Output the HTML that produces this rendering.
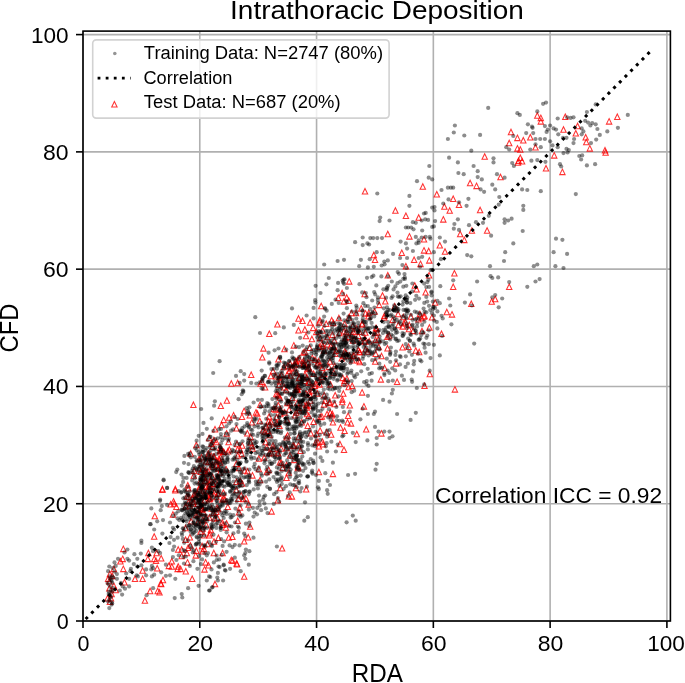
<!DOCTYPE html>
<html><head><meta charset="utf-8"><style>
html,body{margin:0;padding:0;background:#fff;}
body{width:685px;height:683px;overflow:hidden;}
svg{display:block;will-change:transform;}
</style></head><body>
<svg width="685" height="683" viewBox="0 0 685 683">
<rect width="685" height="683" fill="#fff"/>
<g stroke="#b0b0b0" stroke-width="1.6"><line x1="83.00" y1="31.10" x2="83.00" y2="621.00"/><line x1="83.00" y1="621.00" x2="670.40" y2="621.00"/><line x1="199.78" y1="31.10" x2="199.78" y2="621.00"/><line x1="83.00" y1="503.72" x2="670.40" y2="503.72"/><line x1="316.56" y1="31.10" x2="316.56" y2="621.00"/><line x1="83.00" y1="386.44" x2="670.40" y2="386.44"/><line x1="433.34" y1="31.10" x2="433.34" y2="621.00"/><line x1="83.00" y1="269.16" x2="670.40" y2="269.16"/><line x1="550.12" y1="31.10" x2="550.12" y2="621.00"/><line x1="83.00" y1="151.88" x2="670.40" y2="151.88"/><line x1="666.90" y1="31.10" x2="666.90" y2="621.00"/><line x1="83.00" y1="34.60" x2="670.40" y2="34.60"/></g><g fill="none" stroke="#ff0000" stroke-width="1.05" stroke-opacity="0.8" stroke-linejoin="miter"><path d="M220.1 444.9L222.8 450.4L217.4 450.4Z"/><path d="M210.1 530.5L212.8 536.0L207.4 536.0Z"/><path d="M260.1 401.9L262.8 407.4L257.4 407.4Z"/><path d="M176.4 503.9L179.1 509.4L173.7 509.4Z"/><path d="M298.5 315.7L301.2 321.2L295.8 321.2Z"/><path d="M289.5 367.7L292.2 373.2L286.8 373.2Z"/><path d="M172.9 511.8L175.6 517.3L170.2 517.3Z"/><path d="M212.3 461.7L215.0 467.2L209.6 467.2Z"/><path d="M303.5 358.1L306.2 363.6L300.8 363.6Z"/><path d="M142.6 576.0L145.3 581.5L139.9 581.5Z"/><path d="M319.7 381.6L322.4 387.1L317.0 387.1Z"/><path d="M361.2 305.6L363.9 311.1L358.5 311.1Z"/><path d="M109.3 585.4L112.0 590.9L106.6 590.9Z"/><path d="M562.4 169.1L565.1 174.6L559.7 174.6Z"/><path d="M220.8 403.0L223.5 408.5L218.1 408.5Z"/><path d="M287.1 417.2L289.8 422.7L284.4 422.7Z"/><path d="M453.2 284.0L455.9 289.5L450.5 289.5Z"/><path d="M218.2 490.7L220.9 496.2L215.5 496.2Z"/><path d="M218.4 465.3L221.1 470.8L215.7 470.8Z"/><path d="M232.4 534.0L235.1 539.5L229.7 539.5Z"/><path d="M314.9 383.0L317.6 388.5L312.2 388.5Z"/><path d="M223.0 522.0L225.7 527.5L220.3 527.5Z"/><path d="M273.0 442.7L275.7 448.2L270.3 448.2Z"/><path d="M193.4 401.9L196.1 407.4L190.7 407.4Z"/><path d="M223.8 449.2L226.5 454.7L221.1 454.7Z"/><path d="M523.3 137.4L526.0 142.9L520.6 142.9Z"/><path d="M247.3 430.4L250.0 435.9L244.6 435.9Z"/><path d="M211.5 505.8L214.2 511.3L208.8 511.3Z"/><path d="M331.7 317.5L334.4 323.0L329.0 323.0Z"/><path d="M223.5 448.9L226.2 454.4L220.8 454.4Z"/><path d="M312.3 355.1L315.0 360.6L309.6 360.6Z"/><path d="M237.6 446.7L240.3 452.2L234.9 452.2Z"/><path d="M214.7 515.6L217.4 521.1L212.0 521.1Z"/><path d="M286.5 475.0L289.2 480.5L283.8 480.5Z"/><path d="M518.6 157.9L521.3 163.4L515.9 163.4Z"/><path d="M387.5 345.5L390.2 351.0L384.8 351.0Z"/><path d="M332.9 419.5L335.6 425.0L330.2 425.0Z"/><path d="M345.4 335.2L348.1 340.7L342.7 340.7Z"/><path d="M298.5 327.4L301.2 332.9L295.8 332.9Z"/><path d="M424.5 383.0L427.2 388.5L421.8 388.5Z"/><path d="M120.4 558.4L123.1 563.9L117.7 563.9Z"/><path d="M213.3 481.1L216.0 486.6L210.6 486.6Z"/><path d="M290.0 452.8L292.7 458.3L287.3 458.3Z"/><path d="M279.9 378.5L282.6 384.0L277.2 384.0Z"/><path d="M424.0 247.6L426.7 253.1L421.3 253.1Z"/><path d="M231.3 380.8L234.0 386.3L228.6 386.3Z"/><path d="M470.1 180.2L472.8 185.7L467.4 185.7Z"/><path d="M280.3 485.3L283.0 490.8L277.6 490.8Z"/><path d="M296.7 361.2L299.4 366.7L294.0 366.7Z"/><path d="M324.3 371.1L327.0 376.6L321.6 376.6Z"/><path d="M228.6 439.2L231.3 444.7L225.9 444.7Z"/><path d="M113.9 583.1L116.6 588.6L111.2 588.6Z"/><path d="M204.5 497.8L207.2 503.3L201.8 503.3Z"/><path d="M331.2 431.8L333.9 437.3L328.5 437.3Z"/><path d="M308.0 359.5L310.7 365.0L305.3 365.0Z"/><path d="M156.0 557.9L158.7 563.4L153.3 563.4Z"/><path d="M368.7 310.2L371.4 315.7L366.0 315.7Z"/><path d="M432.0 314.4L434.7 319.9L429.3 319.9Z"/><path d="M414.8 282.7L417.5 288.2L412.1 288.2Z"/><path d="M219.3 457.4L222.0 462.9L216.6 462.9Z"/><path d="M154.2 556.1L156.9 561.6L151.5 561.6Z"/><path d="M309.2 379.2L311.9 384.7L306.5 384.7Z"/><path d="M208.5 562.5L211.2 568.0L205.8 568.0Z"/><path d="M364.6 291.3L367.3 296.8L361.9 296.8Z"/><path d="M298.6 434.2L301.3 439.7L295.9 439.7Z"/><path d="M402.7 323.6L405.4 329.1L400.0 329.1Z"/><path d="M487.1 227.7L489.8 233.2L484.4 233.2Z"/><path d="M429.1 272.4L431.8 277.9L426.4 277.9Z"/><path d="M376.0 325.3L378.7 330.8L373.3 330.8Z"/><path d="M500.5 174.3L503.2 179.8L497.8 179.8Z"/><path d="M359.5 349.2L362.2 354.7L356.8 354.7Z"/><path d="M424.0 236.5L426.7 242.0L421.3 242.0Z"/><path d="M290.5 372.8L293.2 378.3L287.8 378.3Z"/><path d="M563.5 126.8L566.2 132.3L560.8 132.3Z"/><path d="M509.2 140.3L511.9 145.8L506.5 145.8Z"/><path d="M241.1 492.5L243.8 498.0L238.4 498.0Z"/><path d="M268.6 418.4L271.3 423.9L265.9 423.9Z"/><path d="M589.8 145.6L592.5 151.1L587.1 151.1Z"/><path d="M365.5 346.4L368.2 351.9L362.8 351.9Z"/><path d="M266.7 469.2L269.4 474.7L264.0 474.7Z"/><path d="M202.8 517.1L205.5 522.6L200.1 522.6Z"/><path d="M338.9 315.3L341.6 320.8L336.2 320.8Z"/><path d="M605.6 149.7L608.3 155.2L602.9 155.2Z"/><path d="M429.3 257.6L432.0 263.1L426.6 263.1Z"/><path d="M302.5 318.0L305.2 323.5L299.8 323.5Z"/><path d="M295.8 358.7L298.5 364.2L293.1 364.2Z"/><path d="M454.4 270.5L457.1 276.0L451.7 276.0Z"/><path d="M375.7 351.0L378.4 356.5L373.0 356.5Z"/><path d="M585.7 134.5L588.4 140.0L583.0 140.0Z"/><path d="M111.6 591.3L114.3 596.8L108.9 596.8Z"/><path d="M203.3 509.3L206.0 514.8L200.6 514.8Z"/><path d="M279.5 423.0L282.2 428.5L276.8 428.5Z"/><path d="M323.0 441.5L325.7 447.0L320.3 447.0Z"/><path d="M222.3 519.8L225.0 525.3L219.6 525.3Z"/><path d="M586.3 139.2L589.0 144.7L583.6 144.7Z"/><path d="M287.0 372.3L289.7 377.8L284.3 377.8Z"/><path d="M394.7 303.4L397.4 308.9L392.0 308.9Z"/><path d="M223.4 489.7L226.1 495.2L220.7 495.2Z"/><path d="M185.8 568.4L188.5 573.9L183.1 573.9Z"/><path d="M220.3 459.8L223.0 465.3L217.6 465.3Z"/><path d="M271.0 419.2L273.7 424.7L268.3 424.7Z"/><path d="M298.8 404.9L301.5 410.4L296.1 410.4Z"/><path d="M316.7 431.3L319.4 436.8L314.0 436.8Z"/><path d="M219.8 469.8L222.5 475.3L217.1 475.3Z"/><path d="M206.0 458.4L208.7 463.9L203.3 463.9Z"/><path d="M269.7 432.2L272.4 437.7L267.0 437.7Z"/><path d="M443.3 216.6L446.0 222.1L440.6 222.1Z"/><path d="M334.6 401.2L337.3 406.7L331.9 406.7Z"/><path d="M211.1 452.9L213.8 458.4L208.4 458.4Z"/><path d="M208.1 483.9L210.8 489.4L205.4 489.4Z"/><path d="M144.9 597.7L147.6 603.2L142.2 603.2Z"/><path d="M292.4 364.4L295.1 369.9L289.7 369.9Z"/><path d="M187.5 559.6L190.2 565.1L184.8 565.1Z"/><path d="M316.2 329.1L318.9 334.6L313.5 334.6Z"/><path d="M204.0 474.3L206.7 479.8L201.3 479.8Z"/><path d="M333.6 344.1L336.3 349.6L330.9 349.6Z"/><path d="M377.1 329.6L379.8 335.1L374.4 335.1Z"/><path d="M342.7 375.1L345.4 380.6L340.0 380.6Z"/><path d="M392.6 317.1L395.3 322.6L389.9 322.6Z"/><path d="M196.3 547.9L199.0 553.4L193.6 553.4Z"/><path d="M384.3 313.1L387.0 318.6L381.6 318.6Z"/><path d="M201.5 454.5L204.2 460.0L198.8 460.0Z"/><path d="M511.0 129.2L513.7 134.7L508.3 134.7Z"/><path d="M195.7 552.6L198.4 558.1L193.0 558.1Z"/><path d="M360.5 338.1L363.2 343.6L357.8 343.6Z"/><path d="M342.3 399.3L345.0 404.8L339.6 404.8Z"/><path d="M286.6 462.3L289.3 467.8L283.9 467.8Z"/><path d="M240.3 447.1L243.0 452.6L237.6 452.6Z"/><path d="M373.8 252.3L376.5 257.8L371.1 257.8Z"/><path d="M248.2 534.4L250.9 539.9L245.5 539.9Z"/><path d="M328.9 364.1L331.6 369.6L326.2 369.6Z"/><path d="M208.1 468.5L210.8 474.0L205.4 474.0Z"/><path d="M205.6 559.6L208.3 565.1L202.9 565.1Z"/><path d="M418.5 316.4L421.2 321.9L415.8 321.9Z"/><path d="M319.7 362.5L322.4 368.0L317.0 368.0Z"/><path d="M265.1 384.4L267.8 389.9L262.4 389.9Z"/><path d="M297.3 386.4L300.0 391.9L294.6 391.9Z"/><path d="M575.8 130.4L578.5 135.9L573.1 135.9Z"/><path d="M359.8 349.2L362.5 354.7L357.1 354.7Z"/><path d="M346.7 294.7L349.4 300.2L344.0 300.2Z"/><path d="M429.8 371.3L432.5 376.8L427.1 376.8Z"/><path d="M194.1 468.0L196.8 473.5L191.4 473.5Z"/><path d="M213.8 550.2L216.5 555.7L211.1 555.7Z"/><path d="M214.6 489.3L217.3 494.8L211.9 494.8Z"/><path d="M491.7 298.7L494.4 304.2L489.0 304.2Z"/><path d="M312.7 387.8L315.4 393.3L310.0 393.3Z"/><path d="M334.7 363.3L337.4 368.8L332.0 368.8Z"/><path d="M384.1 314.7L386.8 320.2L381.4 320.2Z"/><path d="M220.0 448.2L222.7 453.7L217.3 453.7Z"/><path d="M185.6 536.9L188.3 542.4L182.9 542.4Z"/><path d="M365.5 310.6L368.2 316.1L362.8 316.1Z"/><path d="M284.4 346.2L287.1 351.7L281.7 351.7Z"/><path d="M156.6 550.2L159.3 555.7L153.9 555.7Z"/><path d="M214.1 453.6L216.8 459.1L211.4 459.1Z"/><path d="M382.5 292.8L385.2 298.3L379.8 298.3Z"/><path d="M326.2 320.9L328.9 326.4L323.5 326.4Z"/><path d="M206.3 483.5L209.0 489.0L203.6 489.0Z"/><path d="M222.6 550.2L225.3 555.7L219.9 555.7Z"/><path d="M286.7 445.3L289.4 450.8L284.0 450.8Z"/><path d="M250.2 523.8L252.9 529.3L247.5 529.3Z"/><path d="M311.9 336.2L314.6 341.7L309.2 341.7Z"/><path d="M225.9 524.8L228.6 530.3L223.2 530.3Z"/><path d="M236.6 560.8L239.3 566.3L233.9 566.3Z"/><path d="M303.4 360.3L306.1 365.8L300.7 365.8Z"/><path d="M224.9 496.4L227.6 501.9L222.2 501.9Z"/><path d="M324.0 401.6L326.7 407.1L321.3 407.1Z"/><path d="M229.1 414.8L231.8 420.3L226.4 420.3Z"/><path d="M291.1 365.6L293.8 371.1L288.4 371.1Z"/><path d="M237.7 518.0L240.4 523.5L235.0 523.5Z"/><path d="M275.6 406.7L278.3 412.2L272.9 412.2Z"/><path d="M425.6 289.4L428.3 294.9L422.9 294.9Z"/><path d="M181.7 546.7L184.4 552.2L179.0 552.2Z"/><path d="M315.1 356.9L317.8 362.4L312.4 362.4Z"/><path d="M236.4 461.0L239.1 466.5L233.7 466.5Z"/><path d="M293.8 342.6L296.5 348.1L291.1 348.1Z"/><path d="M326.7 429.5L329.4 435.0L324.0 435.0Z"/><path d="M338.3 294.9L341.0 300.4L335.6 300.4Z"/><path d="M199.7 484.3L202.4 489.8L197.0 489.8Z"/><path d="M173.5 498.6L176.2 504.1L170.8 504.1Z"/><path d="M287.4 400.3L290.1 405.8L284.7 405.8Z"/><path d="M258.8 466.3L261.5 471.8L256.1 471.8Z"/><path d="M193.3 500.7L196.0 506.2L190.6 506.2Z"/><path d="M278.4 356.5L281.1 362.0L275.7 362.0Z"/><path d="M222.3 496.7L225.0 502.2L219.6 502.2Z"/><path d="M346.3 329.2L349.0 334.7L343.6 334.7Z"/><path d="M237.7 380.2L240.4 385.7L235.0 385.7Z"/><path d="M204.5 566.6L207.2 572.1L201.8 572.1Z"/><path d="M308.4 379.9L311.1 385.4L305.7 385.4Z"/><path d="M546.0 165.5L548.7 171.0L543.3 171.0Z"/><path d="M252.0 443.1L254.7 448.6L249.3 448.6Z"/><path d="M313.1 325.1L315.8 330.6L310.4 330.6Z"/><path d="M185.6 525.3L188.3 530.8L182.9 530.8Z"/><path d="M384.6 365.2L387.3 370.7L381.9 370.7Z"/><path d="M174.1 500.7L176.8 506.2L171.4 506.2Z"/><path d="M113.9 566.1L116.6 571.6L111.2 571.6Z"/><path d="M288.8 469.8L291.5 475.3L286.1 475.3Z"/><path d="M197.7 501.0L200.4 506.5L195.0 506.5Z"/><path d="M190.7 450.7L193.4 456.2L188.0 456.2Z"/><path d="M269.4 421.7L272.1 427.2L266.7 427.2Z"/><path d="M161.2 555.5L163.9 561.0L158.5 561.0Z"/><path d="M278.2 450.6L280.9 456.1L275.5 456.1Z"/><path d="M216.6 462.4L219.3 467.9L213.9 467.9Z"/><path d="M297.9 465.2L300.6 470.7L295.2 470.7Z"/><path d="M362.1 321.6L364.8 327.1L359.4 327.1Z"/><path d="M344.0 447.0L346.7 452.5L341.3 452.5Z"/><path d="M269.4 450.2L272.1 455.7L266.7 455.7Z"/><path d="M398.4 322.3L401.1 327.8L395.7 327.8Z"/><path d="M203.9 546.1L206.6 551.6L201.2 551.6Z"/><path d="M423.8 313.8L426.5 319.3L421.1 319.3Z"/><path d="M309.3 365.7L312.0 371.2L306.6 371.2Z"/><path d="M322.3 365.0L325.0 370.5L319.6 370.5Z"/><path d="M309.6 345.0L312.3 350.5L306.9 350.5Z"/><path d="M273.1 445.9L275.8 451.4L270.4 451.4Z"/><path d="M207.4 541.3L210.1 546.8L204.7 546.8Z"/><path d="M188.6 499.7L191.3 505.2L185.9 505.2Z"/><path d="M187.8 482.4L190.5 487.9L185.1 487.9Z"/><path d="M452.0 311.6L454.7 317.1L449.3 317.1Z"/><path d="M278.7 392.6L281.4 398.1L276.0 398.1Z"/><path d="M352.8 323.1L355.5 328.6L350.1 328.6Z"/><path d="M321.2 303.2L323.9 308.7L318.5 308.7Z"/><path d="M330.3 409.9L333.0 415.4L327.6 415.4Z"/><path d="M212.7 443.9L215.4 449.4L210.0 449.4Z"/><path d="M313.5 418.9L316.2 424.4L310.8 424.4Z"/><path d="M221.6 422.3L224.3 427.8L218.9 427.8Z"/><path d="M188.3 485.4L191.0 490.9L185.6 490.9Z"/><path d="M204.9 478.2L207.6 483.7L202.2 483.7Z"/><path d="M349.2 278.6L351.9 284.1L346.5 284.1Z"/><path d="M327.4 334.3L330.1 339.8L324.7 339.8Z"/><path d="M260.1 477.2L262.8 482.7L257.4 482.7Z"/><path d="M374.6 308.7L377.3 314.2L371.9 314.2Z"/><path d="M354.0 352.5L356.7 358.0L351.3 358.0Z"/><path d="M228.8 534.7L231.5 540.2L226.1 540.2Z"/><path d="M202.6 525.7L205.3 531.2L199.9 531.2Z"/><path d="M200.5 528.8L203.2 534.3L197.8 534.3Z"/><path d="M330.6 343.5L333.3 349.0L327.9 349.0Z"/><path d="M318.9 469.3L321.6 474.8L316.2 474.8Z"/><path d="M193.5 498.9L196.2 504.4L190.8 504.4Z"/><path d="M419.2 349.2L421.9 354.7L416.5 354.7Z"/><path d="M203.8 491.7L206.5 497.2L201.1 497.2Z"/><path d="M436.8 191.4L439.5 196.9L434.1 196.9Z"/><path d="M540.8 118.6L543.5 124.1L538.1 124.1Z"/><path d="M206.3 522.2L209.0 527.7L203.6 527.7Z"/><path d="M279.8 459.5L282.5 465.0L277.1 465.0Z"/><path d="M189.9 534.5L192.6 540.0L187.2 540.0Z"/><path d="M171.8 558.4L174.5 563.9L169.1 563.9Z"/><path d="M577.6 123.3L580.3 128.8L574.9 128.8Z"/><path d="M219.0 455.6L221.7 461.1L216.3 461.1Z"/><path d="M287.6 432.6L290.3 438.1L284.9 438.1Z"/><path d="M178.2 563.7L180.9 569.2L175.5 569.2Z"/><path d="M335.2 351.0L337.9 356.5L332.5 356.5Z"/><path d="M416.6 286.5L419.3 292.0L413.9 292.0Z"/><path d="M198.3 510.8L201.0 516.3L195.6 516.3Z"/><path d="M159.5 589.5L162.2 595.0L156.8 595.0Z"/><path d="M297.5 384.3L300.2 389.8L294.8 389.8Z"/><path d="M484.7 153.8L487.4 159.3L482.0 159.3Z"/><path d="M347.5 419.5L350.2 425.0L344.8 425.0Z"/><path d="M216.5 494.2L219.2 499.7L213.8 499.7Z"/><path d="M530.3 134.5L533.0 140.0L527.6 140.0Z"/><path d="M204.7 469.4L207.4 474.9L202.0 474.9Z"/><path d="M343.3 390.8L346.0 396.3L340.6 396.3Z"/><path d="M271.4 450.5L274.1 456.0L268.7 456.0Z"/><path d="M209.3 514.8L212.0 520.3L206.6 520.3Z"/><path d="M271.6 508.6L274.3 514.1L268.9 514.1Z"/><path d="M197.9 519.4L200.6 524.9L195.2 524.9Z"/><path d="M186.9 550.2L189.6 555.7L184.2 555.7Z"/><path d="M320.3 414.1L323.0 419.6L317.6 419.6Z"/><path d="M112.2 573.1L114.9 578.6L109.5 578.6Z"/><path d="M276.3 391.2L279.0 396.7L273.6 396.7Z"/><path d="M273.0 368.2L275.7 373.7L270.3 373.7Z"/><path d="M403.9 320.5L406.6 326.0L401.2 326.0Z"/><path d="M308.5 364.7L311.2 370.2L305.8 370.2Z"/><path d="M216.4 439.3L219.1 444.8L213.7 444.8Z"/><path d="M210.3 477.5L213.0 483.0L207.6 483.0Z"/><path d="M279.7 374.4L282.4 379.9L277.0 379.9Z"/><path d="M242.2 480.7L244.9 486.2L239.5 486.2Z"/><path d="M251.2 372.0L253.9 377.5L248.5 377.5Z"/><path d="M352.3 357.4L355.0 362.9L349.6 362.9Z"/><path d="M213.3 481.0L216.0 486.5L210.6 486.5Z"/><path d="M294.1 443.2L296.8 448.7L291.4 448.7Z"/><path d="M520.3 146.8L523.0 152.3L517.6 152.3Z"/><path d="M396.1 360.6L398.8 366.1L393.4 366.1Z"/><path d="M351.5 310.3L354.2 315.8L348.8 315.8Z"/><path d="M329.4 400.1L332.1 405.6L326.7 405.6Z"/><path d="M296.8 386.3L299.5 391.8L294.1 391.8Z"/><path d="M339.5 330.1L342.2 335.6L336.8 335.6Z"/><path d="M279.2 382.1L281.9 387.6L276.5 387.6Z"/><path d="M209.2 496.5L211.9 502.0L206.5 502.0Z"/><path d="M202.1 543.2L204.8 548.7L199.4 548.7Z"/><path d="M237.8 452.8L240.5 458.3L235.1 458.3Z"/><path d="M214.0 538.8L216.7 544.3L211.3 544.3Z"/><path d="M202.8 466.3L205.5 471.8L200.1 471.8Z"/><path d="M194.1 491.8L196.8 497.3L191.4 497.3Z"/><path d="M226.6 430.6L229.3 436.1L223.9 436.1Z"/><path d="M422.0 328.2L424.7 333.7L419.3 333.7Z"/><path d="M226.9 397.8L229.6 403.3L224.2 403.3Z"/><path d="M540.8 115.1L543.5 120.6L538.1 120.6Z"/><path d="M439.8 242.4L442.5 247.9L437.1 247.9Z"/><path d="M188.4 493.9L191.1 499.4L185.7 499.4Z"/><path d="M320.1 427.7L322.8 433.2L317.4 433.2Z"/><path d="M268.3 428.1L271.0 433.6L265.6 433.6Z"/><path d="M318.7 358.5L321.4 364.0L316.0 364.0Z"/><path d="M348.0 334.1L350.7 339.6L345.3 339.6Z"/><path d="M221.6 447.3L224.3 452.8L218.9 452.8Z"/><path d="M160.7 580.7L163.4 586.2L158.0 586.2Z"/><path d="M148.4 550.2L151.1 555.7L145.7 555.7Z"/><path d="M248.6 501.6L251.3 507.1L245.9 507.1Z"/><path d="M444.4 203.7L447.1 209.2L441.7 209.2Z"/><path d="M387.8 231.2L390.5 236.7L385.1 236.7Z"/><path d="M310.8 430.5L313.5 436.0L308.1 436.0Z"/><path d="M109.9 571.3L112.6 576.8L107.2 576.8Z"/><path d="M298.5 383.9L301.2 389.4L295.8 389.4Z"/><path d="M154.2 533.8L156.9 539.3L151.5 539.3Z"/><path d="M321.8 413.6L324.5 419.1L319.1 419.1Z"/><path d="M202.7 548.5L205.4 554.0L200.0 554.0Z"/><path d="M218.2 506.2L220.9 511.7L215.5 511.7Z"/><path d="M226.5 520.6L229.2 526.1L223.8 526.1Z"/><path d="M123.3 566.1L126.0 571.6L120.6 571.6Z"/><path d="M239.0 465.3L241.7 470.8L236.3 470.8Z"/><path d="M277.7 391.6L280.4 397.1L275.0 397.1Z"/><path d="M344.6 321.1L347.3 326.6L341.9 326.6Z"/><path d="M199.1 486.4L201.8 491.9L196.4 491.9Z"/><path d="M358.7 357.7L361.4 363.2L356.0 363.2Z"/><path d="M322.6 327.8L325.3 333.3L319.9 333.3Z"/><path d="M181.7 553.2L184.4 558.7L179.0 558.7Z"/><path d="M303.7 361.9L306.4 367.4L301.0 367.4Z"/><path d="M259.8 418.2L262.5 423.7L257.1 423.7Z"/><path d="M287.8 362.7L290.5 368.2L285.1 368.2Z"/><path d="M244.2 538.5L246.9 544.0L241.5 544.0Z"/><path d="M453.2 196.0L455.9 201.5L450.5 201.5Z"/><path d="M364.8 338.6L367.5 344.1L362.1 344.1Z"/><path d="M395.4 207.8L398.1 213.3L392.7 213.3Z"/><path d="M554.2 152.6L556.9 158.1L551.5 158.1Z"/><path d="M301.8 419.5L304.5 425.0L299.1 425.0Z"/><path d="M191.1 518.4L193.8 523.9L188.4 523.9Z"/><path d="M284.6 409.6L287.3 415.1L281.9 415.1Z"/><path d="M239.9 504.7L242.6 510.2L237.2 510.2Z"/><path d="M268.7 467.1L271.4 472.6L266.0 472.6Z"/><path d="M375.0 330.2L377.7 335.7L372.3 335.7Z"/><path d="M306.8 402.3L309.5 407.8L304.1 407.8Z"/><path d="M157.7 588.3L160.4 593.8L155.0 593.8Z"/><path d="M124.5 579.5L127.2 585.0L121.8 585.0Z"/><path d="M108.1 576.0L110.8 581.5L105.4 581.5Z"/><path d="M175.3 486.3L178.0 491.8L172.6 491.8Z"/><path d="M288.8 493.5L291.5 499.0L286.1 499.0Z"/><path d="M192.2 576.0L194.9 581.5L189.5 581.5Z"/><path d="M294.2 457.1L296.9 462.6L291.5 462.6Z"/><path d="M198.0 506.8L200.7 512.3L195.3 512.3Z"/><path d="M292.3 394.9L295.0 400.4L289.6 400.4Z"/><path d="M403.3 314.3L406.0 319.8L400.6 319.8Z"/><path d="M263.4 345.6L266.1 351.1L260.7 351.1Z"/><path d="M206.1 478.1L208.8 483.6L203.4 483.6Z"/><path d="M518.0 159.7L520.7 165.2L515.3 165.2Z"/><path d="M277.9 497.4L280.6 502.9L275.2 502.9Z"/><path d="M201.1 498.3L203.8 503.8L198.4 503.8Z"/><path d="M281.4 460.0L284.1 465.5L278.7 465.5Z"/><path d="M336.1 347.9L338.8 353.4L333.4 353.4Z"/><path d="M522.1 158.5L524.8 164.0L519.4 164.0Z"/><path d="M280.4 411.2L283.1 416.7L277.7 416.7Z"/><path d="M332.9 471.1L335.6 476.6L330.2 476.6Z"/><path d="M330.5 381.6L333.2 387.1L327.8 387.1Z"/><path d="M297.1 400.1L299.8 405.6L294.4 405.6Z"/><path d="M266.8 444.4L269.5 449.9L264.1 449.9Z"/><path d="M369.2 338.4L371.9 343.9L366.5 343.9Z"/><path d="M376.6 325.8L379.3 331.3L373.9 331.3Z"/><path d="M413.2 328.1L415.9 333.6L410.5 333.6Z"/><path d="M298.5 442.4L301.2 447.9L295.8 447.9Z"/><path d="M449.7 207.8L452.4 213.3L447.0 213.3Z"/><path d="M216.7 458.4L219.4 463.9L214.0 463.9Z"/><path d="M324.2 392.5L326.9 398.0L321.5 398.0Z"/><path d="M340.5 424.7L343.2 430.2L337.8 430.2Z"/><path d="M299.0 375.1L301.7 380.6L296.3 380.6Z"/><path d="M282.6 465.1L285.3 470.6L279.9 470.6Z"/><path d="M344.6 427.9L347.3 433.4L341.9 433.4Z"/><path d="M387.4 334.0L390.1 339.5L384.7 339.5Z"/><path d="M306.9 374.4L309.6 379.9L304.2 379.9Z"/><path d="M349.8 402.5L352.5 408.0L347.1 408.0Z"/><path d="M303.4 349.8L306.1 355.3L300.7 355.3Z"/><path d="M226.2 466.6L228.9 472.1L223.5 472.1Z"/><path d="M322.8 343.3L325.5 348.8L320.1 348.8Z"/><path d="M236.4 425.4L239.1 430.9L233.7 430.9Z"/><path d="M356.1 310.2L358.8 315.7L353.4 315.7Z"/><path d="M293.1 442.6L295.8 448.1L290.4 448.1Z"/><path d="M332.5 331.9L335.2 337.4L329.8 337.4Z"/><path d="M201.3 505.0L204.0 510.5L198.6 510.5Z"/><path d="M263.0 427.4L265.7 432.9L260.3 432.9Z"/><path d="M189.7 502.8L192.4 508.3L187.0 508.3Z"/><path d="M250.6 439.6L253.3 445.1L247.9 445.1Z"/><path d="M318.9 443.5L321.6 449.0L316.2 449.0Z"/><path d="M240.2 478.1L242.9 483.6L237.5 483.6Z"/><path d="M307.3 366.3L310.0 371.8L304.6 371.8Z"/><path d="M175.3 487.5L178.0 493.0L172.6 493.0Z"/><path d="M446.8 309.2L449.5 314.7L444.1 314.7Z"/><path d="M305.0 371.9L307.7 377.4L302.3 377.4Z"/><path d="M273.8 406.3L276.5 411.8L271.1 411.8Z"/><path d="M333.3 320.1L336.0 325.6L330.6 325.6Z"/><path d="M296.2 409.8L298.9 415.3L293.5 415.3Z"/><path d="M207.5 488.0L210.2 493.5L204.8 493.5Z"/><path d="M277.7 449.7L280.4 455.2L275.0 455.2Z"/><path d="M617.3 113.9L620.0 119.4L614.6 119.4Z"/><path d="M297.7 357.5L300.4 363.0L295.0 363.0Z"/><path d="M329.9 358.7L332.6 364.2L327.2 364.2Z"/><path d="M299.4 374.8L302.1 380.3L296.7 380.3Z"/><path d="M213.9 437.2L216.6 442.7L211.2 442.7Z"/><path d="M366.2 426.5L368.9 432.0L363.5 432.0Z"/><path d="M435.1 299.8L437.8 305.3L432.4 305.3Z"/><path d="M171.8 563.7L174.5 569.2L169.1 569.2Z"/><path d="M244.1 408.3L246.8 413.8L241.4 413.8Z"/><path d="M218.4 535.0L221.1 540.5L215.7 540.5Z"/><path d="M205.5 467.8L208.2 473.3L202.8 473.3Z"/><path d="M289.9 400.3L292.6 405.8L287.2 405.8Z"/><path d="M319.8 317.4L322.5 322.9L317.1 322.9Z"/><path d="M201.6 506.8L204.3 512.3L198.9 512.3Z"/><path d="M317.8 439.2L320.5 444.7L315.1 444.7Z"/><path d="M358.3 333.0L361.0 338.5L355.6 338.5Z"/><path d="M414.1 257.0L416.8 262.5L411.4 262.5Z"/><path d="M343.5 353.2L346.2 358.7L340.8 358.7Z"/><path d="M290.2 360.8L292.9 366.3L287.5 366.3Z"/><path d="M313.6 371.0L316.3 376.5L310.9 376.5Z"/><path d="M375.2 358.8L377.9 364.3L372.5 364.3Z"/><path d="M379.2 302.1L381.9 307.6L376.5 307.6Z"/><path d="M509.2 284.0L511.9 289.5L506.5 289.5Z"/><path d="M353.1 328.9L355.8 334.4L350.4 334.4Z"/><path d="M210.8 527.3L213.5 532.8L208.1 532.8Z"/><path d="M389.1 332.7L391.8 338.2L386.4 338.2Z"/><path d="M310.3 397.8L313.0 403.3L307.6 403.3Z"/><path d="M429.4 324.8L432.1 330.3L426.7 330.3Z"/><path d="M319.2 319.6L321.9 325.1L316.5 325.1Z"/><path d="M385.3 298.5L388.0 304.0L382.6 304.0Z"/><path d="M217.8 490.7L220.5 496.2L215.1 496.2Z"/><path d="M243.5 496.2L246.2 501.7L240.8 501.7Z"/><path d="M415.8 347.8L418.5 353.3L413.1 353.3Z"/><path d="M209.8 495.8L212.5 501.3L207.1 501.3Z"/><path d="M244.6 467.7L247.3 473.2L241.9 473.2Z"/><path d="M147.8 556.1L150.5 561.6L145.1 561.6Z"/><path d="M276.4 420.1L279.1 425.6L273.7 425.6Z"/><path d="M344.5 378.0L347.2 383.5L341.8 383.5Z"/><path d="M209.5 482.7L212.2 488.2L206.8 488.2Z"/><path d="M244.2 573.7L246.9 579.2L241.5 579.2Z"/><path d="M363.9 403.6L366.6 409.1L361.2 409.1Z"/><path d="M250.6 434.1L253.3 439.6L247.9 439.6Z"/><path d="M208.4 452.7L211.1 458.2L205.7 458.2Z"/><path d="M300.4 447.9L303.1 453.4L297.7 453.4Z"/><path d="M409.4 233.6L412.1 239.1L406.7 239.1Z"/><path d="M186.9 493.8L189.6 499.3L184.2 499.3Z"/><path d="M381.4 430.6L384.1 436.1L378.7 436.1Z"/><path d="M200.4 478.4L203.1 483.9L197.7 483.9Z"/><path d="M264.2 454.8L266.9 460.3L261.5 460.3Z"/><path d="M441.5 330.9L444.2 336.4L438.8 336.4Z"/><path d="M232.5 557.9L235.2 563.4L229.8 563.4Z"/><path d="M275.9 373.4L278.6 378.9L273.2 378.9Z"/><path d="M330.0 399.2L332.7 404.7L327.3 404.7Z"/><path d="M304.9 349.1L307.6 354.6L302.2 354.6Z"/><path d="M211.5 440.9L214.2 446.4L208.8 446.4Z"/><path d="M233.6 412.4L236.3 417.9L230.9 417.9Z"/><path d="M195.6 491.8L198.3 497.3L192.9 497.3Z"/><path d="M408.6 344.0L411.3 349.5L405.9 349.5Z"/><path d="M345.9 350.1L348.6 355.6L343.2 355.6Z"/><path d="M212.5 463.8L215.2 469.3L209.8 469.3Z"/><path d="M421.5 315.2L424.2 320.7L418.8 320.7Z"/><path d="M352.3 331.8L355.0 337.3L349.6 337.3Z"/><path d="M333.8 370.0L336.5 375.5L331.1 375.5Z"/><path d="M203.6 474.7L206.3 480.2L200.9 480.2Z"/><path d="M196.3 442.3L199.0 447.8L193.6 447.8Z"/><path d="M210.5 490.7L213.2 496.2L207.8 496.2Z"/><path d="M306.8 404.8L309.5 410.3L304.1 410.3Z"/><path d="M351.0 420.6L353.7 426.1L348.3 426.1Z"/><path d="M418.7 214.8L421.4 220.3L416.0 220.3Z"/><path d="M419.9 311.2L422.6 316.7L417.2 316.7Z"/><path d="M342.1 290.3L344.8 295.8L339.4 295.8Z"/><path d="M517.4 145.6L520.1 151.1L514.7 151.1Z"/><path d="M252.6 445.7L255.3 451.2L249.9 451.2Z"/><path d="M163.0 577.2L165.7 582.7L160.3 582.7Z"/><path d="M304.7 378.0L307.4 383.5L302.0 383.5Z"/><path d="M349.5 352.8L352.2 358.3L346.8 358.3Z"/><path d="M378.8 344.3L381.5 349.8L376.1 349.8Z"/><path d="M278.3 402.4L281.0 407.9L275.6 407.9Z"/><path d="M309.3 389.1L312.0 394.6L306.6 394.6Z"/><path d="M517.4 135.1L520.1 140.6L514.7 140.6Z"/><path d="M346.9 375.8L349.6 381.3L344.2 381.3Z"/><path d="M201.4 503.2L204.1 508.7L198.7 508.7Z"/><path d="M193.8 472.7L196.5 478.2L191.1 478.2Z"/><path d="M605.0 147.4L607.7 152.9L602.3 152.9Z"/><path d="M334.4 337.7L337.1 343.2L331.7 343.2Z"/><path d="M348.6 384.2L351.3 389.7L345.9 389.7Z"/><path d="M405.4 319.4L408.1 324.9L402.7 324.9Z"/><path d="M177.6 566.1L180.3 571.6L174.9 571.6Z"/><path d="M356.8 431.2L359.5 436.7L354.1 436.7Z"/><path d="M464.3 237.1L467.0 242.6L461.6 242.6Z"/><path d="M356.7 325.7L359.4 331.2L354.0 331.2Z"/><path d="M260.5 380.8L263.2 386.3L257.8 386.3Z"/><path d="M309.8 391.7L312.5 397.2L307.1 397.2Z"/><path d="M322.0 374.1L324.7 379.6L319.3 379.6Z"/><path d="M231.3 557.3L234.0 562.8L228.6 562.8Z"/><path d="M364.9 335.3L367.6 340.8L362.2 340.8Z"/><path d="M217.1 505.0L219.8 510.5L214.4 510.5Z"/><path d="M237.1 561.4L239.8 566.9L234.4 566.9Z"/><path d="M280.4 406.4L283.1 411.9L277.7 411.9Z"/><path d="M387.8 272.4L390.5 277.9L385.1 277.9Z"/><path d="M286.2 387.3L288.9 392.8L283.5 392.8Z"/><path d="M218.4 465.8L221.1 471.3L215.7 471.3Z"/><path d="M220.7 454.5L223.4 460.0L218.0 460.0Z"/><path d="M401.8 250.0L404.5 255.5L399.1 255.5Z"/><path d="M459.0 201.9L461.7 207.4L456.3 207.4Z"/><path d="M202.6 506.1L205.3 511.6L199.9 511.6Z"/><path d="M251.9 419.5L254.6 425.0L249.2 425.0Z"/><path d="M161.2 581.3L163.9 586.8L158.5 586.8Z"/><path d="M327.5 341.4L330.2 346.9L324.8 346.9Z"/><path d="M565.3 113.9L568.0 119.4L562.6 119.4Z"/><path d="M212.5 473.9L215.2 479.4L209.8 479.4Z"/><path d="M246.0 495.7L248.7 501.2L243.3 501.2Z"/><path d="M115.7 587.2L118.4 592.7L113.0 592.7Z"/><path d="M122.7 556.1L125.4 561.6L120.0 561.6Z"/><path d="M107.5 595.4L110.2 600.9L104.8 600.9Z"/><path d="M242.0 413.9L244.7 419.4L239.3 419.4Z"/><path d="M299.2 407.8L301.9 413.3L296.5 413.3Z"/><path d="M309.4 403.3L312.1 408.8L306.7 408.8Z"/><path d="M378.3 336.7L381.0 342.2L375.6 342.2Z"/><path d="M203.6 487.8L206.3 493.3L200.9 493.3Z"/><path d="M284.0 364.2L286.7 369.7L281.3 369.7Z"/><path d="M217.1 481.4L219.8 486.9L214.4 486.9Z"/><path d="M289.1 406.7L291.8 412.2L286.4 412.2Z"/><path d="M168.8 563.1L171.5 568.6L166.1 568.6Z"/><path d="M217.4 514.9L220.1 520.4L214.7 520.4Z"/><path d="M269.1 413.8L271.8 419.3L266.4 419.3Z"/><path d="M109.3 578.4L112.0 583.9L106.6 583.9Z"/><path d="M142.6 567.8L145.3 573.3L139.9 573.3Z"/><path d="M375.5 337.1L378.2 342.6L372.8 342.6Z"/><path d="M111.0 595.4L113.7 600.9L108.3 600.9Z"/><path d="M238.4 496.0L241.1 501.5L235.7 501.5Z"/><path d="M200.6 468.9L203.3 474.4L197.9 474.4Z"/><path d="M405.9 263.5L408.6 269.0L403.2 269.0Z"/><path d="M410.9 313.7L413.6 319.2L408.2 319.2Z"/><path d="M213.6 509.9L216.3 515.4L210.9 515.4Z"/><path d="M218.0 474.5L220.7 480.0L215.3 480.0Z"/><path d="M322.4 438.8L325.1 444.3L319.7 444.3Z"/><path d="M380.8 376.6L383.5 382.1L378.1 382.1Z"/><path d="M242.2 442.7L244.9 448.2L239.5 448.2Z"/><path d="M265.7 439.3L268.4 444.8L263.0 444.8Z"/><path d="M609.1 118.6L611.8 124.1L606.4 124.1Z"/><path d="M306.3 402.3L309.0 407.8L303.6 407.8Z"/><path d="M205.0 493.0L207.7 498.5L202.3 498.5Z"/><path d="M303.1 400.4L305.8 405.9L300.4 405.9Z"/><path d="M304.9 326.8L307.6 332.3L302.2 332.3Z"/><path d="M197.3 490.5L200.0 496.0L194.6 496.0Z"/><path d="M454.9 386.6L457.6 392.1L452.2 392.1Z"/><path d="M241.6 451.1L244.3 456.6L238.9 456.6Z"/><path d="M359.4 329.0L362.1 334.5L356.7 334.5Z"/><path d="M239.0 509.5L241.7 515.0L236.3 515.0Z"/><path d="M341.7 355.5L344.4 361.0L339.0 361.0Z"/><path d="M344.1 328.5L346.8 334.0L341.4 334.0Z"/><path d="M298.2 463.6L300.9 469.1L295.5 469.1Z"/><path d="M295.7 387.1L298.4 392.6L293.0 392.6Z"/><path d="M339.9 441.2L342.6 446.7L337.2 446.7Z"/><path d="M422.8 183.7L425.5 189.2L420.1 189.2Z"/><path d="M286.5 434.5L289.2 440.0L283.8 440.0Z"/><path d="M381.5 353.2L384.2 358.7L378.8 358.7Z"/><path d="M178.2 546.7L180.9 552.2L175.5 552.2Z"/><path d="M297.6 386.7L300.3 392.2L294.9 392.2Z"/><path d="M319.4 344.0L322.1 349.5L316.7 349.5Z"/><path d="M365.0 188.4L367.7 193.9L362.3 193.9Z"/><path d="M281.5 372.1L284.2 377.6L278.8 377.6Z"/><path d="M535.5 144.4L538.2 149.9L532.8 149.9Z"/><path d="M408.9 326.2L411.6 331.7L406.2 331.7Z"/><path d="M352.9 337.6L355.6 343.1L350.2 343.1Z"/><path d="M397.1 378.9L399.8 384.4L394.4 384.4Z"/><path d="M204.0 532.5L206.7 538.0L201.3 538.0Z"/><path d="M317.3 390.6L320.0 396.1L314.6 396.1Z"/><path d="M342.3 396.6L345.0 402.1L339.6 402.1Z"/><path d="M192.5 495.5L195.2 501.0L189.8 501.0Z"/><path d="M269.3 330.9L272.0 336.4L266.6 336.4Z"/><path d="M215.0 426.5L217.7 432.0L212.3 432.0Z"/><path d="M306.0 333.3L308.7 338.8L303.3 338.8Z"/><path d="M264.9 428.9L267.6 434.4L262.2 434.4Z"/><path d="M208.1 493.5L210.8 499.0L205.4 499.0Z"/><path d="M236.5 478.9L239.2 484.4L233.8 484.4Z"/><path d="M199.4 465.8L202.1 471.3L196.7 471.3Z"/><path d="M495.2 296.3L497.9 301.8L492.5 301.8Z"/><path d="M307.7 423.0L310.4 428.5L305.0 428.5Z"/><path d="M157.2 565.5L159.9 571.0L154.5 571.0Z"/><path d="M315.8 439.7L318.5 445.2L313.1 445.2Z"/><path d="M306.9 411.3L309.6 416.8L304.2 416.8Z"/><path d="M362.2 320.7L364.9 326.2L359.5 326.2Z"/><path d="M277.5 420.9L280.2 426.4L274.8 426.4Z"/><path d="M270.8 373.2L273.5 378.7L268.1 378.7Z"/><path d="M424.6 313.2L427.3 318.7L421.9 318.7Z"/><path d="M362.1 389.6L364.8 395.1L359.4 395.1Z"/><path d="M420.5 261.1L423.2 266.6L417.8 266.6Z"/><path d="M256.0 409.6L258.7 415.1L253.3 415.1Z"/><path d="M471.9 227.7L474.6 233.2L469.2 233.2Z"/><path d="M537.3 112.8L540.0 118.3L534.6 118.3Z"/><path d="M180.5 566.1L183.2 571.6L177.8 571.6Z"/><path d="M249.8 412.5L252.5 418.0L247.1 418.0Z"/><path d="M229.3 446.8L232.0 452.3L226.6 452.3Z"/><path d="M252.4 472.6L255.1 478.1L249.7 478.1Z"/><path d="M312.4 384.4L315.1 389.9L309.7 389.9Z"/><path d="M348.1 413.0L350.8 418.5L345.4 418.5Z"/><path d="M409.3 322.3L412.0 327.8L406.6 327.8Z"/><path d="M305.9 390.4L308.6 395.9L303.2 395.9Z"/><path d="M365.3 329.8L368.0 335.3L362.6 335.3Z"/><path d="M209.8 480.7L212.5 486.2L207.1 486.2Z"/><path d="M359.7 359.3L362.4 364.8L357.0 364.8Z"/><path d="M343.9 380.5L346.6 386.0L341.2 386.0Z"/><path d="M188.1 545.0L190.8 550.5L185.4 550.5Z"/><path d="M402.5 344.5L405.2 350.0L399.8 350.0Z"/><path d="M208.5 459.1L211.2 464.6L205.8 464.6Z"/><path d="M295.9 485.3L298.6 490.8L293.2 490.8Z"/><path d="M208.3 450.8L211.0 456.3L205.6 456.3Z"/><path d="M323.9 347.6L326.6 353.1L321.2 353.1Z"/><path d="M216.4 509.0L219.1 514.5L213.7 514.5Z"/><path d="M319.2 377.2L321.9 382.7L316.5 382.7Z"/><path d="M405.9 213.0L408.6 218.5L403.2 218.5Z"/><path d="M325.0 398.0L327.7 403.5L322.3 403.5Z"/><path d="M317.6 360.5L320.3 366.0L314.9 366.0Z"/><path d="M209.4 532.5L212.1 538.0L206.7 538.0Z"/><path d="M294.9 362.3L297.6 367.8L292.2 367.8Z"/><path d="M237.0 441.3L239.7 446.8L234.3 446.8Z"/><path d="M215.0 581.3L217.7 586.8L212.3 586.8Z"/><path d="M348.8 298.0L351.5 303.5L346.1 303.5Z"/><path d="M213.9 454.0L216.6 459.5L211.2 459.5Z"/><path d="M266.3 423.4L269.0 428.9L263.6 428.9Z"/><path d="M212.0 488.0L214.7 493.5L209.3 493.5Z"/><path d="M303.7 361.1L306.4 366.6L301.0 366.6Z"/><path d="M223.6 496.0L226.3 501.5L220.9 501.5Z"/><path d="M227.8 504.0L230.5 509.5L225.1 509.5Z"/><path d="M520.3 155.0L523.0 160.5L517.6 160.5Z"/><path d="M190.4 542.6L193.1 548.1L187.7 548.1Z"/><path d="M315.6 380.8L318.3 386.3L312.9 386.3Z"/><path d="M279.8 394.8L282.5 400.3L277.1 400.3Z"/><path d="M320.0 335.1L322.7 340.6L317.3 340.6Z"/><path d="M282.1 545.5L284.8 551.0L279.4 551.0Z"/><path d="M445.0 248.8L447.7 254.3L442.3 254.3Z"/><path d="M206.0 514.8L208.7 520.3L203.3 520.3Z"/><path d="M227.9 448.4L230.6 453.9L225.2 453.9Z"/><path d="M296.4 369.7L299.1 375.2L293.7 375.2Z"/><path d="M348.9 314.8L351.6 320.3L346.2 320.3Z"/><path d="M247.5 468.4L250.2 473.9L244.8 473.9Z"/><path d="M332.3 411.1L335.0 416.6L329.6 416.6Z"/><path d="M299.3 355.7L302.0 361.2L296.6 361.2Z"/><path d="M162.4 486.3L165.1 491.8L159.7 491.8Z"/><path d="M210.0 495.2L212.7 500.7L207.3 500.7Z"/><path d="M331.9 412.5L334.6 418.0L329.2 418.0Z"/><path d="M257.3 410.8L260.0 416.3L254.6 416.3Z"/><path d="M199.1 456.2L201.8 461.7L196.4 461.7Z"/><path d="M162.4 486.9L165.1 492.4L159.7 492.4Z"/><path d="M335.2 392.5L337.9 398.0L332.5 398.0Z"/><path d="M170.7 501.4L173.4 506.9L168.0 506.9Z"/><path d="M321.9 341.1L324.6 346.6L319.2 346.6Z"/><path d="M150.1 588.3L152.8 593.8L147.4 593.8Z"/><path d="M296.0 358.3L298.7 363.8L293.3 363.8Z"/><path d="M428.7 248.2L431.4 253.7L426.0 253.7Z"/><path d="M206.7 470.8L209.4 476.3L204.0 476.3Z"/><path d="M308.7 413.0L311.4 418.5L306.0 418.5Z"/><path d="M476.5 183.1L479.2 188.6L473.8 188.6Z"/><path d="M123.3 546.1L126.0 551.6L120.6 551.6Z"/><path d="M358.3 347.2L361.0 352.7L355.6 352.7Z"/><path d="M223.7 417.1L226.4 422.6L221.0 422.6Z"/><path d="M258.8 455.8L261.5 461.3L256.1 461.3Z"/><path d="M398.1 311.3L400.8 316.8L395.4 316.8Z"/><path d="M284.3 384.4L287.0 389.9L281.6 389.9Z"/><path d="M291.9 493.6L294.6 499.1L289.2 499.1Z"/><path d="M471.3 301.0L474.0 306.5L468.6 306.5Z"/><path d="M185.6 503.8L188.3 509.3L182.9 509.3Z"/><path d="M209.1 435.3L211.8 440.8L206.4 440.8Z"/><path d="M261.9 379.0L264.6 384.5L259.2 384.5Z"/><path d="M310.1 319.8L312.8 325.3L307.4 325.3Z"/><path d="M368.3 313.5L371.0 319.0L365.6 319.0Z"/><path d="M352.2 383.0L354.9 388.5L349.5 388.5Z"/><path d="M276.7 414.3L279.4 419.8L274.0 419.8Z"/><path d="M344.8 348.7L347.5 354.2L342.1 354.2Z"/><path d="M262.3 354.4L265.0 359.9L259.6 359.9Z"/><path d="M343.8 298.6L346.5 304.1L341.1 304.1Z"/><path d="M236.4 487.3L239.1 492.8L233.7 492.8Z"/><path d="M109.9 598.9L112.6 604.4L107.2 604.4Z"/><path d="M154.8 513.3L157.5 518.8L152.1 518.8Z"/><path d="M281.1 445.8L283.8 451.3L278.4 451.3Z"/><path d="M327.1 411.3L329.8 416.8L324.4 416.8Z"/><path d="M277.4 321.5L280.1 327.0L274.7 327.0Z"/><path d="M460.2 231.2L462.9 236.7L457.5 236.7Z"/><path d="M367.7 348.8L370.4 354.3L365.0 354.3Z"/><path d="M196.2 512.1L198.9 517.6L193.5 517.6Z"/><path d="M480.1 207.2L482.8 212.7L477.4 212.7Z"/><path d="M295.0 412.4L297.7 417.9L292.3 417.9Z"/><path d="M135.0 576.0L137.7 581.5L132.3 581.5Z"/><path d="M375.0 257.0L377.7 262.5L372.3 262.5Z"/><path d="M353.0 352.9L355.7 358.4L350.3 358.4Z"/><path d="M306.2 486.4L308.9 491.9L303.5 491.9Z"/><path d="M220.6 448.5L223.3 454.0L217.9 454.0Z"/></g><g fill="#000" fill-opacity="0.45"><circle cx="394.5" cy="318.4" r="2.1"/><circle cx="277.6" cy="430.3" r="2.1"/><circle cx="224.9" cy="511.2" r="2.1"/><circle cx="352.3" cy="341.9" r="2.1"/><circle cx="195.1" cy="498.1" r="2.1"/><circle cx="439.8" cy="237.5" r="2.1"/><circle cx="189.0" cy="525.4" r="2.1"/><circle cx="181.1" cy="517.8" r="2.1"/><circle cx="211.3" cy="509.1" r="2.1"/><circle cx="407.2" cy="328.1" r="2.1"/><circle cx="398.4" cy="309.2" r="2.1"/><circle cx="211.6" cy="526.5" r="2.1"/><circle cx="230.9" cy="421.4" r="2.1"/><circle cx="199.1" cy="469.1" r="2.1"/><circle cx="287.4" cy="392.7" r="2.1"/><circle cx="292.3" cy="426.8" r="2.1"/><circle cx="627.8" cy="114.9" r="2.1"/><circle cx="586.9" cy="165.4" r="2.1"/><circle cx="322.9" cy="360.2" r="2.1"/><circle cx="312.4" cy="382.0" r="2.1"/><circle cx="344.1" cy="283.8" r="2.1"/><circle cx="127.4" cy="558.8" r="2.1"/><circle cx="537.3" cy="111.4" r="2.1"/><circle cx="406.8" cy="302.5" r="2.1"/><circle cx="216.5" cy="500.8" r="2.1"/><circle cx="306.8" cy="393.9" r="2.1"/><circle cx="315.1" cy="300.2" r="2.1"/><circle cx="239.9" cy="471.9" r="2.1"/><circle cx="292.0" cy="352.4" r="2.1"/><circle cx="339.6" cy="329.9" r="2.1"/><circle cx="280.9" cy="387.8" r="2.1"/><circle cx="200.4" cy="494.2" r="2.1"/><circle cx="108.7" cy="594.0" r="2.1"/><circle cx="333.6" cy="363.0" r="2.1"/><circle cx="424.6" cy="347.7" r="2.1"/><circle cx="213.6" cy="481.4" r="2.1"/><circle cx="223.8" cy="494.6" r="2.1"/><circle cx="210.8" cy="459.9" r="2.1"/><circle cx="326.9" cy="351.5" r="2.1"/><circle cx="502.2" cy="298.5" r="2.1"/><circle cx="213.0" cy="510.9" r="2.1"/><circle cx="544.9" cy="126.1" r="2.1"/><circle cx="405.6" cy="366.9" r="2.1"/><circle cx="196.4" cy="503.0" r="2.1"/><circle cx="215.4" cy="517.3" r="2.1"/><circle cx="205.7" cy="496.0" r="2.1"/><circle cx="215.5" cy="470.7" r="2.1"/><circle cx="218.9" cy="491.9" r="2.1"/><circle cx="187.6" cy="495.2" r="2.1"/><circle cx="470.1" cy="294.4" r="2.1"/><circle cx="216.8" cy="497.3" r="2.1"/><circle cx="227.5" cy="459.9" r="2.1"/><circle cx="272.5" cy="448.4" r="2.1"/><circle cx="382.4" cy="367.9" r="2.1"/><circle cx="307.9" cy="443.2" r="2.1"/><circle cx="183.5" cy="528.5" r="2.1"/><circle cx="490.6" cy="276.2" r="2.1"/><circle cx="259.6" cy="501.4" r="2.1"/><circle cx="299.9" cy="413.2" r="2.1"/><circle cx="239.7" cy="382.9" r="2.1"/><circle cx="357.6" cy="345.3" r="2.1"/><circle cx="224.4" cy="486.7" r="2.1"/><circle cx="313.5" cy="401.9" r="2.1"/><circle cx="249.8" cy="475.9" r="2.1"/><circle cx="358.5" cy="359.2" r="2.1"/><circle cx="331.6" cy="358.8" r="2.1"/><circle cx="386.8" cy="358.7" r="2.1"/><circle cx="216.1" cy="516.3" r="2.1"/><circle cx="293.9" cy="449.8" r="2.1"/><circle cx="221.0" cy="470.8" r="2.1"/><circle cx="130.3" cy="571.2" r="2.1"/><circle cx="296.1" cy="454.6" r="2.1"/><circle cx="303.8" cy="391.8" r="2.1"/><circle cx="291.7" cy="393.9" r="2.1"/><circle cx="110.4" cy="587.0" r="2.1"/><circle cx="213.3" cy="526.6" r="2.1"/><circle cx="210.7" cy="450.6" r="2.1"/><circle cx="192.2" cy="470.6" r="2.1"/><circle cx="344.0" cy="259.8" r="2.1"/><circle cx="325.3" cy="352.4" r="2.1"/><circle cx="301.0" cy="384.0" r="2.1"/><circle cx="184.7" cy="508.9" r="2.1"/><circle cx="341.2" cy="374.9" r="2.1"/><circle cx="246.6" cy="454.8" r="2.1"/><circle cx="342.6" cy="343.3" r="2.1"/><circle cx="262.9" cy="388.8" r="2.1"/><circle cx="216.4" cy="527.9" r="2.1"/><circle cx="427.2" cy="301.6" r="2.1"/><circle cx="215.2" cy="510.2" r="2.1"/><circle cx="341.0" cy="368.4" r="2.1"/><circle cx="519.8" cy="114.9" r="2.1"/><circle cx="282.1" cy="413.1" r="2.1"/><circle cx="274.3" cy="461.9" r="2.1"/><circle cx="202.0" cy="487.3" r="2.1"/><circle cx="206.0" cy="515.6" r="2.1"/><circle cx="291.0" cy="376.0" r="2.1"/><circle cx="281.4" cy="422.4" r="2.1"/><circle cx="256.1" cy="484.7" r="2.1"/><circle cx="424.2" cy="384.4" r="2.1"/><circle cx="251.2" cy="382.9" r="2.1"/><circle cx="275.8" cy="407.6" r="2.1"/><circle cx="384.3" cy="431.6" r="2.1"/><circle cx="329.0" cy="409.2" r="2.1"/><circle cx="366.1" cy="321.8" r="2.1"/><circle cx="288.3" cy="401.2" r="2.1"/><circle cx="239.7" cy="485.5" r="2.1"/><circle cx="315.9" cy="350.0" r="2.1"/><circle cx="407.0" cy="302.6" r="2.1"/><circle cx="322.0" cy="361.1" r="2.1"/><circle cx="304.6" cy="385.4" r="2.1"/><circle cx="301.7" cy="413.6" r="2.1"/><circle cx="369.6" cy="351.4" r="2.1"/><circle cx="287.9" cy="496.1" r="2.1"/><circle cx="568.8" cy="150.1" r="2.1"/><circle cx="391.8" cy="281.5" r="2.1"/><circle cx="248.8" cy="509.6" r="2.1"/><circle cx="342.6" cy="280.6" r="2.1"/><circle cx="201.5" cy="506.6" r="2.1"/><circle cx="371.6" cy="322.9" r="2.1"/><circle cx="303.0" cy="395.1" r="2.1"/><circle cx="231.1" cy="430.7" r="2.1"/><circle cx="194.6" cy="483.6" r="2.1"/><circle cx="309.6" cy="379.5" r="2.1"/><circle cx="236.6" cy="477.3" r="2.1"/><circle cx="250.8" cy="429.5" r="2.1"/><circle cx="276.9" cy="467.4" r="2.1"/><circle cx="291.9" cy="418.2" r="2.1"/><circle cx="198.0" cy="503.0" r="2.1"/><circle cx="316.9" cy="379.5" r="2.1"/><circle cx="428.9" cy="330.3" r="2.1"/><circle cx="254.3" cy="443.8" r="2.1"/><circle cx="202.9" cy="463.7" r="2.1"/><circle cx="323.5" cy="365.2" r="2.1"/><circle cx="349.4" cy="347.1" r="2.1"/><circle cx="361.1" cy="330.0" r="2.1"/><circle cx="356.8" cy="340.5" r="2.1"/><circle cx="563.0" cy="137.8" r="2.1"/><circle cx="294.5" cy="430.7" r="2.1"/><circle cx="345.6" cy="337.8" r="2.1"/><circle cx="546.6" cy="131.9" r="2.1"/><circle cx="397.1" cy="414.0" r="2.1"/><circle cx="262.7" cy="435.1" r="2.1"/><circle cx="212.3" cy="442.9" r="2.1"/><circle cx="271.0" cy="415.2" r="2.1"/><circle cx="434.2" cy="320.6" r="2.1"/><circle cx="279.9" cy="389.8" r="2.1"/><circle cx="281.9" cy="471.1" r="2.1"/><circle cx="298.3" cy="460.4" r="2.1"/><circle cx="278.6" cy="382.0" r="2.1"/><circle cx="346.7" cy="341.9" r="2.1"/><circle cx="301.6" cy="488.0" r="2.1"/><circle cx="202.5" cy="446.3" r="2.1"/><circle cx="192.3" cy="514.7" r="2.1"/><circle cx="504.6" cy="222.8" r="2.1"/><circle cx="212.0" cy="546.1" r="2.1"/><circle cx="345.6" cy="353.2" r="2.1"/><circle cx="215.3" cy="447.6" r="2.1"/><circle cx="285.6" cy="419.7" r="2.1"/><circle cx="357.7" cy="330.0" r="2.1"/><circle cx="323.9" cy="360.8" r="2.1"/><circle cx="224.3" cy="480.9" r="2.1"/><circle cx="337.8" cy="375.2" r="2.1"/><circle cx="309.4" cy="357.6" r="2.1"/><circle cx="269.2" cy="362.3" r="2.1"/><circle cx="214.9" cy="401.3" r="2.1"/><circle cx="191.3" cy="513.3" r="2.1"/><circle cx="229.2" cy="501.0" r="2.1"/><circle cx="295.3" cy="369.5" r="2.1"/><circle cx="477.7" cy="177.1" r="2.1"/><circle cx="205.0" cy="527.0" r="2.1"/><circle cx="237.4" cy="459.5" r="2.1"/><circle cx="266.9" cy="474.3" r="2.1"/><circle cx="241.7" cy="431.9" r="2.1"/><circle cx="198.3" cy="517.6" r="2.1"/><circle cx="375.0" cy="327.6" r="2.1"/><circle cx="300.4" cy="400.9" r="2.1"/><circle cx="184.0" cy="563.5" r="2.1"/><circle cx="276.2" cy="458.8" r="2.1"/><circle cx="318.9" cy="480.9" r="2.1"/><circle cx="219.4" cy="507.4" r="2.1"/><circle cx="192.8" cy="552.4" r="2.1"/><circle cx="209.7" cy="473.6" r="2.1"/><circle cx="467.2" cy="255.1" r="2.1"/><circle cx="366.2" cy="328.4" r="2.1"/><circle cx="334.5" cy="374.5" r="2.1"/><circle cx="219.2" cy="559.4" r="2.1"/><circle cx="231.9" cy="500.8" r="2.1"/><circle cx="415.4" cy="319.5" r="2.1"/><circle cx="291.3" cy="457.5" r="2.1"/><circle cx="235.7" cy="494.0" r="2.1"/><circle cx="184.9" cy="491.2" r="2.1"/><circle cx="252.2" cy="430.2" r="2.1"/><circle cx="326.3" cy="366.6" r="2.1"/><circle cx="353.9" cy="338.8" r="2.1"/><circle cx="231.1" cy="473.4" r="2.1"/><circle cx="357.9" cy="342.6" r="2.1"/><circle cx="208.8" cy="452.3" r="2.1"/><circle cx="325.4" cy="309.0" r="2.1"/><circle cx="202.1" cy="487.2" r="2.1"/><circle cx="140.8" cy="553.6" r="2.1"/><circle cx="236.0" cy="375.9" r="2.1"/><circle cx="356.7" cy="307.7" r="2.1"/><circle cx="203.7" cy="456.1" r="2.1"/><circle cx="285.3" cy="444.9" r="2.1"/><circle cx="217.5" cy="523.2" r="2.1"/><circle cx="293.1" cy="358.8" r="2.1"/><circle cx="259.3" cy="447.8" r="2.1"/><circle cx="298.8" cy="366.6" r="2.1"/><circle cx="219.9" cy="470.1" r="2.1"/><circle cx="365.1" cy="354.1" r="2.1"/><circle cx="210.5" cy="465.7" r="2.1"/><circle cx="244.2" cy="555.3" r="2.1"/><circle cx="202.5" cy="433.9" r="2.1"/><circle cx="323.3" cy="352.3" r="2.1"/><circle cx="286.0" cy="378.5" r="2.1"/><circle cx="567.1" cy="253.9" r="2.1"/><circle cx="284.2" cy="455.0" r="2.1"/><circle cx="325.8" cy="397.9" r="2.1"/><circle cx="342.3" cy="420.5" r="2.1"/><circle cx="265.4" cy="454.9" r="2.1"/><circle cx="304.4" cy="464.4" r="2.1"/><circle cx="262.4" cy="450.7" r="2.1"/><circle cx="211.3" cy="524.5" r="2.1"/><circle cx="326.5" cy="361.4" r="2.1"/><circle cx="397.0" cy="308.7" r="2.1"/><circle cx="406.5" cy="323.3" r="2.1"/><circle cx="434.5" cy="207.0" r="2.1"/><circle cx="277.7" cy="378.2" r="2.1"/><circle cx="343.8" cy="365.1" r="2.1"/><circle cx="245.4" cy="491.1" r="2.1"/><circle cx="241.6" cy="498.5" r="2.1"/><circle cx="378.2" cy="331.4" r="2.1"/><circle cx="137.9" cy="576.4" r="2.1"/><circle cx="388.0" cy="276.3" r="2.1"/><circle cx="419.0" cy="298.6" r="2.1"/><circle cx="221.0" cy="437.2" r="2.1"/><circle cx="167.1" cy="504.9" r="2.1"/><circle cx="290.7" cy="453.5" r="2.1"/><circle cx="567.1" cy="117.3" r="2.1"/><circle cx="212.5" cy="466.1" r="2.1"/><circle cx="295.7" cy="371.8" r="2.1"/><circle cx="313.3" cy="409.6" r="2.1"/><circle cx="236.4" cy="488.0" r="2.1"/><circle cx="328.1" cy="398.5" r="2.1"/><circle cx="317.6" cy="333.7" r="2.1"/><circle cx="108.1" cy="601.6" r="2.1"/><circle cx="210.5" cy="489.0" r="2.1"/><circle cx="313.4" cy="462.6" r="2.1"/><circle cx="210.9" cy="459.5" r="2.1"/><circle cx="301.6" cy="383.5" r="2.1"/><circle cx="248.2" cy="452.4" r="2.1"/><circle cx="305.0" cy="376.1" r="2.1"/><circle cx="312.3" cy="445.4" r="2.1"/><circle cx="395.9" cy="338.5" r="2.1"/><circle cx="342.1" cy="340.2" r="2.1"/><circle cx="254.7" cy="463.9" r="2.1"/><circle cx="296.2" cy="428.4" r="2.1"/><circle cx="371.6" cy="354.2" r="2.1"/><circle cx="295.7" cy="472.8" r="2.1"/><circle cx="347.3" cy="354.2" r="2.1"/><circle cx="226.4" cy="514.0" r="2.1"/><circle cx="437.4" cy="328.4" r="2.1"/><circle cx="353.7" cy="330.3" r="2.1"/><circle cx="126.2" cy="573.5" r="2.1"/><circle cx="284.8" cy="437.6" r="2.1"/><circle cx="412.1" cy="381.8" r="2.1"/><circle cx="344.3" cy="320.3" r="2.1"/><circle cx="372.2" cy="360.2" r="2.1"/><circle cx="261.5" cy="450.6" r="2.1"/><circle cx="595.1" cy="164.2" r="2.1"/><circle cx="373.4" cy="344.5" r="2.1"/><circle cx="259.6" cy="382.3" r="2.1"/><circle cx="276.6" cy="365.0" r="2.1"/><circle cx="210.6" cy="484.4" r="2.1"/><circle cx="199.1" cy="519.6" r="2.1"/><circle cx="363.7" cy="353.1" r="2.1"/><circle cx="306.6" cy="315.5" r="2.1"/><circle cx="373.2" cy="238.1" r="2.1"/><circle cx="327.1" cy="430.5" r="2.1"/><circle cx="211.0" cy="467.5" r="2.1"/><circle cx="284.9" cy="466.2" r="2.1"/><circle cx="306.2" cy="361.2" r="2.1"/><circle cx="434.5" cy="210.5" r="2.1"/><circle cx="240.6" cy="462.6" r="2.1"/><circle cx="332.2" cy="373.5" r="2.1"/><circle cx="146.6" cy="595.2" r="2.1"/><circle cx="566.5" cy="137.8" r="2.1"/><circle cx="449.1" cy="298.5" r="2.1"/><circle cx="388.3" cy="333.1" r="2.1"/><circle cx="308.9" cy="360.6" r="2.1"/><circle cx="267.9" cy="457.0" r="2.1"/><circle cx="213.5" cy="534.7" r="2.1"/><circle cx="223.3" cy="451.9" r="2.1"/><circle cx="330.2" cy="385.2" r="2.1"/><circle cx="211.7" cy="495.7" r="2.1"/><circle cx="222.4" cy="515.3" r="2.1"/><circle cx="309.1" cy="357.1" r="2.1"/><circle cx="305.0" cy="411.3" r="2.1"/><circle cx="254.1" cy="457.9" r="2.1"/><circle cx="440.3" cy="286.2" r="2.1"/><circle cx="350.5" cy="326.4" r="2.1"/><circle cx="216.8" cy="478.0" r="2.1"/><circle cx="296.9" cy="455.3" r="2.1"/><circle cx="198.8" cy="500.5" r="2.1"/><circle cx="392.1" cy="325.9" r="2.1"/><circle cx="365.8" cy="324.5" r="2.1"/><circle cx="199.0" cy="494.7" r="2.1"/><circle cx="336.7" cy="329.1" r="2.1"/><circle cx="430.7" cy="270.2" r="2.1"/><circle cx="326.4" cy="284.3" r="2.1"/><circle cx="115.7" cy="565.9" r="2.1"/><circle cx="509.2" cy="149.5" r="2.1"/><circle cx="313.9" cy="365.6" r="2.1"/><circle cx="364.7" cy="321.8" r="2.1"/><circle cx="198.7" cy="435.8" r="2.1"/><circle cx="369.1" cy="244.5" r="2.1"/><circle cx="202.7" cy="469.5" r="2.1"/><circle cx="306.5" cy="378.5" r="2.1"/><circle cx="275.2" cy="333.2" r="2.1"/><circle cx="449.1" cy="157.7" r="2.1"/><circle cx="395.4" cy="286.4" r="2.1"/><circle cx="412.0" cy="325.5" r="2.1"/><circle cx="295.8" cy="391.7" r="2.1"/><circle cx="196.7" cy="497.0" r="2.1"/><circle cx="183.4" cy="550.0" r="2.1"/><circle cx="194.4" cy="494.3" r="2.1"/><circle cx="408.2" cy="227.5" r="2.1"/><circle cx="350.5" cy="331.6" r="2.1"/><circle cx="233.4" cy="515.2" r="2.1"/><circle cx="122.7" cy="586.4" r="2.1"/><circle cx="240.3" cy="481.2" r="2.1"/><circle cx="412.6" cy="319.8" r="2.1"/><circle cx="210.2" cy="478.2" r="2.1"/><circle cx="320.7" cy="425.1" r="2.1"/><circle cx="283.7" cy="488.8" r="2.1"/><circle cx="356.7" cy="338.6" r="2.1"/><circle cx="235.4" cy="456.3" r="2.1"/><circle cx="395.2" cy="370.4" r="2.1"/><circle cx="127.4" cy="549.5" r="2.1"/><circle cx="294.1" cy="395.7" r="2.1"/><circle cx="204.3" cy="506.1" r="2.1"/><circle cx="287.2" cy="382.6" r="2.1"/><circle cx="239.0" cy="493.2" r="2.1"/><circle cx="326.4" cy="374.0" r="2.1"/><circle cx="433.9" cy="344.8" r="2.1"/><circle cx="337.9" cy="379.5" r="2.1"/><circle cx="247.3" cy="425.2" r="2.1"/><circle cx="279.7" cy="415.0" r="2.1"/><circle cx="279.0" cy="458.3" r="2.1"/><circle cx="374.0" cy="333.0" r="2.1"/><circle cx="547.8" cy="129.6" r="2.1"/><circle cx="384.7" cy="344.1" r="2.1"/><circle cx="268.9" cy="431.1" r="2.1"/><circle cx="289.1" cy="464.1" r="2.1"/><circle cx="136.7" cy="575.3" r="2.1"/><circle cx="313.0" cy="426.4" r="2.1"/><circle cx="233.8" cy="451.2" r="2.1"/><circle cx="194.0" cy="518.7" r="2.1"/><circle cx="287.1" cy="400.3" r="2.1"/><circle cx="150.1" cy="524.2" r="2.1"/><circle cx="410.9" cy="335.0" r="2.1"/><circle cx="199.6" cy="527.4" r="2.1"/><circle cx="109.3" cy="599.9" r="2.1"/><circle cx="223.7" cy="517.9" r="2.1"/><circle cx="495.2" cy="295.0" r="2.1"/><circle cx="288.8" cy="368.7" r="2.1"/><circle cx="427.4" cy="282.1" r="2.1"/><circle cx="206.8" cy="471.2" r="2.1"/><circle cx="226.6" cy="551.8" r="2.1"/><circle cx="315.0" cy="453.7" r="2.1"/><circle cx="369.6" cy="343.0" r="2.1"/><circle cx="364.3" cy="364.2" r="2.1"/><circle cx="293.6" cy="373.3" r="2.1"/><circle cx="416.6" cy="318.8" r="2.1"/><circle cx="196.7" cy="450.1" r="2.1"/><circle cx="393.2" cy="324.4" r="2.1"/><circle cx="209.9" cy="436.9" r="2.1"/><circle cx="432.2" cy="207.6" r="2.1"/><circle cx="182.8" cy="528.3" r="2.1"/><circle cx="289.0" cy="386.1" r="2.1"/><circle cx="313.6" cy="307.9" r="2.1"/><circle cx="201.2" cy="409.0" r="2.1"/><circle cx="311.4" cy="373.2" r="2.1"/><circle cx="320.1" cy="374.5" r="2.1"/><circle cx="195.5" cy="524.5" r="2.1"/><circle cx="367.7" cy="368.8" r="2.1"/><circle cx="203.0" cy="481.1" r="2.1"/><circle cx="213.0" cy="512.6" r="2.1"/><circle cx="208.0" cy="474.7" r="2.1"/><circle cx="295.1" cy="387.7" r="2.1"/><circle cx="258.9" cy="467.5" r="2.1"/><circle cx="287.4" cy="383.7" r="2.1"/><circle cx="354.0" cy="341.9" r="2.1"/><circle cx="428.7" cy="177.7" r="2.1"/><circle cx="261.1" cy="510.2" r="2.1"/><circle cx="322.8" cy="353.1" r="2.1"/><circle cx="389.4" cy="327.3" r="2.1"/><circle cx="196.2" cy="525.2" r="2.1"/><circle cx="280.6" cy="411.5" r="2.1"/><circle cx="300.2" cy="337.8" r="2.1"/><circle cx="375.0" cy="411.7" r="2.1"/><circle cx="373.9" cy="334.5" r="2.1"/><circle cx="185.4" cy="513.2" r="2.1"/><circle cx="188.5" cy="514.7" r="2.1"/><circle cx="234.6" cy="468.7" r="2.1"/><circle cx="333.3" cy="353.5" r="2.1"/><circle cx="537.3" cy="160.1" r="2.1"/><circle cx="286.8" cy="381.5" r="2.1"/><circle cx="181.7" cy="492.0" r="2.1"/><circle cx="276.9" cy="447.2" r="2.1"/><circle cx="184.4" cy="455.9" r="2.1"/><circle cx="310.7" cy="345.4" r="2.1"/><circle cx="376.3" cy="285.4" r="2.1"/><circle cx="200.0" cy="461.9" r="2.1"/><circle cx="201.2" cy="497.3" r="2.1"/><circle cx="351.5" cy="360.1" r="2.1"/><circle cx="283.7" cy="385.1" r="2.1"/><circle cx="347.1" cy="368.9" r="2.1"/><circle cx="205.7" cy="519.0" r="2.1"/><circle cx="287.1" cy="460.4" r="2.1"/><circle cx="204.7" cy="455.8" r="2.1"/><circle cx="218.5" cy="486.2" r="2.1"/><circle cx="429.7" cy="370.7" r="2.1"/><circle cx="280.2" cy="421.3" r="2.1"/><circle cx="309.8" cy="430.1" r="2.1"/><circle cx="339.0" cy="334.5" r="2.1"/><circle cx="215.6" cy="510.2" r="2.1"/><circle cx="428.8" cy="344.2" r="2.1"/><circle cx="317.7" cy="410.8" r="2.1"/><circle cx="261.9" cy="399.8" r="2.1"/><circle cx="392.8" cy="380.6" r="2.1"/><circle cx="363.6" cy="346.9" r="2.1"/><circle cx="279.5" cy="458.5" r="2.1"/><circle cx="293.7" cy="385.6" r="2.1"/><circle cx="189.1" cy="510.0" r="2.1"/><circle cx="341.5" cy="353.5" r="2.1"/><circle cx="199.8" cy="479.7" r="2.1"/><circle cx="348.4" cy="316.5" r="2.1"/><circle cx="181.7" cy="594.0" r="2.1"/><circle cx="341.4" cy="364.8" r="2.1"/><circle cx="315.4" cy="302.6" r="2.1"/><circle cx="238.5" cy="511.5" r="2.1"/><circle cx="432.2" cy="179.4" r="2.1"/><circle cx="324.9" cy="308.0" r="2.1"/><circle cx="205.7" cy="462.6" r="2.1"/><circle cx="146.1" cy="575.3" r="2.1"/><circle cx="385.2" cy="330.3" r="2.1"/><circle cx="533.8" cy="266.2" r="2.1"/><circle cx="245.5" cy="491.4" r="2.1"/><circle cx="201.1" cy="527.1" r="2.1"/><circle cx="253.6" cy="402.5" r="2.1"/><circle cx="304.0" cy="421.7" r="2.1"/><circle cx="420.8" cy="314.6" r="2.1"/><circle cx="377.3" cy="238.1" r="2.1"/><circle cx="285.0" cy="423.7" r="2.1"/><circle cx="374.2" cy="292.1" r="2.1"/><circle cx="300.2" cy="402.4" r="2.1"/><circle cx="227.8" cy="503.5" r="2.1"/><circle cx="293.1" cy="398.1" r="2.1"/><circle cx="161.8" cy="506.1" r="2.1"/><circle cx="364.0" cy="338.9" r="2.1"/><circle cx="302.2" cy="376.4" r="2.1"/><circle cx="280.9" cy="478.3" r="2.1"/><circle cx="305.2" cy="379.4" r="2.1"/><circle cx="281.5" cy="393.6" r="2.1"/><circle cx="316.0" cy="405.0" r="2.1"/><circle cx="342.6" cy="328.2" r="2.1"/><circle cx="242.8" cy="390.3" r="2.1"/><circle cx="210.4" cy="444.2" r="2.1"/><circle cx="405.4" cy="298.7" r="2.1"/><circle cx="320.6" cy="457.4" r="2.1"/><circle cx="267.5" cy="513.1" r="2.1"/><circle cx="338.6" cy="323.4" r="2.1"/><circle cx="286.9" cy="377.4" r="2.1"/><circle cx="586.9" cy="112.0" r="2.1"/><circle cx="328.8" cy="401.3" r="2.1"/><circle cx="315.6" cy="285.8" r="2.1"/><circle cx="331.8" cy="351.5" r="2.1"/><circle cx="330.6" cy="340.6" r="2.1"/><circle cx="295.7" cy="426.6" r="2.1"/><circle cx="265.2" cy="495.5" r="2.1"/><circle cx="212.2" cy="515.1" r="2.1"/><circle cx="299.8" cy="366.7" r="2.1"/><circle cx="337.6" cy="290.2" r="2.1"/><circle cx="189.7" cy="491.3" r="2.1"/><circle cx="193.6" cy="522.8" r="2.1"/><circle cx="216.1" cy="541.8" r="2.1"/><circle cx="281.6" cy="480.5" r="2.1"/><circle cx="317.3" cy="337.3" r="2.1"/><circle cx="415.6" cy="330.9" r="2.1"/><circle cx="222.0" cy="501.2" r="2.1"/><circle cx="368.6" cy="355.4" r="2.1"/><circle cx="199.7" cy="483.7" r="2.1"/><circle cx="488.2" cy="107.9" r="2.1"/><circle cx="364.9" cy="344.9" r="2.1"/><circle cx="218.9" cy="477.6" r="2.1"/><circle cx="261.1" cy="473.7" r="2.1"/><circle cx="431.8" cy="313.1" r="2.1"/><circle cx="241.2" cy="475.4" r="2.1"/><circle cx="426.3" cy="312.3" r="2.1"/><circle cx="508.1" cy="220.5" r="2.1"/><circle cx="238.4" cy="486.7" r="2.1"/><circle cx="372.7" cy="312.0" r="2.1"/><circle cx="313.8" cy="415.5" r="2.1"/><circle cx="109.9" cy="578.8" r="2.1"/><circle cx="231.3" cy="500.0" r="2.1"/><circle cx="535.5" cy="144.3" r="2.1"/><circle cx="133.8" cy="564.1" r="2.1"/><circle cx="493.5" cy="162.4" r="2.1"/><circle cx="555.4" cy="266.2" r="2.1"/><circle cx="371.7" cy="277.1" r="2.1"/><circle cx="310.8" cy="398.9" r="2.1"/><circle cx="202.2" cy="514.7" r="2.1"/><circle cx="343.8" cy="352.0" r="2.1"/><circle cx="254.2" cy="421.5" r="2.1"/><circle cx="424.0" cy="213.5" r="2.1"/><circle cx="216.1" cy="524.2" r="2.1"/><circle cx="389.5" cy="220.5" r="2.1"/><circle cx="332.7" cy="360.6" r="2.1"/><circle cx="202.9" cy="475.8" r="2.1"/><circle cx="274.5" cy="381.7" r="2.1"/><circle cx="224.8" cy="462.4" r="2.1"/><circle cx="246.8" cy="408.2" r="2.1"/><circle cx="219.9" cy="464.1" r="2.1"/><circle cx="314.9" cy="446.2" r="2.1"/><circle cx="304.1" cy="367.1" r="2.1"/><circle cx="296.7" cy="487.2" r="2.1"/><circle cx="540.8" cy="191.2" r="2.1"/><circle cx="270.0" cy="488.9" r="2.1"/><circle cx="234.6" cy="444.9" r="2.1"/><circle cx="221.0" cy="443.4" r="2.1"/><circle cx="416.8" cy="388.0" r="2.1"/><circle cx="379.2" cy="368.3" r="2.1"/><circle cx="216.7" cy="491.2" r="2.1"/><circle cx="344.2" cy="346.0" r="2.1"/><circle cx="221.0" cy="483.4" r="2.1"/><circle cx="288.6" cy="424.3" r="2.1"/><circle cx="423.6" cy="308.6" r="2.1"/><circle cx="319.4" cy="422.7" r="2.1"/><circle cx="337.2" cy="364.6" r="2.1"/><circle cx="370.9" cy="317.9" r="2.1"/><circle cx="201.9" cy="489.2" r="2.1"/><circle cx="546.0" cy="102.6" r="2.1"/><circle cx="364.6" cy="328.4" r="2.1"/><circle cx="275.2" cy="383.0" r="2.1"/><circle cx="321.9" cy="402.6" r="2.1"/><circle cx="365.0" cy="343.6" r="2.1"/><circle cx="403.3" cy="286.7" r="2.1"/><circle cx="304.6" cy="359.3" r="2.1"/><circle cx="211.9" cy="483.7" r="2.1"/><circle cx="108.7" cy="584.6" r="2.1"/><circle cx="190.8" cy="529.6" r="2.1"/><circle cx="111.6" cy="604.6" r="2.1"/><circle cx="194.5" cy="490.2" r="2.1"/><circle cx="238.7" cy="463.0" r="2.1"/><circle cx="367.9" cy="414.0" r="2.1"/><circle cx="369.6" cy="328.3" r="2.1"/><circle cx="303.4" cy="352.1" r="2.1"/><circle cx="207.3" cy="475.5" r="2.1"/><circle cx="209.1" cy="488.2" r="2.1"/><circle cx="287.2" cy="427.8" r="2.1"/><circle cx="209.7" cy="488.4" r="2.1"/><circle cx="289.4" cy="402.5" r="2.1"/><circle cx="274.2" cy="419.2" r="2.1"/><circle cx="275.0" cy="409.5" r="2.1"/><circle cx="240.2" cy="430.5" r="2.1"/><circle cx="113.4" cy="588.2" r="2.1"/><circle cx="206.4" cy="518.5" r="2.1"/><circle cx="189.4" cy="473.1" r="2.1"/><circle cx="277.0" cy="444.7" r="2.1"/><circle cx="196.6" cy="469.6" r="2.1"/><circle cx="272.4" cy="399.1" r="2.1"/><circle cx="293.1" cy="485.2" r="2.1"/><circle cx="206.8" cy="580.5" r="2.1"/><circle cx="197.3" cy="494.5" r="2.1"/><circle cx="294.2" cy="440.8" r="2.1"/><circle cx="109.3" cy="608.1" r="2.1"/><circle cx="357.1" cy="347.3" r="2.1"/><circle cx="275.5" cy="405.4" r="2.1"/><circle cx="204.7" cy="504.3" r="2.1"/><circle cx="299.4" cy="470.2" r="2.1"/><circle cx="223.1" cy="580.5" r="2.1"/><circle cx="229.6" cy="545.4" r="2.1"/><circle cx="379.3" cy="349.4" r="2.1"/><circle cx="302.8" cy="413.1" r="2.1"/><circle cx="311.3" cy="375.1" r="2.1"/><circle cx="305.3" cy="396.0" r="2.1"/><circle cx="334.2" cy="401.6" r="2.1"/><circle cx="211.8" cy="510.4" r="2.1"/><circle cx="297.7" cy="464.5" r="2.1"/><circle cx="512.2" cy="163.0" r="2.1"/><circle cx="222.1" cy="504.2" r="2.1"/><circle cx="323.6" cy="368.0" r="2.1"/><circle cx="527.9" cy="124.3" r="2.1"/><circle cx="266.2" cy="436.9" r="2.1"/><circle cx="408.2" cy="338.6" r="2.1"/><circle cx="218.6" cy="494.7" r="2.1"/><circle cx="295.2" cy="364.0" r="2.1"/><circle cx="425.7" cy="212.9" r="2.1"/><circle cx="185.7" cy="503.6" r="2.1"/><circle cx="294.9" cy="360.8" r="2.1"/><circle cx="111.0" cy="580.0" r="2.1"/><circle cx="299.9" cy="433.8" r="2.1"/><circle cx="327.1" cy="357.6" r="2.1"/><circle cx="376.7" cy="438.0" r="2.1"/><circle cx="186.2" cy="506.8" r="2.1"/><circle cx="204.5" cy="493.9" r="2.1"/><circle cx="267.3" cy="486.8" r="2.1"/><circle cx="346.9" cy="331.5" r="2.1"/><circle cx="182.1" cy="534.9" r="2.1"/><circle cx="389.5" cy="401.7" r="2.1"/><circle cx="220.6" cy="481.1" r="2.1"/><circle cx="286.2" cy="469.7" r="2.1"/><circle cx="248.8" cy="564.7" r="2.1"/><circle cx="490.0" cy="266.2" r="2.1"/><circle cx="239.7" cy="478.6" r="2.1"/><circle cx="273.3" cy="450.2" r="2.1"/><circle cx="293.4" cy="366.9" r="2.1"/><circle cx="281.9" cy="377.8" r="2.1"/><circle cx="224.1" cy="541.4" r="2.1"/><circle cx="178.6" cy="491.1" r="2.1"/><circle cx="498.7" cy="307.3" r="2.1"/><circle cx="442.1" cy="336.0" r="2.1"/><circle cx="316.6" cy="362.0" r="2.1"/><circle cx="388.1" cy="332.7" r="2.1"/><circle cx="198.6" cy="511.7" r="2.1"/><circle cx="331.2" cy="416.1" r="2.1"/><circle cx="468.4" cy="198.8" r="2.1"/><circle cx="339.2" cy="391.0" r="2.1"/><circle cx="373.8" cy="414.0" r="2.1"/><circle cx="194.6" cy="475.6" r="2.1"/><circle cx="196.2" cy="517.5" r="2.1"/><circle cx="557.7" cy="147.2" r="2.1"/><circle cx="264.1" cy="413.5" r="2.1"/><circle cx="213.4" cy="489.4" r="2.1"/><circle cx="305.0" cy="502.3" r="2.1"/><circle cx="228.9" cy="438.8" r="2.1"/><circle cx="309.8" cy="390.7" r="2.1"/><circle cx="480.6" cy="189.4" r="2.1"/><circle cx="205.7" cy="495.6" r="2.1"/><circle cx="351.7" cy="381.0" r="2.1"/><circle cx="209.2" cy="493.0" r="2.1"/><circle cx="198.3" cy="494.9" r="2.1"/><circle cx="347.3" cy="345.7" r="2.1"/><circle cx="340.1" cy="365.0" r="2.1"/><circle cx="402.2" cy="316.8" r="2.1"/><circle cx="535.5" cy="139.0" r="2.1"/><circle cx="254.5" cy="440.6" r="2.1"/><circle cx="224.8" cy="478.7" r="2.1"/><circle cx="317.0" cy="420.5" r="2.1"/><circle cx="312.1" cy="384.7" r="2.1"/><circle cx="504.6" cy="219.3" r="2.1"/><circle cx="296.1" cy="477.2" r="2.1"/><circle cx="291.8" cy="394.2" r="2.1"/><circle cx="252.9" cy="507.8" r="2.1"/><circle cx="253.5" cy="537.7" r="2.1"/><circle cx="253.3" cy="448.2" r="2.1"/><circle cx="194.4" cy="491.1" r="2.1"/><circle cx="112.2" cy="591.7" r="2.1"/><circle cx="322.3" cy="356.7" r="2.1"/><circle cx="191.8" cy="505.5" r="2.1"/><circle cx="345.8" cy="336.2" r="2.1"/><circle cx="190.3" cy="515.4" r="2.1"/><circle cx="281.6" cy="371.2" r="2.1"/><circle cx="198.3" cy="499.4" r="2.1"/><circle cx="377.8" cy="299.9" r="2.1"/><circle cx="275.7" cy="402.9" r="2.1"/><circle cx="286.0" cy="442.4" r="2.1"/><circle cx="297.3" cy="476.2" r="2.1"/><circle cx="199.8" cy="508.2" r="2.1"/><circle cx="249.4" cy="551.2" r="2.1"/><circle cx="288.5" cy="448.2" r="2.1"/><circle cx="343.4" cy="368.1" r="2.1"/><circle cx="271.8" cy="463.7" r="2.1"/><circle cx="339.2" cy="420.9" r="2.1"/><circle cx="484.1" cy="191.8" r="2.1"/><circle cx="193.2" cy="504.0" r="2.1"/><circle cx="415.5" cy="330.3" r="2.1"/><circle cx="333.5" cy="338.7" r="2.1"/><circle cx="165.9" cy="564.7" r="2.1"/><circle cx="362.7" cy="245.1" r="2.1"/><circle cx="217.9" cy="572.9" r="2.1"/><circle cx="387.0" cy="307.3" r="2.1"/><circle cx="302.3" cy="456.4" r="2.1"/><circle cx="319.8" cy="434.8" r="2.1"/><circle cx="261.6" cy="481.7" r="2.1"/><circle cx="283.9" cy="362.7" r="2.1"/><circle cx="386.6" cy="289.9" r="2.1"/><circle cx="296.5" cy="466.7" r="2.1"/><circle cx="357.8" cy="332.2" r="2.1"/><circle cx="410.3" cy="334.1" r="2.1"/><circle cx="243.5" cy="492.0" r="2.1"/><circle cx="215.0" cy="449.6" r="2.1"/><circle cx="416.4" cy="243.4" r="2.1"/><circle cx="312.2" cy="470.5" r="2.1"/><circle cx="376.7" cy="252.2" r="2.1"/><circle cx="304.0" cy="365.6" r="2.1"/><circle cx="184.5" cy="489.6" r="2.1"/><circle cx="329.9" cy="377.5" r="2.1"/><circle cx="274.6" cy="350.3" r="2.1"/><circle cx="324.9" cy="433.6" r="2.1"/><circle cx="388.3" cy="381.2" r="2.1"/><circle cx="226.8" cy="500.0" r="2.1"/><circle cx="188.1" cy="527.9" r="2.1"/><circle cx="200.1" cy="521.7" r="2.1"/><circle cx="437.4" cy="311.4" r="2.1"/><circle cx="255.5" cy="443.4" r="2.1"/><circle cx="202.1" cy="559.4" r="2.1"/><circle cx="202.9" cy="477.6" r="2.1"/><circle cx="522.1" cy="189.4" r="2.1"/><circle cx="407.1" cy="248.6" r="2.1"/><circle cx="224.0" cy="467.0" r="2.1"/><circle cx="344.0" cy="367.6" r="2.1"/><circle cx="300.4" cy="379.2" r="2.1"/><circle cx="388.6" cy="325.7" r="2.1"/><circle cx="340.4" cy="344.7" r="2.1"/><circle cx="346.1" cy="354.2" r="2.1"/><circle cx="617.9" cy="127.8" r="2.1"/><circle cx="189.8" cy="453.4" r="2.1"/><circle cx="340.7" cy="376.4" r="2.1"/><circle cx="433.0" cy="308.9" r="2.1"/><circle cx="318.0" cy="487.3" r="2.1"/><circle cx="216.5" cy="453.9" r="2.1"/><circle cx="398.1" cy="310.8" r="2.1"/><circle cx="216.3" cy="463.6" r="2.1"/><circle cx="296.9" cy="392.8" r="2.1"/><circle cx="505.2" cy="252.2" r="2.1"/><circle cx="442.7" cy="318.4" r="2.1"/><circle cx="362.6" cy="311.0" r="2.1"/><circle cx="404.9" cy="279.0" r="2.1"/><circle cx="193.7" cy="522.9" r="2.1"/><circle cx="333.1" cy="343.6" r="2.1"/><circle cx="323.3" cy="342.0" r="2.1"/><circle cx="340.2" cy="323.8" r="2.1"/><circle cx="391.3" cy="334.5" r="2.1"/><circle cx="283.1" cy="442.0" r="2.1"/><circle cx="313.2" cy="374.8" r="2.1"/><circle cx="404.0" cy="379.9" r="2.1"/><circle cx="330.7" cy="419.9" r="2.1"/><circle cx="412.4" cy="283.5" r="2.1"/><circle cx="226.6" cy="470.2" r="2.1"/><circle cx="196.3" cy="530.9" r="2.1"/><circle cx="350.1" cy="331.3" r="2.1"/><circle cx="395.8" cy="332.8" r="2.1"/><circle cx="211.6" cy="445.0" r="2.1"/><circle cx="394.7" cy="328.4" r="2.1"/><circle cx="198.1" cy="524.4" r="2.1"/><circle cx="346.6" cy="354.8" r="2.1"/><circle cx="193.9" cy="466.1" r="2.1"/><circle cx="160.7" cy="510.2" r="2.1"/><circle cx="330.5" cy="351.3" r="2.1"/><circle cx="347.3" cy="373.7" r="2.1"/><circle cx="320.2" cy="332.3" r="2.1"/><circle cx="299.0" cy="347.2" r="2.1"/><circle cx="375.7" cy="340.9" r="2.1"/><circle cx="226.6" cy="532.3" r="2.1"/><circle cx="285.8" cy="448.9" r="2.1"/><circle cx="339.4" cy="367.1" r="2.1"/><circle cx="406.2" cy="317.1" r="2.1"/><circle cx="210.5" cy="474.7" r="2.1"/><circle cx="203.6" cy="522.7" r="2.1"/><circle cx="221.2" cy="512.6" r="2.1"/><circle cx="231.6" cy="490.5" r="2.1"/><circle cx="301.8" cy="462.8" r="2.1"/><circle cx="193.9" cy="550.6" r="2.1"/><circle cx="531.4" cy="160.7" r="2.1"/><circle cx="278.5" cy="480.7" r="2.1"/><circle cx="286.1" cy="386.3" r="2.1"/><circle cx="315.3" cy="394.5" r="2.1"/><circle cx="248.7" cy="427.1" r="2.1"/><circle cx="367.9" cy="267.4" r="2.1"/><circle cx="337.8" cy="343.8" r="2.1"/><circle cx="258.3" cy="433.6" r="2.1"/><circle cx="160.1" cy="553.0" r="2.1"/><circle cx="476.0" cy="222.2" r="2.1"/><circle cx="368.4" cy="341.9" r="2.1"/><circle cx="275.4" cy="447.7" r="2.1"/><circle cx="367.4" cy="243.4" r="2.1"/><circle cx="396.0" cy="330.0" r="2.1"/><circle cx="295.5" cy="408.6" r="2.1"/><circle cx="404.5" cy="274.0" r="2.1"/><circle cx="163.6" cy="480.3" r="2.1"/><circle cx="108.1" cy="571.2" r="2.1"/><circle cx="315.7" cy="366.8" r="2.1"/><circle cx="396.0" cy="360.3" r="2.1"/><circle cx="279.9" cy="464.7" r="2.1"/><circle cx="301.6" cy="423.0" r="2.1"/><circle cx="318.9" cy="489.1" r="2.1"/><circle cx="341.0" cy="324.8" r="2.1"/><circle cx="212.6" cy="523.9" r="2.1"/><circle cx="319.4" cy="365.9" r="2.1"/><circle cx="183.4" cy="557.1" r="2.1"/><circle cx="300.4" cy="442.7" r="2.1"/><circle cx="221.0" cy="429.0" r="2.1"/><circle cx="273.4" cy="431.9" r="2.1"/><circle cx="239.8" cy="480.3" r="2.1"/><circle cx="196.8" cy="511.8" r="2.1"/><circle cx="202.0" cy="520.5" r="2.1"/><circle cx="413.8" cy="364.3" r="2.1"/><circle cx="177.6" cy="518.4" r="2.1"/><circle cx="392.9" cy="336.2" r="2.1"/><circle cx="339.3" cy="318.3" r="2.1"/><circle cx="302.9" cy="399.6" r="2.1"/><circle cx="311.5" cy="412.3" r="2.1"/><circle cx="392.6" cy="296.3" r="2.1"/><circle cx="199.4" cy="454.6" r="2.1"/><circle cx="246.3" cy="461.7" r="2.1"/><circle cx="573.5" cy="143.1" r="2.1"/><circle cx="302.3" cy="377.3" r="2.1"/><circle cx="276.2" cy="398.5" r="2.1"/><circle cx="305.5" cy="468.1" r="2.1"/><circle cx="406.3" cy="285.8" r="2.1"/><circle cx="289.2" cy="424.2" r="2.1"/><circle cx="221.6" cy="483.3" r="2.1"/><circle cx="322.3" cy="398.5" r="2.1"/><circle cx="333.6" cy="378.8" r="2.1"/><circle cx="323.2" cy="382.9" r="2.1"/><circle cx="339.9" cy="350.6" r="2.1"/><circle cx="410.6" cy="419.9" r="2.1"/><circle cx="192.1" cy="510.0" r="2.1"/><circle cx="214.9" cy="467.4" r="2.1"/><circle cx="305.8" cy="368.7" r="2.1"/><circle cx="275.8" cy="479.6" r="2.1"/><circle cx="201.3" cy="500.4" r="2.1"/><circle cx="218.2" cy="479.0" r="2.1"/><circle cx="268.2" cy="381.9" r="2.1"/><circle cx="186.1" cy="492.3" r="2.1"/><circle cx="175.8" cy="513.7" r="2.1"/><circle cx="261.3" cy="423.1" r="2.1"/><circle cx="407.3" cy="297.4" r="2.1"/><circle cx="277.1" cy="430.5" r="2.1"/><circle cx="293.0" cy="379.4" r="2.1"/><circle cx="210.6" cy="436.9" r="2.1"/><circle cx="274.6" cy="376.2" r="2.1"/><circle cx="592.2" cy="123.1" r="2.1"/><circle cx="305.8" cy="389.2" r="2.1"/><circle cx="369.7" cy="259.2" r="2.1"/><circle cx="406.8" cy="299.8" r="2.1"/><circle cx="217.5" cy="503.4" r="2.1"/><circle cx="358.8" cy="331.7" r="2.1"/><circle cx="237.7" cy="419.0" r="2.1"/><circle cx="331.1" cy="343.1" r="2.1"/><circle cx="218.8" cy="429.4" r="2.1"/><circle cx="303.8" cy="385.1" r="2.1"/><circle cx="275.8" cy="391.2" r="2.1"/><circle cx="364.1" cy="382.0" r="2.1"/><circle cx="322.5" cy="349.8" r="2.1"/><circle cx="200.4" cy="527.9" r="2.1"/><circle cx="153.1" cy="588.2" r="2.1"/><circle cx="323.7" cy="342.5" r="2.1"/><circle cx="399.2" cy="297.0" r="2.1"/><circle cx="262.3" cy="379.5" r="2.1"/><circle cx="336.4" cy="407.0" r="2.1"/><circle cx="270.1" cy="427.4" r="2.1"/><circle cx="287.9" cy="424.1" r="2.1"/><circle cx="151.9" cy="547.7" r="2.1"/><circle cx="281.5" cy="407.1" r="2.1"/><circle cx="343.9" cy="355.2" r="2.1"/><circle cx="233.6" cy="481.5" r="2.1"/><circle cx="297.2" cy="459.8" r="2.1"/><circle cx="404.8" cy="277.4" r="2.1"/><circle cx="199.2" cy="555.9" r="2.1"/><circle cx="393.1" cy="253.9" r="2.1"/><circle cx="177.3" cy="469.6" r="2.1"/><circle cx="109.9" cy="594.6" r="2.1"/><circle cx="255.9" cy="481.5" r="2.1"/><circle cx="314.1" cy="352.8" r="2.1"/><circle cx="325.1" cy="362.2" r="2.1"/><circle cx="354.5" cy="327.7" r="2.1"/><circle cx="304.1" cy="398.6" r="2.1"/><circle cx="254.7" cy="419.3" r="2.1"/><circle cx="279.1" cy="501.6" r="2.1"/><circle cx="331.9" cy="323.4" r="2.1"/><circle cx="218.7" cy="509.1" r="2.1"/><circle cx="269.4" cy="411.4" r="2.1"/><circle cx="318.4" cy="403.6" r="2.1"/><circle cx="302.1" cy="379.5" r="2.1"/><circle cx="221.9" cy="554.8" r="2.1"/><circle cx="269.3" cy="440.6" r="2.1"/><circle cx="274.7" cy="457.5" r="2.1"/><circle cx="445.0" cy="241.6" r="2.1"/><circle cx="233.1" cy="488.7" r="2.1"/><circle cx="216.6" cy="555.7" r="2.1"/><circle cx="347.6" cy="320.0" r="2.1"/><circle cx="506.3" cy="147.2" r="2.1"/><circle cx="492.3" cy="278.0" r="2.1"/><circle cx="208.5" cy="453.9" r="2.1"/><circle cx="280.5" cy="376.6" r="2.1"/><circle cx="417.0" cy="312.4" r="2.1"/><circle cx="246.2" cy="452.1" r="2.1"/><circle cx="335.9" cy="451.5" r="2.1"/><circle cx="353.2" cy="346.1" r="2.1"/><circle cx="219.1" cy="451.8" r="2.1"/><circle cx="282.2" cy="393.9" r="2.1"/><circle cx="400.6" cy="241.6" r="2.1"/><circle cx="210.0" cy="493.3" r="2.1"/><circle cx="298.7" cy="462.4" r="2.1"/><circle cx="372.2" cy="327.0" r="2.1"/><circle cx="212.9" cy="507.2" r="2.1"/><circle cx="196.9" cy="468.9" r="2.1"/><circle cx="236.5" cy="424.1" r="2.1"/><circle cx="420.1" cy="360.1" r="2.1"/><circle cx="273.8" cy="368.8" r="2.1"/><circle cx="151.9" cy="576.4" r="2.1"/><circle cx="293.0" cy="460.1" r="2.1"/><circle cx="278.1" cy="479.4" r="2.1"/><circle cx="410.0" cy="340.9" r="2.1"/><circle cx="300.9" cy="437.4" r="2.1"/><circle cx="308.5" cy="367.0" r="2.1"/><circle cx="188.7" cy="472.7" r="2.1"/><circle cx="331.8" cy="303.9" r="2.1"/><circle cx="274.1" cy="494.2" r="2.1"/><circle cx="543.1" cy="103.8" r="2.1"/><circle cx="362.7" cy="408.7" r="2.1"/><circle cx="343.6" cy="370.8" r="2.1"/><circle cx="279.4" cy="410.4" r="2.1"/><circle cx="302.0" cy="379.8" r="2.1"/><circle cx="170.0" cy="575.3" r="2.1"/><circle cx="375.0" cy="426.9" r="2.1"/><circle cx="349.8" cy="317.0" r="2.1"/><circle cx="367.9" cy="329.0" r="2.1"/><circle cx="111.0" cy="590.5" r="2.1"/><circle cx="256.7" cy="418.8" r="2.1"/><circle cx="378.0" cy="303.0" r="2.1"/><circle cx="194.8" cy="478.3" r="2.1"/><circle cx="187.8" cy="499.3" r="2.1"/><circle cx="228.0" cy="471.9" r="2.1"/><circle cx="201.0" cy="514.6" r="2.1"/><circle cx="563.5" cy="153.1" r="2.1"/><circle cx="299.0" cy="480.8" r="2.1"/><circle cx="203.6" cy="545.6" r="2.1"/><circle cx="249.4" cy="469.5" r="2.1"/><circle cx="289.2" cy="366.2" r="2.1"/><circle cx="338.9" cy="345.0" r="2.1"/><circle cx="504.6" cy="177.7" r="2.1"/><circle cx="209.7" cy="590.5" r="2.1"/><circle cx="358.9" cy="342.4" r="2.1"/><circle cx="198.2" cy="495.0" r="2.1"/><circle cx="420.1" cy="266.7" r="2.1"/><circle cx="400.7" cy="356.9" r="2.1"/><circle cx="202.9" cy="479.9" r="2.1"/><circle cx="204.2" cy="528.8" r="2.1"/><circle cx="267.1" cy="466.8" r="2.1"/><circle cx="231.8" cy="470.8" r="2.1"/><circle cx="399.0" cy="273.8" r="2.1"/><circle cx="232.0" cy="495.9" r="2.1"/><circle cx="183.9" cy="516.0" r="2.1"/><circle cx="189.5" cy="496.1" r="2.1"/><circle cx="405.9" cy="227.5" r="2.1"/><circle cx="309.7" cy="370.5" r="2.1"/><circle cx="386.1" cy="297.7" r="2.1"/><circle cx="426.3" cy="297.0" r="2.1"/><circle cx="295.8" cy="346.5" r="2.1"/><circle cx="111.6" cy="581.1" r="2.1"/><circle cx="217.8" cy="510.3" r="2.1"/><circle cx="295.4" cy="396.5" r="2.1"/><circle cx="313.9" cy="375.2" r="2.1"/><circle cx="353.2" cy="348.0" r="2.1"/><circle cx="349.1" cy="355.7" r="2.1"/><circle cx="266.2" cy="418.8" r="2.1"/><circle cx="323.8" cy="389.5" r="2.1"/><circle cx="193.9" cy="525.9" r="2.1"/><circle cx="161.2" cy="572.3" r="2.1"/><circle cx="356.3" cy="359.6" r="2.1"/><circle cx="248.1" cy="442.9" r="2.1"/><circle cx="437.4" cy="300.8" r="2.1"/><circle cx="200.1" cy="492.6" r="2.1"/><circle cx="211.7" cy="477.6" r="2.1"/><circle cx="294.1" cy="433.6" r="2.1"/><circle cx="229.4" cy="481.8" r="2.1"/><circle cx="362.7" cy="358.8" r="2.1"/><circle cx="362.2" cy="339.1" r="2.1"/><circle cx="309.2" cy="463.8" r="2.1"/><circle cx="337.0" cy="416.3" r="2.1"/><circle cx="329.6" cy="323.2" r="2.1"/><circle cx="200.8" cy="460.5" r="2.1"/><circle cx="301.1" cy="404.6" r="2.1"/><circle cx="201.5" cy="496.7" r="2.1"/><circle cx="330.0" cy="485.0" r="2.1"/><circle cx="277.2" cy="397.5" r="2.1"/><circle cx="187.8" cy="540.4" r="2.1"/><circle cx="473.6" cy="166.0" r="2.1"/><circle cx="327.5" cy="354.0" r="2.1"/><circle cx="296.4" cy="366.0" r="2.1"/><circle cx="193.7" cy="522.0" r="2.1"/><circle cx="237.9" cy="480.3" r="2.1"/><circle cx="302.7" cy="404.2" r="2.1"/><circle cx="205.2" cy="494.7" r="2.1"/><circle cx="187.0" cy="512.3" r="2.1"/><circle cx="230.1" cy="514.5" r="2.1"/><circle cx="332.9" cy="462.7" r="2.1"/><circle cx="278.5" cy="377.4" r="2.1"/><circle cx="351.5" cy="353.3" r="2.1"/><circle cx="398.8" cy="322.3" r="2.1"/><circle cx="295.3" cy="409.5" r="2.1"/><circle cx="258.5" cy="427.4" r="2.1"/><circle cx="234.4" cy="493.2" r="2.1"/><circle cx="253.5" cy="516.6" r="2.1"/><circle cx="209.8" cy="492.2" r="2.1"/><circle cx="209.4" cy="500.3" r="2.1"/><circle cx="185.8" cy="556.5" r="2.1"/><circle cx="355.6" cy="337.8" r="2.1"/><circle cx="216.5" cy="475.1" r="2.1"/><circle cx="405.9" cy="243.4" r="2.1"/><circle cx="316.2" cy="354.6" r="2.1"/><circle cx="343.4" cy="435.5" r="2.1"/><circle cx="424.8" cy="344.1" r="2.1"/><circle cx="383.9" cy="308.3" r="2.1"/><circle cx="189.4" cy="511.2" r="2.1"/><circle cx="295.5" cy="379.9" r="2.1"/><circle cx="110.4" cy="597.5" r="2.1"/><circle cx="322.5" cy="378.4" r="2.1"/><circle cx="202.2" cy="464.7" r="2.1"/><circle cx="299.6" cy="435.2" r="2.1"/><circle cx="287.8" cy="401.4" r="2.1"/><circle cx="383.2" cy="341.3" r="2.1"/><circle cx="292.8" cy="386.8" r="2.1"/><circle cx="220.8" cy="471.7" r="2.1"/><circle cx="422.2" cy="230.5" r="2.1"/><circle cx="341.2" cy="341.8" r="2.1"/><circle cx="421.3" cy="335.0" r="2.1"/><circle cx="348.4" cy="322.2" r="2.1"/><circle cx="352.0" cy="311.6" r="2.1"/><circle cx="453.2" cy="187.7" r="2.1"/><circle cx="202.2" cy="526.3" r="2.1"/><circle cx="277.0" cy="481.9" r="2.1"/><circle cx="305.8" cy="410.4" r="2.1"/><circle cx="197.4" cy="517.2" r="2.1"/><circle cx="308.5" cy="404.0" r="2.1"/><circle cx="298.3" cy="483.0" r="2.1"/><circle cx="201.6" cy="479.1" r="2.1"/><circle cx="228.0" cy="483.2" r="2.1"/><circle cx="315.3" cy="436.1" r="2.1"/><circle cx="202.8" cy="498.3" r="2.1"/><circle cx="351.7" cy="392.2" r="2.1"/><circle cx="223.0" cy="468.5" r="2.1"/><circle cx="353.8" cy="323.0" r="2.1"/><circle cx="397.5" cy="292.5" r="2.1"/><circle cx="363.4" cy="303.2" r="2.1"/><circle cx="303.4" cy="393.1" r="2.1"/><circle cx="184.8" cy="497.7" r="2.1"/><circle cx="354.9" cy="337.4" r="2.1"/><circle cx="201.4" cy="486.7" r="2.1"/><circle cx="334.1" cy="324.5" r="2.1"/><circle cx="232.5" cy="459.7" r="2.1"/><circle cx="315.8" cy="398.9" r="2.1"/><circle cx="314.5" cy="360.0" r="2.1"/><circle cx="343.7" cy="279.5" r="2.1"/><circle cx="396.7" cy="319.7" r="2.1"/><circle cx="330.8" cy="369.3" r="2.1"/><circle cx="379.4" cy="363.7" r="2.1"/><circle cx="209.8" cy="460.4" r="2.1"/><circle cx="326.7" cy="310.7" r="2.1"/><circle cx="319.4" cy="415.9" r="2.1"/><circle cx="242.2" cy="485.8" r="2.1"/><circle cx="288.2" cy="437.3" r="2.1"/><circle cx="202.4" cy="521.8" r="2.1"/><circle cx="172.9" cy="527.8" r="2.1"/><circle cx="129.1" cy="586.4" r="2.1"/><circle cx="287.9" cy="449.4" r="2.1"/><circle cx="285.9" cy="397.9" r="2.1"/><circle cx="350.5" cy="327.6" r="2.1"/><circle cx="279.8" cy="373.5" r="2.1"/><circle cx="231.2" cy="486.5" r="2.1"/><circle cx="230.1" cy="568.8" r="2.1"/><circle cx="302.7" cy="465.0" r="2.1"/><circle cx="112.2" cy="582.9" r="2.1"/><circle cx="419.2" cy="313.3" r="2.1"/><circle cx="211.4" cy="473.8" r="2.1"/><circle cx="272.7" cy="455.7" r="2.1"/><circle cx="339.6" cy="326.5" r="2.1"/><circle cx="281.2" cy="431.3" r="2.1"/><circle cx="311.0" cy="388.1" r="2.1"/><circle cx="234.6" cy="416.8" r="2.1"/><circle cx="246.8" cy="485.1" r="2.1"/><circle cx="209.1" cy="590.5" r="2.1"/><circle cx="417.2" cy="323.3" r="2.1"/><circle cx="294.4" cy="375.2" r="2.1"/><circle cx="276.7" cy="365.9" r="2.1"/><circle cx="553.6" cy="252.2" r="2.1"/><circle cx="255.4" cy="469.1" r="2.1"/><circle cx="349.8" cy="411.7" r="2.1"/><circle cx="334.4" cy="349.4" r="2.1"/><circle cx="215.0" cy="516.9" r="2.1"/><circle cx="240.9" cy="431.4" r="2.1"/><circle cx="346.6" cy="522.3" r="2.1"/><circle cx="307.8" cy="517.2" r="2.1"/><circle cx="300.6" cy="395.4" r="2.1"/><circle cx="330.3" cy="373.8" r="2.1"/><circle cx="405.8" cy="344.2" r="2.1"/><circle cx="314.4" cy="408.3" r="2.1"/><circle cx="421.7" cy="237.5" r="2.1"/><circle cx="316.3" cy="407.0" r="2.1"/><circle cx="433.3" cy="307.0" r="2.1"/><circle cx="300.7" cy="475.6" r="2.1"/><circle cx="200.4" cy="529.2" r="2.1"/><circle cx="344.9" cy="335.0" r="2.1"/><circle cx="289.4" cy="393.3" r="2.1"/><circle cx="307.3" cy="419.3" r="2.1"/><circle cx="348.1" cy="475.0" r="2.1"/><circle cx="222.8" cy="486.0" r="2.1"/><circle cx="533.2" cy="133.1" r="2.1"/><circle cx="269.3" cy="479.4" r="2.1"/><circle cx="295.8" cy="438.3" r="2.1"/><circle cx="328.8" cy="278.0" r="2.1"/><circle cx="582.2" cy="155.4" r="2.1"/><circle cx="304.4" cy="363.7" r="2.1"/><circle cx="388.0" cy="309.8" r="2.1"/><circle cx="199.5" cy="535.9" r="2.1"/><circle cx="539.6" cy="279.1" r="2.1"/><circle cx="215.0" cy="439.2" r="2.1"/><circle cx="422.2" cy="256.8" r="2.1"/><circle cx="204.7" cy="509.2" r="2.1"/><circle cx="220.5" cy="467.6" r="2.1"/><circle cx="205.0" cy="459.0" r="2.1"/><circle cx="302.3" cy="380.9" r="2.1"/><circle cx="417.0" cy="326.5" r="2.1"/><circle cx="365.2" cy="305.9" r="2.1"/><circle cx="415.8" cy="222.8" r="2.1"/><circle cx="301.3" cy="425.8" r="2.1"/><circle cx="257.9" cy="488.5" r="2.1"/><circle cx="230.3" cy="503.1" r="2.1"/><circle cx="441.5" cy="190.0" r="2.1"/><circle cx="287.7" cy="466.8" r="2.1"/><circle cx="183.4" cy="477.9" r="2.1"/><circle cx="198.8" cy="452.2" r="2.1"/><circle cx="581.7" cy="134.3" r="2.1"/><circle cx="341.4" cy="329.0" r="2.1"/><circle cx="371.8" cy="353.2" r="2.1"/><circle cx="202.2" cy="474.2" r="2.1"/><circle cx="244.2" cy="533.6" r="2.1"/><circle cx="178.8" cy="555.3" r="2.1"/><circle cx="301.1" cy="441.3" r="2.1"/><circle cx="258.0" cy="399.8" r="2.1"/><circle cx="352.9" cy="337.4" r="2.1"/><circle cx="213.3" cy="463.6" r="2.1"/><circle cx="553.6" cy="128.4" r="2.1"/><circle cx="220.4" cy="475.5" r="2.1"/><circle cx="219.6" cy="483.7" r="2.1"/><circle cx="201.9" cy="505.7" r="2.1"/><circle cx="337.4" cy="368.1" r="2.1"/><circle cx="574.1" cy="139.0" r="2.1"/><circle cx="219.9" cy="505.2" r="2.1"/><circle cx="202.5" cy="523.3" r="2.1"/><circle cx="324.2" cy="264.5" r="2.1"/><circle cx="153.1" cy="551.2" r="2.1"/><circle cx="336.7" cy="420.3" r="2.1"/><circle cx="153.1" cy="568.2" r="2.1"/><circle cx="224.9" cy="570.0" r="2.1"/><circle cx="245.3" cy="553.0" r="2.1"/><circle cx="205.5" cy="546.4" r="2.1"/><circle cx="292.0" cy="367.2" r="2.1"/><circle cx="270.9" cy="451.9" r="2.1"/><circle cx="387.8" cy="260.4" r="2.1"/><circle cx="344.4" cy="344.8" r="2.1"/><circle cx="248.8" cy="480.1" r="2.1"/><circle cx="301.2" cy="450.0" r="2.1"/><circle cx="513.3" cy="136.0" r="2.1"/><circle cx="386.9" cy="311.9" r="2.1"/><circle cx="406.4" cy="268.0" r="2.1"/><circle cx="228.8" cy="484.8" r="2.1"/><circle cx="167.1" cy="487.9" r="2.1"/><circle cx="394.8" cy="328.7" r="2.1"/><circle cx="343.1" cy="367.9" r="2.1"/><circle cx="211.6" cy="480.5" r="2.1"/><circle cx="285.9" cy="403.6" r="2.1"/><circle cx="244.6" cy="433.1" r="2.1"/><circle cx="239.6" cy="444.3" r="2.1"/><circle cx="235.3" cy="467.5" r="2.1"/><circle cx="409.4" cy="205.8" r="2.1"/><circle cx="277.8" cy="380.9" r="2.1"/><circle cx="248.9" cy="475.2" r="2.1"/><circle cx="203.7" cy="510.5" r="2.1"/><circle cx="272.5" cy="440.8" r="2.1"/><circle cx="202.3" cy="486.4" r="2.1"/><circle cx="424.3" cy="302.9" r="2.1"/><circle cx="305.8" cy="380.4" r="2.1"/><circle cx="188.0" cy="493.4" r="2.1"/><circle cx="339.4" cy="337.0" r="2.1"/><circle cx="431.6" cy="295.4" r="2.1"/><circle cx="236.2" cy="496.9" r="2.1"/><circle cx="239.5" cy="463.4" r="2.1"/><circle cx="219.8" cy="521.0" r="2.1"/><circle cx="362.1" cy="341.8" r="2.1"/><circle cx="327.8" cy="331.2" r="2.1"/><circle cx="209.2" cy="542.2" r="2.1"/><circle cx="343.1" cy="282.6" r="2.1"/><circle cx="305.2" cy="357.3" r="2.1"/><circle cx="297.2" cy="371.3" r="2.1"/><circle cx="386.8" cy="313.3" r="2.1"/><circle cx="263.4" cy="446.4" r="2.1"/><circle cx="185.2" cy="551.2" r="2.1"/><circle cx="332.8" cy="389.4" r="2.1"/><circle cx="248.7" cy="481.4" r="2.1"/><circle cx="540.8" cy="147.2" r="2.1"/><circle cx="389.5" cy="438.0" r="2.1"/><circle cx="394.5" cy="310.0" r="2.1"/><circle cx="230.1" cy="491.2" r="2.1"/><circle cx="395.6" cy="339.2" r="2.1"/><circle cx="202.3" cy="496.3" r="2.1"/><circle cx="352.5" cy="323.5" r="2.1"/><circle cx="222.1" cy="460.3" r="2.1"/><circle cx="540.2" cy="139.0" r="2.1"/><circle cx="290.3" cy="484.3" r="2.1"/><circle cx="295.9" cy="456.9" r="2.1"/><circle cx="204.2" cy="515.5" r="2.1"/><circle cx="276.0" cy="385.6" r="2.1"/><circle cx="192.2" cy="480.4" r="2.1"/><circle cx="116.9" cy="574.1" r="2.1"/><circle cx="192.9" cy="510.8" r="2.1"/><circle cx="206.8" cy="504.4" r="2.1"/><circle cx="331.8" cy="369.5" r="2.1"/><circle cx="324.6" cy="350.7" r="2.1"/><circle cx="280.1" cy="444.0" r="2.1"/><circle cx="220.5" cy="474.3" r="2.1"/><circle cx="319.0" cy="340.8" r="2.1"/><circle cx="229.3" cy="502.8" r="2.1"/><circle cx="466.6" cy="205.8" r="2.1"/><circle cx="137.3" cy="558.8" r="2.1"/><circle cx="298.7" cy="388.0" r="2.1"/><circle cx="266.9" cy="449.2" r="2.1"/><circle cx="375.2" cy="294.4" r="2.1"/><circle cx="202.1" cy="457.7" r="2.1"/><circle cx="222.3" cy="440.2" r="2.1"/><circle cx="278.8" cy="363.7" r="2.1"/><circle cx="247.9" cy="443.5" r="2.1"/><circle cx="307.9" cy="476.3" r="2.1"/><circle cx="286.9" cy="418.3" r="2.1"/><circle cx="392.5" cy="436.3" r="2.1"/><circle cx="125.0" cy="588.7" r="2.1"/><circle cx="229.1" cy="478.7" r="2.1"/><circle cx="402.6" cy="304.6" r="2.1"/><circle cx="221.5" cy="493.6" r="2.1"/><circle cx="321.6" cy="332.4" r="2.1"/><circle cx="306.1" cy="349.6" r="2.1"/><circle cx="423.4" cy="343.6" r="2.1"/><circle cx="324.4" cy="397.7" r="2.1"/><circle cx="268.9" cy="454.8" r="2.1"/><circle cx="257.7" cy="459.3" r="2.1"/><circle cx="196.9" cy="517.6" r="2.1"/><circle cx="523.3" cy="209.9" r="2.1"/><circle cx="498.2" cy="277.4" r="2.1"/><circle cx="271.0" cy="430.1" r="2.1"/><circle cx="214.1" cy="405.7" r="2.1"/><circle cx="307.8" cy="379.8" r="2.1"/><circle cx="421.7" cy="220.5" r="2.1"/><circle cx="198.6" cy="472.3" r="2.1"/><circle cx="241.5" cy="482.7" r="2.1"/><circle cx="323.6" cy="351.9" r="2.1"/><circle cx="265.4" cy="433.8" r="2.1"/><circle cx="199.3" cy="510.5" r="2.1"/><circle cx="198.2" cy="526.6" r="2.1"/><circle cx="141.4" cy="540.7" r="2.1"/><circle cx="265.5" cy="435.2" r="2.1"/><circle cx="366.5" cy="297.2" r="2.1"/><circle cx="174.7" cy="598.1" r="2.1"/><circle cx="263.1" cy="499.6" r="2.1"/><circle cx="430.4" cy="238.7" r="2.1"/><circle cx="293.8" cy="358.3" r="2.1"/><circle cx="363.8" cy="322.2" r="2.1"/><circle cx="320.1" cy="373.1" r="2.1"/><circle cx="212.6" cy="587.0" r="2.1"/><circle cx="327.9" cy="434.5" r="2.1"/><circle cx="391.5" cy="298.0" r="2.1"/><circle cx="229.0" cy="484.9" r="2.1"/><circle cx="367.8" cy="306.0" r="2.1"/><circle cx="213.3" cy="509.9" r="2.1"/><circle cx="257.6" cy="451.9" r="2.1"/><circle cx="289.9" cy="471.8" r="2.1"/><circle cx="191.1" cy="529.6" r="2.1"/><circle cx="236.7" cy="501.3" r="2.1"/><circle cx="200.8" cy="480.4" r="2.1"/><circle cx="195.5" cy="468.1" r="2.1"/><circle cx="268.4" cy="404.0" r="2.1"/><circle cx="151.3" cy="569.4" r="2.1"/><circle cx="216.7" cy="469.8" r="2.1"/><circle cx="433.9" cy="226.4" r="2.1"/><circle cx="291.3" cy="407.3" r="2.1"/><circle cx="300.4" cy="437.3" r="2.1"/><circle cx="355.0" cy="377.3" r="2.1"/><circle cx="197.6" cy="492.4" r="2.1"/><circle cx="249.4" cy="477.5" r="2.1"/><circle cx="251.6" cy="434.1" r="2.1"/><circle cx="575.8" cy="194.1" r="2.1"/><circle cx="334.0" cy="376.6" r="2.1"/><circle cx="532.0" cy="126.7" r="2.1"/><circle cx="317.0" cy="347.4" r="2.1"/><circle cx="282.1" cy="466.2" r="2.1"/><circle cx="362.2" cy="292.4" r="2.1"/><circle cx="393.6" cy="289.4" r="2.1"/><circle cx="208.8" cy="507.1" r="2.1"/><circle cx="226.5" cy="426.3" r="2.1"/><circle cx="134.4" cy="554.2" r="2.1"/><circle cx="406.9" cy="325.9" r="2.1"/><circle cx="327.9" cy="388.4" r="2.1"/><circle cx="306.0" cy="432.4" r="2.1"/><circle cx="228.7" cy="476.9" r="2.1"/><circle cx="370.5" cy="346.7" r="2.1"/><circle cx="218.9" cy="462.8" r="2.1"/><circle cx="294.4" cy="390.5" r="2.1"/><circle cx="229.1" cy="423.4" r="2.1"/><circle cx="300.9" cy="417.3" r="2.1"/><circle cx="320.8" cy="337.8" r="2.1"/><circle cx="324.3" cy="423.7" r="2.1"/><circle cx="224.1" cy="513.1" r="2.1"/><circle cx="235.0" cy="522.5" r="2.1"/><circle cx="353.5" cy="342.7" r="2.1"/><circle cx="191.6" cy="506.4" r="2.1"/><circle cx="382.0" cy="238.1" r="2.1"/><circle cx="302.7" cy="345.6" r="2.1"/><circle cx="202.9" cy="472.3" r="2.1"/><circle cx="338.1" cy="282.9" r="2.1"/><circle cx="256.4" cy="383.5" r="2.1"/><circle cx="409.8" cy="340.5" r="2.1"/><circle cx="206.8" cy="555.3" r="2.1"/><circle cx="211.5" cy="495.5" r="2.1"/><circle cx="328.8" cy="334.2" r="2.1"/><circle cx="254.4" cy="418.3" r="2.1"/><circle cx="289.3" cy="443.1" r="2.1"/><circle cx="426.3" cy="287.1" r="2.1"/><circle cx="242.8" cy="469.2" r="2.1"/><circle cx="199.5" cy="490.4" r="2.1"/><circle cx="280.4" cy="410.2" r="2.1"/><circle cx="212.3" cy="477.7" r="2.1"/><circle cx="248.2" cy="440.4" r="2.1"/><circle cx="413.1" cy="371.4" r="2.1"/><circle cx="309.3" cy="405.0" r="2.1"/><circle cx="499.3" cy="197.0" r="2.1"/><circle cx="411.9" cy="354.8" r="2.1"/><circle cx="432.2" cy="226.9" r="2.1"/><circle cx="255.3" cy="317.2" r="2.1"/><circle cx="275.3" cy="426.5" r="2.1"/><circle cx="491.1" cy="235.7" r="2.1"/><circle cx="451.4" cy="324.3" r="2.1"/><circle cx="285.7" cy="446.1" r="2.1"/><circle cx="298.0" cy="408.5" r="2.1"/><circle cx="432.8" cy="301.6" r="2.1"/><circle cx="199.9" cy="503.2" r="2.1"/><circle cx="356.3" cy="351.3" r="2.1"/><circle cx="294.7" cy="433.2" r="2.1"/><circle cx="173.2" cy="515.9" r="2.1"/><circle cx="221.0" cy="449.5" r="2.1"/><circle cx="111.6" cy="602.2" r="2.1"/><circle cx="255.8" cy="453.2" r="2.1"/><circle cx="322.6" cy="365.7" r="2.1"/><circle cx="307.6" cy="435.1" r="2.1"/><circle cx="433.9" cy="252.2" r="2.1"/><circle cx="301.3" cy="383.6" r="2.1"/><circle cx="300.9" cy="409.9" r="2.1"/><circle cx="311.5" cy="380.8" r="2.1"/><circle cx="412.9" cy="251.0" r="2.1"/><circle cx="343.4" cy="355.1" r="2.1"/><circle cx="206.8" cy="428.8" r="2.1"/><circle cx="209.1" cy="456.2" r="2.1"/><circle cx="202.6" cy="452.1" r="2.1"/><circle cx="204.7" cy="498.3" r="2.1"/><circle cx="118.0" cy="558.8" r="2.1"/><circle cx="293.9" cy="410.2" r="2.1"/><circle cx="429.3" cy="166.0" r="2.1"/><circle cx="328.9" cy="354.7" r="2.1"/><circle cx="292.9" cy="443.5" r="2.1"/><circle cx="223.0" cy="471.7" r="2.1"/><circle cx="258.4" cy="481.3" r="2.1"/><circle cx="207.1" cy="477.1" r="2.1"/><circle cx="390.9" cy="347.6" r="2.1"/><circle cx="210.6" cy="515.7" r="2.1"/><circle cx="197.1" cy="537.5" r="2.1"/><circle cx="194.9" cy="511.6" r="2.1"/><circle cx="370.3" cy="318.4" r="2.1"/><circle cx="397.3" cy="341.0" r="2.1"/><circle cx="393.6" cy="310.4" r="2.1"/><circle cx="345.4" cy="358.4" r="2.1"/><circle cx="302.5" cy="367.9" r="2.1"/><circle cx="315.9" cy="441.0" r="2.1"/><circle cx="317.3" cy="345.3" r="2.1"/><circle cx="302.2" cy="435.9" r="2.1"/><circle cx="328.2" cy="417.4" r="2.1"/><circle cx="199.7" cy="465.0" r="2.1"/><circle cx="411.2" cy="227.5" r="2.1"/><circle cx="495.2" cy="189.4" r="2.1"/><circle cx="297.3" cy="377.4" r="2.1"/><circle cx="596.2" cy="139.6" r="2.1"/><circle cx="264.4" cy="503.4" r="2.1"/><circle cx="335.4" cy="373.2" r="2.1"/><circle cx="227.4" cy="458.9" r="2.1"/><circle cx="304.4" cy="432.7" r="2.1"/><circle cx="186.4" cy="521.5" r="2.1"/><circle cx="200.2" cy="500.4" r="2.1"/><circle cx="227.5" cy="458.2" r="2.1"/><circle cx="296.5" cy="374.2" r="2.1"/><circle cx="340.9" cy="351.7" r="2.1"/><circle cx="217.4" cy="468.5" r="2.1"/><circle cx="221.4" cy="470.8" r="2.1"/><circle cx="321.9" cy="376.6" r="2.1"/><circle cx="242.0" cy="430.5" r="2.1"/><circle cx="388.1" cy="336.5" r="2.1"/><circle cx="212.9" cy="457.8" r="2.1"/><circle cx="259.6" cy="484.6" r="2.1"/><circle cx="318.5" cy="379.1" r="2.1"/><circle cx="288.5" cy="401.2" r="2.1"/><circle cx="225.8" cy="433.5" r="2.1"/><circle cx="232.4" cy="449.9" r="2.1"/><circle cx="247.3" cy="476.9" r="2.1"/><circle cx="441.5" cy="315.8" r="2.1"/><circle cx="390.4" cy="351.9" r="2.1"/><circle cx="251.0" cy="443.5" r="2.1"/><circle cx="289.9" cy="374.9" r="2.1"/><circle cx="182.3" cy="519.6" r="2.1"/><circle cx="335.9" cy="338.6" r="2.1"/><circle cx="329.6" cy="430.0" r="2.1"/><circle cx="409.4" cy="195.9" r="2.1"/><circle cx="386.3" cy="317.1" r="2.1"/><circle cx="379.6" cy="336.4" r="2.1"/><circle cx="273.6" cy="408.3" r="2.1"/><circle cx="481.8" cy="179.4" r="2.1"/><circle cx="263.7" cy="496.9" r="2.1"/><circle cx="372.4" cy="342.6" r="2.1"/><circle cx="200.4" cy="485.0" r="2.1"/><circle cx="389.5" cy="431.6" r="2.1"/><circle cx="342.8" cy="407.0" r="2.1"/><circle cx="469.0" cy="225.2" r="2.1"/><circle cx="211.9" cy="483.6" r="2.1"/><circle cx="327.1" cy="451.5" r="2.1"/><circle cx="334.7" cy="323.0" r="2.1"/><circle cx="330.2" cy="377.9" r="2.1"/><circle cx="112.8" cy="568.2" r="2.1"/><circle cx="558.3" cy="134.3" r="2.1"/><circle cx="195.1" cy="498.1" r="2.1"/><circle cx="265.5" cy="460.0" r="2.1"/><circle cx="325.9" cy="331.0" r="2.1"/><circle cx="370.3" cy="238.1" r="2.1"/><circle cx="354.1" cy="351.8" r="2.1"/><circle cx="217.8" cy="438.3" r="2.1"/><circle cx="579.3" cy="156.0" r="2.1"/><circle cx="279.9" cy="400.4" r="2.1"/><circle cx="306.2" cy="395.8" r="2.1"/><circle cx="343.8" cy="325.6" r="2.1"/><circle cx="581.1" cy="159.5" r="2.1"/><circle cx="380.6" cy="367.6" r="2.1"/><circle cx="264.6" cy="375.9" r="2.1"/><circle cx="374.7" cy="351.7" r="2.1"/><circle cx="277.5" cy="391.0" r="2.1"/><circle cx="322.3" cy="336.3" r="2.1"/><circle cx="315.9" cy="377.9" r="2.1"/><circle cx="291.9" cy="378.7" r="2.1"/><circle cx="292.3" cy="382.7" r="2.1"/><circle cx="324.1" cy="316.6" r="2.1"/><circle cx="474.2" cy="343.6" r="2.1"/><circle cx="379.7" cy="342.6" r="2.1"/><circle cx="225.0" cy="493.6" r="2.1"/><circle cx="200.9" cy="515.9" r="2.1"/><circle cx="257.6" cy="425.3" r="2.1"/><circle cx="262.8" cy="453.2" r="2.1"/><circle cx="390.4" cy="315.8" r="2.1"/><circle cx="377.3" cy="193.5" r="2.1"/><circle cx="304.0" cy="410.4" r="2.1"/><circle cx="209.1" cy="576.4" r="2.1"/><circle cx="211.5" cy="544.8" r="2.1"/><circle cx="215.2" cy="512.8" r="2.1"/><circle cx="436.8" cy="321.9" r="2.1"/><circle cx="186.8" cy="525.8" r="2.1"/><circle cx="373.4" cy="275.7" r="2.1"/><circle cx="362.4" cy="310.3" r="2.1"/><circle cx="300.4" cy="386.3" r="2.1"/><circle cx="296.0" cy="459.7" r="2.1"/><circle cx="597.4" cy="129.0" r="2.1"/><circle cx="204.3" cy="473.9" r="2.1"/><circle cx="497.0" cy="174.2" r="2.1"/><circle cx="311.0" cy="438.5" r="2.1"/><circle cx="388.1" cy="322.0" r="2.1"/><circle cx="228.3" cy="440.6" r="2.1"/><circle cx="279.9" cy="393.5" r="2.1"/><circle cx="130.9" cy="568.8" r="2.1"/><circle cx="351.2" cy="372.8" r="2.1"/><circle cx="281.8" cy="484.0" r="2.1"/><circle cx="275.6" cy="441.0" r="2.1"/><circle cx="353.9" cy="375.7" r="2.1"/><circle cx="406.5" cy="310.9" r="2.1"/><circle cx="319.1" cy="350.4" r="2.1"/><circle cx="308.7" cy="431.7" r="2.1"/><circle cx="309.3" cy="369.4" r="2.1"/><circle cx="204.5" cy="535.6" r="2.1"/><circle cx="282.5" cy="382.1" r="2.1"/><circle cx="366.7" cy="381.0" r="2.1"/><circle cx="141.4" cy="565.3" r="2.1"/><circle cx="234.8" cy="557.7" r="2.1"/><circle cx="292.1" cy="407.1" r="2.1"/><circle cx="312.9" cy="382.4" r="2.1"/><circle cx="225.1" cy="438.2" r="2.1"/><circle cx="337.6" cy="261.0" r="2.1"/><circle cx="294.6" cy="395.8" r="2.1"/><circle cx="430.2" cy="310.0" r="2.1"/><circle cx="298.4" cy="468.0" r="2.1"/><circle cx="414.2" cy="360.9" r="2.1"/><circle cx="292.2" cy="381.0" r="2.1"/><circle cx="405.8" cy="356.3" r="2.1"/><circle cx="122.1" cy="594.6" r="2.1"/><circle cx="291.2" cy="406.3" r="2.1"/><circle cx="333.7" cy="345.1" r="2.1"/><circle cx="334.1" cy="348.3" r="2.1"/><circle cx="205.2" cy="503.0" r="2.1"/><circle cx="319.0" cy="421.2" r="2.1"/><circle cx="298.6" cy="359.2" r="2.1"/><circle cx="325.3" cy="373.1" r="2.1"/><circle cx="194.3" cy="532.5" r="2.1"/><circle cx="269.1" cy="453.5" r="2.1"/><circle cx="285.8" cy="470.2" r="2.1"/><circle cx="297.9" cy="383.2" r="2.1"/><circle cx="264.5" cy="463.3" r="2.1"/><circle cx="203.3" cy="479.9" r="2.1"/><circle cx="268.2" cy="454.9" r="2.1"/><circle cx="417.0" cy="181.2" r="2.1"/><circle cx="302.8" cy="463.8" r="2.1"/><circle cx="341.5" cy="347.0" r="2.1"/><circle cx="268.7" cy="472.8" r="2.1"/><circle cx="194.4" cy="529.4" r="2.1"/><circle cx="295.4" cy="394.2" r="2.1"/><circle cx="278.0" cy="365.4" r="2.1"/><circle cx="183.0" cy="505.4" r="2.1"/><circle cx="188.5" cy="464.1" r="2.1"/><circle cx="261.0" cy="406.3" r="2.1"/><circle cx="532.6" cy="127.8" r="2.1"/><circle cx="196.0" cy="507.5" r="2.1"/><circle cx="595.7" cy="104.4" r="2.1"/><circle cx="222.8" cy="505.5" r="2.1"/><circle cx="193.2" cy="532.9" r="2.1"/><circle cx="401.9" cy="375.7" r="2.1"/><circle cx="193.5" cy="512.5" r="2.1"/><circle cx="297.2" cy="391.0" r="2.1"/><circle cx="289.6" cy="473.3" r="2.1"/><circle cx="114.5" cy="571.7" r="2.1"/><circle cx="334.2" cy="354.8" r="2.1"/><circle cx="202.2" cy="472.0" r="2.1"/><circle cx="216.9" cy="461.6" r="2.1"/><circle cx="299.7" cy="395.2" r="2.1"/><circle cx="295.4" cy="390.9" r="2.1"/><circle cx="308.1" cy="445.2" r="2.1"/><circle cx="214.1" cy="459.4" r="2.1"/><circle cx="354.3" cy="324.3" r="2.1"/><circle cx="205.0" cy="491.1" r="2.1"/><circle cx="170.0" cy="522.5" r="2.1"/><circle cx="315.6" cy="436.8" r="2.1"/><circle cx="313.7" cy="359.3" r="2.1"/><circle cx="111.0" cy="596.4" r="2.1"/><circle cx="302.6" cy="381.0" r="2.1"/><circle cx="190.4" cy="517.1" r="2.1"/><circle cx="294.7" cy="383.3" r="2.1"/><circle cx="211.2" cy="462.5" r="2.1"/><circle cx="209.6" cy="459.2" r="2.1"/><circle cx="270.4" cy="471.5" r="2.1"/><circle cx="362.6" cy="334.2" r="2.1"/><circle cx="411.7" cy="379.5" r="2.1"/><circle cx="316.6" cy="367.8" r="2.1"/><circle cx="269.6" cy="461.4" r="2.1"/><circle cx="195.1" cy="512.0" r="2.1"/><circle cx="371.4" cy="314.1" r="2.1"/><circle cx="217.3" cy="577.6" r="2.1"/><circle cx="390.2" cy="361.8" r="2.1"/><circle cx="191.6" cy="548.3" r="2.1"/><circle cx="197.8" cy="520.4" r="2.1"/><circle cx="233.3" cy="467.8" r="2.1"/><circle cx="197.9" cy="484.1" r="2.1"/><circle cx="277.0" cy="449.1" r="2.1"/><circle cx="196.3" cy="482.5" r="2.1"/><circle cx="243.4" cy="391.0" r="2.1"/><circle cx="221.0" cy="528.0" r="2.1"/><circle cx="315.8" cy="416.5" r="2.1"/><circle cx="361.2" cy="371.3" r="2.1"/><circle cx="293.6" cy="452.1" r="2.1"/><circle cx="197.9" cy="519.9" r="2.1"/><circle cx="202.8" cy="492.5" r="2.1"/><circle cx="395.4" cy="355.0" r="2.1"/><circle cx="433.9" cy="315.5" r="2.1"/><circle cx="344.5" cy="385.2" r="2.1"/><circle cx="285.8" cy="363.9" r="2.1"/><circle cx="477.1" cy="281.5" r="2.1"/><circle cx="190.6" cy="531.7" r="2.1"/><circle cx="394.2" cy="305.3" r="2.1"/><circle cx="176.4" cy="560.0" r="2.1"/><circle cx="358.7" cy="325.9" r="2.1"/><circle cx="377.9" cy="297.4" r="2.1"/><circle cx="422.1" cy="324.9" r="2.1"/><circle cx="426.4" cy="337.8" r="2.1"/><circle cx="292.2" cy="394.8" r="2.1"/><circle cx="309.4" cy="383.4" r="2.1"/><circle cx="345.3" cy="327.2" r="2.1"/><circle cx="334.8" cy="367.5" r="2.1"/><circle cx="283.7" cy="377.8" r="2.1"/><circle cx="263.9" cy="429.7" r="2.1"/><circle cx="346.0" cy="343.2" r="2.1"/><circle cx="185.4" cy="519.4" r="2.1"/><circle cx="213.4" cy="440.8" r="2.1"/><circle cx="312.9" cy="408.8" r="2.1"/><circle cx="349.8" cy="318.4" r="2.1"/><circle cx="298.8" cy="463.2" r="2.1"/><circle cx="425.2" cy="219.3" r="2.1"/><circle cx="220.6" cy="447.5" r="2.1"/><circle cx="300.2" cy="407.2" r="2.1"/><circle cx="414.8" cy="311.6" r="2.1"/><circle cx="271.4" cy="369.1" r="2.1"/><circle cx="225.5" cy="502.8" r="2.1"/><circle cx="454.9" cy="125.5" r="2.1"/><circle cx="193.8" cy="514.6" r="2.1"/><circle cx="322.2" cy="382.1" r="2.1"/><circle cx="217.8" cy="497.4" r="2.1"/><circle cx="307.2" cy="401.6" r="2.1"/><circle cx="315.1" cy="367.6" r="2.1"/><circle cx="340.6" cy="355.9" r="2.1"/><circle cx="284.7" cy="391.7" r="2.1"/><circle cx="218.5" cy="566.5" r="2.1"/><circle cx="305.3" cy="408.3" r="2.1"/><circle cx="309.0" cy="372.1" r="2.1"/><circle cx="291.1" cy="404.4" r="2.1"/><circle cx="292.9" cy="386.2" r="2.1"/><circle cx="129.1" cy="578.8" r="2.1"/><circle cx="308.7" cy="365.9" r="2.1"/><circle cx="355.1" cy="473.8" r="2.1"/><circle cx="265.1" cy="424.6" r="2.1"/><circle cx="453.8" cy="132.5" r="2.1"/><circle cx="400.6" cy="296.3" r="2.1"/><circle cx="301.9" cy="382.3" r="2.1"/><circle cx="282.2" cy="373.2" r="2.1"/><circle cx="406.8" cy="309.3" r="2.1"/><circle cx="220.9" cy="434.1" r="2.1"/><circle cx="269.3" cy="363.6" r="2.1"/><circle cx="280.2" cy="358.4" r="2.1"/><circle cx="463.7" cy="174.2" r="2.1"/><circle cx="249.1" cy="491.7" r="2.1"/><circle cx="421.4" cy="361.3" r="2.1"/><circle cx="343.9" cy="337.8" r="2.1"/><circle cx="403.5" cy="309.9" r="2.1"/><circle cx="229.2" cy="526.2" r="2.1"/><circle cx="204.4" cy="484.4" r="2.1"/><circle cx="220.7" cy="529.9" r="2.1"/><circle cx="418.7" cy="339.7" r="2.1"/><circle cx="287.6" cy="466.2" r="2.1"/><circle cx="240.0" cy="485.8" r="2.1"/><circle cx="210.0" cy="464.1" r="2.1"/><circle cx="334.8" cy="343.6" r="2.1"/><circle cx="427.3" cy="335.5" r="2.1"/><circle cx="308.1" cy="398.7" r="2.1"/><circle cx="154.2" cy="574.7" r="2.1"/><circle cx="420.2" cy="338.4" r="2.1"/><circle cx="294.7" cy="364.9" r="2.1"/><circle cx="283.5" cy="367.1" r="2.1"/><circle cx="302.9" cy="394.9" r="2.1"/><circle cx="205.6" cy="494.2" r="2.1"/><circle cx="498.7" cy="204.7" r="2.1"/><circle cx="406.2" cy="318.5" r="2.1"/><circle cx="412.7" cy="324.6" r="2.1"/><circle cx="316.9" cy="332.4" r="2.1"/><circle cx="369.5" cy="373.9" r="2.1"/><circle cx="108.7" cy="591.7" r="2.1"/><circle cx="198.9" cy="524.5" r="2.1"/><circle cx="146.1" cy="569.4" r="2.1"/><circle cx="318.7" cy="381.5" r="2.1"/><circle cx="234.6" cy="486.0" r="2.1"/><circle cx="356.8" cy="359.5" r="2.1"/><circle cx="280.3" cy="422.6" r="2.1"/><circle cx="213.2" cy="466.1" r="2.1"/><circle cx="339.5" cy="351.0" r="2.1"/><circle cx="201.5" cy="483.5" r="2.1"/><circle cx="382.5" cy="252.2" r="2.1"/><circle cx="204.3" cy="520.0" r="2.1"/><circle cx="340.0" cy="375.2" r="2.1"/><circle cx="206.6" cy="509.4" r="2.1"/><circle cx="357.4" cy="352.3" r="2.1"/><circle cx="200.9" cy="564.1" r="2.1"/><circle cx="190.9" cy="457.3" r="2.1"/><circle cx="294.0" cy="426.0" r="2.1"/><circle cx="343.9" cy="340.6" r="2.1"/><circle cx="205.6" cy="459.7" r="2.1"/><circle cx="566.5" cy="148.9" r="2.1"/><circle cx="398.8" cy="340.5" r="2.1"/><circle cx="286.3" cy="386.2" r="2.1"/><circle cx="207.8" cy="491.6" r="2.1"/><circle cx="206.4" cy="458.4" r="2.1"/><circle cx="362.5" cy="320.9" r="2.1"/><circle cx="365.0" cy="350.7" r="2.1"/><circle cx="246.6" cy="413.9" r="2.1"/><circle cx="289.4" cy="429.5" r="2.1"/><circle cx="107.5" cy="582.9" r="2.1"/><circle cx="429.1" cy="286.9" r="2.1"/><circle cx="397.7" cy="272.1" r="2.1"/><circle cx="302.4" cy="433.8" r="2.1"/><circle cx="267.9" cy="429.7" r="2.1"/><circle cx="330.6" cy="375.8" r="2.1"/><circle cx="310.1" cy="418.3" r="2.1"/><circle cx="273.9" cy="453.2" r="2.1"/><circle cx="226.5" cy="511.6" r="2.1"/><circle cx="209.6" cy="473.8" r="2.1"/><circle cx="344.0" cy="412.2" r="2.1"/><circle cx="327.4" cy="380.8" r="2.1"/><circle cx="402.5" cy="333.1" r="2.1"/><circle cx="213.3" cy="484.7" r="2.1"/><circle cx="196.7" cy="543.6" r="2.1"/><circle cx="178.2" cy="511.3" r="2.1"/><circle cx="369.6" cy="319.5" r="2.1"/><circle cx="323.5" cy="375.0" r="2.1"/><circle cx="315.5" cy="431.8" r="2.1"/><circle cx="187.9" cy="513.6" r="2.1"/><circle cx="165.9" cy="575.8" r="2.1"/><circle cx="181.7" cy="485.7" r="2.1"/><circle cx="274.7" cy="421.2" r="2.1"/><circle cx="182.3" cy="597.5" r="2.1"/><circle cx="212.8" cy="464.1" r="2.1"/><circle cx="340.8" cy="369.0" r="2.1"/><circle cx="216.1" cy="483.0" r="2.1"/><circle cx="313.6" cy="463.2" r="2.1"/><circle cx="225.3" cy="523.4" r="2.1"/><circle cx="213.4" cy="449.1" r="2.1"/><circle cx="276.9" cy="368.7" r="2.1"/><circle cx="407.3" cy="347.6" r="2.1"/><circle cx="336.8" cy="366.8" r="2.1"/><circle cx="222.8" cy="502.3" r="2.1"/><circle cx="285.3" cy="446.7" r="2.1"/><circle cx="250.5" cy="440.3" r="2.1"/><circle cx="170.6" cy="537.1" r="2.1"/><circle cx="279.2" cy="408.0" r="2.1"/><circle cx="332.2" cy="326.7" r="2.1"/><circle cx="276.2" cy="431.7" r="2.1"/><circle cx="418.7" cy="240.4" r="2.1"/><circle cx="157.2" cy="521.3" r="2.1"/><circle cx="413.5" cy="229.3" r="2.1"/><circle cx="204.5" cy="553.0" r="2.1"/><circle cx="504.0" cy="261.0" r="2.1"/><circle cx="307.9" cy="476.5" r="2.1"/><circle cx="234.3" cy="459.4" r="2.1"/><circle cx="232.2" cy="487.5" r="2.1"/><circle cx="327.1" cy="490.2" r="2.1"/><circle cx="341.6" cy="367.7" r="2.1"/><circle cx="206.4" cy="448.1" r="2.1"/><circle cx="234.2" cy="458.1" r="2.1"/><circle cx="189.4" cy="505.7" r="2.1"/><circle cx="300.5" cy="410.2" r="2.1"/><circle cx="431.5" cy="291.6" r="2.1"/><circle cx="208.8" cy="507.8" r="2.1"/><circle cx="328.9" cy="382.9" r="2.1"/><circle cx="238.3" cy="531.9" r="2.1"/><circle cx="425.7" cy="236.9" r="2.1"/><circle cx="454.4" cy="224.0" r="2.1"/><circle cx="202.9" cy="450.0" r="2.1"/><circle cx="231.5" cy="526.5" r="2.1"/><circle cx="330.6" cy="331.1" r="2.1"/><circle cx="299.3" cy="375.2" r="2.1"/><circle cx="253.8" cy="466.8" r="2.1"/><circle cx="358.1" cy="322.7" r="2.1"/><circle cx="294.6" cy="485.1" r="2.1"/><circle cx="200.1" cy="507.2" r="2.1"/><circle cx="334.0" cy="347.3" r="2.1"/><circle cx="395.9" cy="351.6" r="2.1"/><circle cx="196.2" cy="544.1" r="2.1"/><circle cx="405.7" cy="295.4" r="2.1"/><circle cx="443.3" cy="203.5" r="2.1"/><circle cx="356.3" cy="305.6" r="2.1"/><circle cx="599.8" cy="134.9" r="2.1"/><circle cx="367.0" cy="277.8" r="2.1"/><circle cx="342.3" cy="436.3" r="2.1"/><circle cx="257.0" cy="514.3" r="2.1"/><circle cx="331.4" cy="441.7" r="2.1"/><circle cx="191.0" cy="526.2" r="2.1"/><circle cx="345.3" cy="342.9" r="2.1"/><circle cx="331.3" cy="349.0" r="2.1"/><circle cx="401.2" cy="324.3" r="2.1"/><circle cx="279.0" cy="468.7" r="2.1"/><circle cx="230.6" cy="517.6" r="2.1"/><circle cx="312.2" cy="359.2" r="2.1"/><circle cx="222.5" cy="463.2" r="2.1"/><circle cx="299.0" cy="381.0" r="2.1"/><circle cx="202.8" cy="466.1" r="2.1"/><circle cx="394.2" cy="308.6" r="2.1"/><circle cx="217.2" cy="491.5" r="2.1"/><circle cx="480.1" cy="134.9" r="2.1"/><circle cx="354.2" cy="390.7" r="2.1"/><circle cx="590.4" cy="125.5" r="2.1"/><circle cx="318.6" cy="325.8" r="2.1"/><circle cx="285.5" cy="453.0" r="2.1"/><circle cx="269.8" cy="488.7" r="2.1"/><circle cx="310.3" cy="399.3" r="2.1"/><circle cx="346.9" cy="288.0" r="2.1"/><circle cx="367.4" cy="440.4" r="2.1"/><circle cx="300.0" cy="432.0" r="2.1"/><circle cx="367.9" cy="395.8" r="2.1"/><circle cx="358.5" cy="327.9" r="2.1"/><circle cx="262.5" cy="381.1" r="2.1"/><circle cx="212.1" cy="528.1" r="2.1"/><circle cx="250.8" cy="456.8" r="2.1"/><circle cx="151.3" cy="508.4" r="2.1"/><circle cx="181.7" cy="533.0" r="2.1"/><circle cx="227.5" cy="455.2" r="2.1"/><circle cx="297.7" cy="426.5" r="2.1"/><circle cx="240.7" cy="371.2" r="2.1"/><circle cx="607.3" cy="131.4" r="2.1"/><circle cx="197.0" cy="511.8" r="2.1"/><circle cx="265.1" cy="375.9" r="2.1"/><circle cx="315.5" cy="375.7" r="2.1"/><circle cx="392.1" cy="329.8" r="2.1"/><circle cx="268.8" cy="443.9" r="2.1"/><circle cx="368.0" cy="327.9" r="2.1"/><circle cx="304.8" cy="398.6" r="2.1"/><circle cx="192.6" cy="501.3" r="2.1"/><circle cx="206.2" cy="478.4" r="2.1"/><circle cx="279.4" cy="474.2" r="2.1"/><circle cx="274.1" cy="444.0" r="2.1"/><circle cx="213.2" cy="489.5" r="2.1"/><circle cx="200.8" cy="488.5" r="2.1"/><circle cx="297.1" cy="441.4" r="2.1"/><circle cx="215.6" cy="461.1" r="2.1"/><circle cx="355.1" cy="242.2" r="2.1"/><circle cx="239.1" cy="491.9" r="2.1"/><circle cx="276.0" cy="425.1" r="2.1"/><circle cx="278.1" cy="432.4" r="2.1"/><circle cx="356.6" cy="329.1" r="2.1"/><circle cx="464.3" cy="135.5" r="2.1"/><circle cx="249.4" cy="526.0" r="2.1"/><circle cx="172.9" cy="550.0" r="2.1"/><circle cx="348.0" cy="382.8" r="2.1"/><circle cx="328.5" cy="359.5" r="2.1"/><circle cx="198.4" cy="507.1" r="2.1"/><circle cx="197.4" cy="568.8" r="2.1"/><circle cx="329.6" cy="357.5" r="2.1"/><circle cx="308.4" cy="332.5" r="2.1"/><circle cx="201.1" cy="481.0" r="2.1"/><circle cx="308.0" cy="461.9" r="2.1"/><circle cx="296.7" cy="405.1" r="2.1"/><circle cx="390.3" cy="353.6" r="2.1"/><circle cx="278.6" cy="377.4" r="2.1"/><circle cx="271.5" cy="448.5" r="2.1"/><circle cx="267.7" cy="448.8" r="2.1"/><circle cx="243.8" cy="492.0" r="2.1"/><circle cx="182.0" cy="510.5" r="2.1"/><circle cx="453.2" cy="280.3" r="2.1"/><circle cx="302.0" cy="446.5" r="2.1"/><circle cx="344.9" cy="339.4" r="2.1"/><circle cx="273.8" cy="374.6" r="2.1"/><circle cx="205.8" cy="498.0" r="2.1"/><circle cx="363.7" cy="331.7" r="2.1"/><circle cx="386.2" cy="332.0" r="2.1"/><circle cx="211.6" cy="498.5" r="2.1"/><circle cx="211.3" cy="527.9" r="2.1"/><circle cx="233.1" cy="494.5" r="2.1"/><circle cx="283.2" cy="380.8" r="2.1"/><circle cx="269.6" cy="423.7" r="2.1"/><circle cx="302.2" cy="374.9" r="2.1"/><circle cx="347.9" cy="381.6" r="2.1"/><circle cx="213.2" cy="373.0" r="2.1"/><circle cx="368.5" cy="341.2" r="2.1"/><circle cx="562.4" cy="239.8" r="2.1"/><circle cx="292.3" cy="383.1" r="2.1"/><circle cx="189.9" cy="525.2" r="2.1"/><circle cx="233.6" cy="476.5" r="2.1"/><circle cx="199.9" cy="499.5" r="2.1"/><circle cx="198.2" cy="512.9" r="2.1"/><circle cx="198.6" cy="585.8" r="2.1"/><circle cx="402.5" cy="335.8" r="2.1"/><circle cx="220.5" cy="447.3" r="2.1"/><circle cx="279.1" cy="417.1" r="2.1"/><circle cx="291.1" cy="383.5" r="2.1"/><circle cx="260.0" cy="333.0" r="2.1"/><circle cx="289.9" cy="394.8" r="2.1"/><circle cx="322.5" cy="354.5" r="2.1"/><circle cx="300.7" cy="459.5" r="2.1"/><circle cx="288.1" cy="387.2" r="2.1"/><circle cx="595.7" cy="124.3" r="2.1"/><circle cx="261.6" cy="388.4" r="2.1"/><circle cx="320.3" cy="339.4" r="2.1"/><circle cx="288.4" cy="423.2" r="2.1"/><circle cx="195.3" cy="490.0" r="2.1"/><circle cx="188.1" cy="516.4" r="2.1"/><circle cx="389.3" cy="373.0" r="2.1"/><circle cx="262.2" cy="435.9" r="2.1"/><circle cx="522.7" cy="231.0" r="2.1"/><circle cx="283.3" cy="413.1" r="2.1"/><circle cx="375.4" cy="313.6" r="2.1"/><circle cx="251.3" cy="458.7" r="2.1"/><circle cx="204.5" cy="476.0" r="2.1"/><circle cx="182.8" cy="538.9" r="2.1"/><circle cx="264.4" cy="406.7" r="2.1"/><circle cx="346.0" cy="347.2" r="2.1"/><circle cx="471.3" cy="256.3" r="2.1"/><circle cx="289.4" cy="464.1" r="2.1"/><circle cx="302.9" cy="367.9" r="2.1"/><circle cx="203.1" cy="484.7" r="2.1"/><circle cx="241.7" cy="394.2" r="2.1"/><circle cx="318.5" cy="368.4" r="2.1"/><circle cx="205.0" cy="545.0" r="2.1"/><circle cx="189.9" cy="565.9" r="2.1"/><circle cx="216.8" cy="475.7" r="2.1"/><circle cx="471.3" cy="150.7" r="2.1"/><circle cx="448.5" cy="199.4" r="2.1"/><circle cx="400.3" cy="321.3" r="2.1"/><circle cx="326.6" cy="443.2" r="2.1"/><circle cx="344.5" cy="279.4" r="2.1"/><circle cx="374.4" cy="307.6" r="2.1"/><circle cx="174.0" cy="539.8" r="2.1"/><circle cx="276.4" cy="492.2" r="2.1"/><circle cx="386.8" cy="315.2" r="2.1"/><circle cx="305.6" cy="406.6" r="2.1"/><circle cx="181.7" cy="509.6" r="2.1"/><circle cx="215.7" cy="507.5" r="2.1"/><circle cx="207.4" cy="480.5" r="2.1"/><circle cx="383.4" cy="289.3" r="2.1"/><circle cx="284.0" cy="366.5" r="2.1"/><circle cx="287.7" cy="429.5" r="2.1"/><circle cx="225.1" cy="463.1" r="2.1"/><circle cx="346.2" cy="301.0" r="2.1"/><circle cx="262.5" cy="427.8" r="2.1"/><circle cx="221.1" cy="539.0" r="2.1"/><circle cx="196.5" cy="536.7" r="2.1"/><circle cx="326.7" cy="394.7" r="2.1"/><circle cx="247.9" cy="410.8" r="2.1"/><circle cx="392.3" cy="368.3" r="2.1"/><circle cx="335.0" cy="388.4" r="2.1"/><circle cx="370.3" cy="309.2" r="2.1"/><circle cx="303.8" cy="452.2" r="2.1"/><circle cx="307.3" cy="356.8" r="2.1"/><circle cx="383.8" cy="322.1" r="2.1"/><circle cx="185.9" cy="509.5" r="2.1"/><circle cx="278.1" cy="424.3" r="2.1"/><circle cx="326.9" cy="405.0" r="2.1"/><circle cx="326.5" cy="348.7" r="2.1"/><circle cx="329.2" cy="371.2" r="2.1"/><circle cx="379.6" cy="341.8" r="2.1"/><circle cx="273.8" cy="503.9" r="2.1"/><circle cx="113.4" cy="577.6" r="2.1"/><circle cx="349.0" cy="336.9" r="2.1"/><circle cx="249.6" cy="448.6" r="2.1"/><circle cx="281.5" cy="385.6" r="2.1"/><circle cx="332.9" cy="355.8" r="2.1"/><circle cx="409.3" cy="351.5" r="2.1"/><circle cx="239.4" cy="464.5" r="2.1"/><circle cx="199.4" cy="543.8" r="2.1"/><circle cx="197.4" cy="446.1" r="2.1"/><circle cx="509.2" cy="282.1" r="2.1"/><circle cx="183.8" cy="530.7" r="2.1"/><circle cx="202.7" cy="475.9" r="2.1"/><circle cx="280.9" cy="433.2" r="2.1"/><circle cx="203.2" cy="446.8" r="2.1"/><circle cx="209.2" cy="462.3" r="2.1"/><circle cx="397.8" cy="296.4" r="2.1"/><circle cx="175.3" cy="578.8" r="2.1"/><circle cx="254.7" cy="512.5" r="2.1"/><circle cx="280.1" cy="450.7" r="2.1"/><circle cx="357.9" cy="332.8" r="2.1"/><circle cx="322.7" cy="382.0" r="2.1"/><circle cx="260.4" cy="407.2" r="2.1"/><circle cx="184.7" cy="508.7" r="2.1"/><circle cx="203.9" cy="469.5" r="2.1"/><circle cx="192.3" cy="498.6" r="2.1"/><circle cx="219.2" cy="480.0" r="2.1"/><circle cx="265.8" cy="508.4" r="2.1"/><circle cx="389.7" cy="310.2" r="2.1"/><circle cx="303.1" cy="470.8" r="2.1"/><circle cx="198.7" cy="542.0" r="2.1"/><circle cx="318.1" cy="361.0" r="2.1"/><circle cx="151.9" cy="565.9" r="2.1"/><circle cx="411.0" cy="314.8" r="2.1"/><circle cx="261.6" cy="432.5" r="2.1"/><circle cx="233.4" cy="533.3" r="2.1"/><circle cx="212.0" cy="504.7" r="2.1"/><circle cx="257.3" cy="507.9" r="2.1"/><circle cx="326.1" cy="336.0" r="2.1"/><circle cx="217.9" cy="476.8" r="2.1"/><circle cx="335.0" cy="330.4" r="2.1"/><circle cx="316.4" cy="352.1" r="2.1"/><circle cx="338.5" cy="330.7" r="2.1"/><circle cx="419.2" cy="318.7" r="2.1"/><circle cx="399.9" cy="356.1" r="2.1"/><circle cx="296.6" cy="422.2" r="2.1"/><circle cx="204.0" cy="528.1" r="2.1"/><circle cx="247.5" cy="450.2" r="2.1"/><circle cx="195.4" cy="448.2" r="2.1"/><circle cx="217.8" cy="484.3" r="2.1"/><circle cx="297.9" cy="469.5" r="2.1"/><circle cx="336.2" cy="371.7" r="2.1"/><circle cx="349.8" cy="358.8" r="2.1"/><circle cx="374.2" cy="316.5" r="2.1"/><circle cx="163.6" cy="479.7" r="2.1"/><circle cx="396.8" cy="311.3" r="2.1"/><circle cx="222.9" cy="475.9" r="2.1"/><circle cx="366.5" cy="384.1" r="2.1"/><circle cx="295.6" cy="405.9" r="2.1"/><circle cx="333.0" cy="348.5" r="2.1"/><circle cx="218.8" cy="486.7" r="2.1"/><circle cx="283.2" cy="376.3" r="2.1"/><circle cx="217.4" cy="488.3" r="2.1"/><circle cx="186.6" cy="477.9" r="2.1"/><circle cx="225.5" cy="570.6" r="2.1"/><circle cx="339.2" cy="373.8" r="2.1"/><circle cx="187.6" cy="486.5" r="2.1"/><circle cx="459.0" cy="229.9" r="2.1"/><circle cx="244.6" cy="426.4" r="2.1"/><circle cx="381.7" cy="265.5" r="2.1"/><circle cx="338.4" cy="396.4" r="2.1"/><circle cx="277.4" cy="472.8" r="2.1"/><circle cx="422.2" cy="332.2" r="2.1"/><circle cx="384.3" cy="261.5" r="2.1"/><circle cx="209.7" cy="447.1" r="2.1"/><circle cx="368.5" cy="385.9" r="2.1"/><circle cx="318.9" cy="349.1" r="2.1"/><circle cx="346.9" cy="308.2" r="2.1"/><circle cx="273.5" cy="477.0" r="2.1"/><circle cx="264.4" cy="449.1" r="2.1"/><circle cx="219.6" cy="482.7" r="2.1"/><circle cx="372.5" cy="312.5" r="2.1"/><circle cx="209.6" cy="485.5" r="2.1"/><circle cx="356.3" cy="318.6" r="2.1"/><circle cx="352.8" cy="432.8" r="2.1"/><circle cx="367.6" cy="350.7" r="2.1"/><circle cx="247.2" cy="423.1" r="2.1"/><circle cx="397.5" cy="283.2" r="2.1"/><circle cx="257.4" cy="436.0" r="2.1"/><circle cx="302.5" cy="377.2" r="2.1"/><circle cx="292.0" cy="308.4" r="2.1"/><circle cx="213.3" cy="455.2" r="2.1"/><circle cx="339.0" cy="347.4" r="2.1"/><circle cx="191.1" cy="500.6" r="2.1"/><circle cx="247.2" cy="449.7" r="2.1"/><circle cx="312.8" cy="407.5" r="2.1"/><circle cx="307.9" cy="449.4" r="2.1"/><circle cx="400.0" cy="364.4" r="2.1"/><circle cx="239.1" cy="515.3" r="2.1"/><circle cx="423.5" cy="332.6" r="2.1"/><circle cx="326.9" cy="379.6" r="2.1"/><circle cx="116.9" cy="578.8" r="2.1"/><circle cx="241.6" cy="472.7" r="2.1"/><circle cx="296.9" cy="447.3" r="2.1"/><circle cx="289.7" cy="492.3" r="2.1"/><circle cx="238.4" cy="496.3" r="2.1"/><circle cx="384.6" cy="264.3" r="2.1"/><circle cx="201.6" cy="505.6" r="2.1"/><circle cx="299.2" cy="399.6" r="2.1"/><circle cx="407.8" cy="311.2" r="2.1"/><circle cx="205.4" cy="497.1" r="2.1"/><circle cx="556.0" cy="129.6" r="2.1"/><circle cx="492.3" cy="297.3" r="2.1"/><circle cx="239.5" cy="443.9" r="2.1"/><circle cx="337.7" cy="444.6" r="2.1"/><circle cx="459.0" cy="202.3" r="2.1"/><circle cx="276.3" cy="472.5" r="2.1"/><circle cx="283.6" cy="443.0" r="2.1"/><circle cx="375.2" cy="334.3" r="2.1"/><circle cx="289.0" cy="467.3" r="2.1"/><circle cx="530.3" cy="149.5" r="2.1"/><circle cx="287.4" cy="403.8" r="2.1"/><circle cx="230.3" cy="492.0" r="2.1"/><circle cx="196.7" cy="460.2" r="2.1"/><circle cx="308.2" cy="362.9" r="2.1"/><circle cx="333.1" cy="358.0" r="2.1"/><circle cx="286.3" cy="466.0" r="2.1"/><circle cx="184.0" cy="462.8" r="2.1"/><circle cx="343.0" cy="421.9" r="2.1"/><circle cx="210.3" cy="577.0" r="2.1"/><circle cx="276.9" cy="546.5" r="2.1"/><circle cx="537.3" cy="264.5" r="2.1"/><circle cx="217.8" cy="477.3" r="2.1"/><circle cx="535.5" cy="281.5" r="2.1"/><circle cx="212.7" cy="469.3" r="2.1"/><circle cx="359.9" cy="343.0" r="2.1"/><circle cx="200.8" cy="479.6" r="2.1"/><circle cx="292.9" cy="401.7" r="2.1"/><circle cx="278.7" cy="426.4" r="2.1"/><circle cx="320.1" cy="439.8" r="2.1"/><circle cx="226.2" cy="472.2" r="2.1"/><circle cx="263.5" cy="438.9" r="2.1"/><circle cx="215.6" cy="479.9" r="2.1"/><circle cx="439.8" cy="303.2" r="2.1"/><circle cx="384.4" cy="373.5" r="2.1"/><circle cx="207.1" cy="483.6" r="2.1"/><circle cx="376.7" cy="344.8" r="2.1"/><circle cx="223.9" cy="460.7" r="2.1"/><circle cx="186.1" cy="503.4" r="2.1"/><circle cx="544.9" cy="139.0" r="2.1"/><circle cx="412.2" cy="291.3" r="2.1"/><circle cx="199.7" cy="459.7" r="2.1"/><circle cx="200.5" cy="514.2" r="2.1"/><circle cx="271.4" cy="383.6" r="2.1"/><circle cx="211.6" cy="458.7" r="2.1"/><circle cx="583.4" cy="131.4" r="2.1"/><circle cx="285.1" cy="363.0" r="2.1"/><circle cx="202.9" cy="467.1" r="2.1"/><circle cx="320.6" cy="411.1" r="2.1"/><circle cx="337.2" cy="380.6" r="2.1"/><circle cx="224.0" cy="455.3" r="2.1"/><circle cx="230.0" cy="483.8" r="2.1"/><circle cx="325.3" cy="473.2" r="2.1"/><circle cx="279.9" cy="457.2" r="2.1"/><circle cx="351.2" cy="340.1" r="2.1"/><circle cx="585.2" cy="120.8" r="2.1"/><circle cx="194.8" cy="456.8" r="2.1"/><circle cx="220.4" cy="470.8" r="2.1"/><circle cx="294.0" cy="455.2" r="2.1"/><circle cx="303.3" cy="392.1" r="2.1"/><circle cx="191.4" cy="509.7" r="2.1"/><circle cx="433.5" cy="307.0" r="2.1"/><circle cx="280.1" cy="357.1" r="2.1"/><circle cx="408.3" cy="310.4" r="2.1"/><circle cx="192.5" cy="513.2" r="2.1"/><circle cx="344.6" cy="358.2" r="2.1"/><circle cx="212.9" cy="520.5" r="2.1"/><circle cx="222.3" cy="472.9" r="2.1"/><circle cx="176.2" cy="472.1" r="2.1"/><circle cx="249.2" cy="482.4" r="2.1"/><circle cx="265.1" cy="410.8" r="2.1"/><circle cx="238.6" cy="399.2" r="2.1"/><circle cx="303.9" cy="366.9" r="2.1"/><circle cx="343.1" cy="293.8" r="2.1"/><circle cx="330.2" cy="352.3" r="2.1"/><circle cx="320.9" cy="357.5" r="2.1"/><circle cx="410.3" cy="303.1" r="2.1"/><circle cx="245.4" cy="477.0" r="2.1"/><circle cx="295.0" cy="388.1" r="2.1"/><circle cx="347.3" cy="302.1" r="2.1"/><circle cx="284.1" cy="368.6" r="2.1"/><circle cx="338.4" cy="352.2" r="2.1"/><circle cx="379.6" cy="221.1" r="2.1"/><circle cx="313.1" cy="460.7" r="2.1"/><circle cx="297.2" cy="409.1" r="2.1"/><circle cx="259.0" cy="495.6" r="2.1"/><circle cx="376.7" cy="444.5" r="2.1"/><circle cx="390.1" cy="339.5" r="2.1"/><circle cx="295.9" cy="456.3" r="2.1"/><circle cx="552.5" cy="145.4" r="2.1"/><circle cx="270.5" cy="433.6" r="2.1"/><circle cx="357.0" cy="374.2" r="2.1"/><circle cx="240.1" cy="451.2" r="2.1"/><circle cx="429.0" cy="305.8" r="2.1"/><circle cx="245.7" cy="502.0" r="2.1"/><circle cx="440.9" cy="259.2" r="2.1"/><circle cx="181.5" cy="474.6" r="2.1"/><circle cx="271.3" cy="425.6" r="2.1"/><circle cx="363.3" cy="356.3" r="2.1"/><circle cx="293.7" cy="438.4" r="2.1"/><circle cx="359.2" cy="266.2" r="2.1"/><circle cx="277.7" cy="454.0" r="2.1"/><circle cx="245.9" cy="523.7" r="2.1"/><circle cx="320.9" cy="373.5" r="2.1"/><circle cx="206.7" cy="465.0" r="2.1"/><circle cx="299.6" cy="383.2" r="2.1"/><circle cx="280.2" cy="356.9" r="2.1"/><circle cx="256.7" cy="442.1" r="2.1"/><circle cx="274.9" cy="423.9" r="2.1"/><circle cx="311.4" cy="398.6" r="2.1"/><circle cx="324.4" cy="338.1" r="2.1"/><circle cx="351.3" cy="356.1" r="2.1"/><circle cx="359.7" cy="344.2" r="2.1"/><circle cx="285.1" cy="444.2" r="2.1"/><circle cx="208.0" cy="553.0" r="2.1"/><circle cx="386.8" cy="287.6" r="2.1"/><circle cx="371.9" cy="373.1" r="2.1"/><circle cx="283.8" cy="327.4" r="2.1"/><circle cx="400.1" cy="258.0" r="2.1"/><circle cx="244.2" cy="380.6" r="2.1"/><circle cx="189.8" cy="503.8" r="2.1"/><circle cx="199.1" cy="539.1" r="2.1"/><circle cx="212.0" cy="587.6" r="2.1"/><circle cx="286.9" cy="424.3" r="2.1"/><circle cx="372.4" cy="352.4" r="2.1"/><circle cx="313.6" cy="318.4" r="2.1"/><circle cx="390.1" cy="354.8" r="2.1"/><circle cx="196.9" cy="461.3" r="2.1"/><circle cx="375.5" cy="469.7" r="2.1"/><circle cx="259.6" cy="505.4" r="2.1"/><circle cx="447.9" cy="187.7" r="2.1"/><circle cx="261.7" cy="370.6" r="2.1"/><circle cx="196.6" cy="440.7" r="2.1"/><circle cx="286.0" cy="486.2" r="2.1"/><circle cx="221.1" cy="449.6" r="2.1"/><circle cx="207.4" cy="459.6" r="2.1"/><circle cx="196.3" cy="498.6" r="2.1"/><circle cx="194.1" cy="491.8" r="2.1"/><circle cx="198.8" cy="500.0" r="2.1"/><circle cx="352.4" cy="320.0" r="2.1"/><circle cx="319.8" cy="394.8" r="2.1"/><circle cx="312.9" cy="407.4" r="2.1"/><circle cx="311.4" cy="353.5" r="2.1"/><circle cx="318.9" cy="336.1" r="2.1"/><circle cx="198.7" cy="499.5" r="2.1"/><circle cx="570.6" cy="117.9" r="2.1"/><circle cx="227.7" cy="462.0" r="2.1"/><circle cx="550.1" cy="125.5" r="2.1"/><circle cx="406.6" cy="299.8" r="2.1"/><circle cx="266.5" cy="469.5" r="2.1"/><circle cx="234.8" cy="544.8" r="2.1"/><circle cx="233.3" cy="470.7" r="2.1"/><circle cx="307.0" cy="347.2" r="2.1"/><circle cx="372.2" cy="300.5" r="2.1"/><circle cx="354.4" cy="326.9" r="2.1"/><circle cx="240.6" cy="505.5" r="2.1"/><circle cx="201.3" cy="504.9" r="2.1"/><circle cx="220.5" cy="506.5" r="2.1"/><circle cx="310.7" cy="459.0" r="2.1"/><circle cx="309.1" cy="385.8" r="2.1"/><circle cx="316.9" cy="373.5" r="2.1"/><circle cx="207.0" cy="527.9" r="2.1"/><circle cx="203.3" cy="490.6" r="2.1"/><circle cx="237.5" cy="463.4" r="2.1"/><circle cx="376.7" cy="463.8" r="2.1"/><circle cx="296.8" cy="467.8" r="2.1"/><circle cx="201.2" cy="535.9" r="2.1"/><circle cx="349.2" cy="357.5" r="2.1"/><circle cx="291.0" cy="381.6" r="2.1"/><circle cx="581.7" cy="128.4" r="2.1"/><circle cx="298.8" cy="402.2" r="2.1"/><circle cx="385.8" cy="312.7" r="2.1"/><circle cx="268.5" cy="435.9" r="2.1"/><circle cx="271.7" cy="436.9" r="2.1"/><circle cx="296.7" cy="459.4" r="2.1"/><circle cx="316.0" cy="475.0" r="2.1"/><circle cx="300.0" cy="439.5" r="2.1"/><circle cx="238.4" cy="482.2" r="2.1"/><circle cx="268.6" cy="406.1" r="2.1"/><circle cx="219.9" cy="484.7" r="2.1"/><circle cx="280.1" cy="410.0" r="2.1"/><circle cx="561.2" cy="166.5" r="2.1"/><circle cx="218.9" cy="484.2" r="2.1"/><circle cx="305.9" cy="368.0" r="2.1"/><circle cx="313.4" cy="385.2" r="2.1"/><circle cx="328.8" cy="383.3" r="2.1"/><circle cx="299.4" cy="356.8" r="2.1"/><circle cx="383.5" cy="329.8" r="2.1"/><circle cx="239.5" cy="545.4" r="2.1"/><circle cx="450.9" cy="187.7" r="2.1"/><circle cx="286.9" cy="422.5" r="2.1"/><circle cx="288.5" cy="400.6" r="2.1"/><circle cx="397.2" cy="332.3" r="2.1"/><circle cx="200.0" cy="466.8" r="2.1"/><circle cx="284.7" cy="421.6" r="2.1"/><circle cx="406.9" cy="313.4" r="2.1"/><circle cx="302.4" cy="400.6" r="2.1"/><circle cx="311.9" cy="472.3" r="2.1"/><circle cx="379.9" cy="339.8" r="2.1"/><circle cx="373.2" cy="345.8" r="2.1"/><circle cx="291.8" cy="451.6" r="2.1"/><circle cx="457.9" cy="219.3" r="2.1"/><circle cx="350.4" cy="328.4" r="2.1"/><circle cx="287.6" cy="416.5" r="2.1"/><circle cx="286.4" cy="453.1" r="2.1"/><circle cx="324.4" cy="364.1" r="2.1"/><circle cx="387.6" cy="370.5" r="2.1"/><circle cx="345.1" cy="364.3" r="2.1"/><circle cx="214.0" cy="497.4" r="2.1"/><circle cx="167.1" cy="487.9" r="2.1"/><circle cx="195.5" cy="527.0" r="2.1"/><circle cx="369.5" cy="350.3" r="2.1"/><circle cx="338.7" cy="302.9" r="2.1"/><circle cx="201.5" cy="496.9" r="2.1"/><circle cx="202.6" cy="470.9" r="2.1"/><circle cx="158.3" cy="551.2" r="2.1"/><circle cx="304.2" cy="421.1" r="2.1"/><circle cx="325.9" cy="446.3" r="2.1"/><circle cx="331.2" cy="356.8" r="2.1"/><circle cx="299.6" cy="446.8" r="2.1"/><circle cx="217.9" cy="475.5" r="2.1"/><circle cx="281.1" cy="401.6" r="2.1"/><circle cx="349.1" cy="334.4" r="2.1"/><circle cx="334.3" cy="387.8" r="2.1"/><circle cx="242.3" cy="428.2" r="2.1"/><circle cx="244.2" cy="374.1" r="2.1"/><circle cx="294.1" cy="457.8" r="2.1"/><circle cx="282.8" cy="412.7" r="2.1"/><circle cx="209.6" cy="506.2" r="2.1"/><circle cx="325.6" cy="374.2" r="2.1"/><circle cx="305.2" cy="413.6" r="2.1"/><circle cx="183.1" cy="481.9" r="2.1"/><circle cx="337.8" cy="335.5" r="2.1"/><circle cx="327.2" cy="365.7" r="2.1"/><circle cx="303.3" cy="441.9" r="2.1"/><circle cx="240.7" cy="571.2" r="2.1"/><circle cx="322.5" cy="346.7" r="2.1"/><circle cx="458.4" cy="173.0" r="2.1"/><circle cx="226.4" cy="500.4" r="2.1"/><circle cx="435.1" cy="307.9" r="2.1"/><circle cx="189.3" cy="519.5" r="2.1"/><circle cx="141.4" cy="543.0" r="2.1"/><circle cx="527.3" cy="190.0" r="2.1"/><circle cx="356.0" cy="311.3" r="2.1"/><circle cx="348.1" cy="372.4" r="2.1"/><circle cx="137.3" cy="566.5" r="2.1"/><circle cx="219.6" cy="361.2" r="2.1"/><circle cx="318.1" cy="372.1" r="2.1"/><circle cx="296.3" cy="421.3" r="2.1"/><circle cx="424.6" cy="311.8" r="2.1"/><circle cx="231.7" cy="517.1" r="2.1"/><circle cx="288.4" cy="419.0" r="2.1"/><circle cx="419.3" cy="339.7" r="2.1"/><circle cx="439.8" cy="355.4" r="2.1"/><circle cx="221.0" cy="466.1" r="2.1"/><circle cx="379.2" cy="348.7" r="2.1"/><circle cx="309.8" cy="373.9" r="2.1"/><circle cx="190.3" cy="545.7" r="2.1"/><circle cx="297.9" cy="412.0" r="2.1"/><circle cx="392.8" cy="389.8" r="2.1"/><circle cx="267.2" cy="403.2" r="2.1"/><circle cx="343.6" cy="313.6" r="2.1"/><circle cx="216.3" cy="486.7" r="2.1"/><circle cx="205.4" cy="450.1" r="2.1"/><circle cx="424.4" cy="321.7" r="2.1"/><circle cx="351.4" cy="370.6" r="2.1"/><circle cx="181.1" cy="492.6" r="2.1"/><circle cx="313.4" cy="404.1" r="2.1"/><circle cx="295.3" cy="420.6" r="2.1"/><circle cx="424.1" cy="283.6" r="2.1"/><circle cx="391.2" cy="314.5" r="2.1"/><circle cx="394.8" cy="307.3" r="2.1"/><circle cx="203.4" cy="452.1" r="2.1"/><circle cx="326.7" cy="343.2" r="2.1"/><circle cx="376.0" cy="348.8" r="2.1"/><circle cx="242.7" cy="457.0" r="2.1"/><circle cx="308.9" cy="377.9" r="2.1"/><circle cx="288.9" cy="361.3" r="2.1"/><circle cx="216.7" cy="560.0" r="2.1"/><circle cx="403.4" cy="301.4" r="2.1"/><circle cx="292.7" cy="382.7" r="2.1"/><circle cx="320.1" cy="376.4" r="2.1"/><circle cx="196.2" cy="498.6" r="2.1"/><circle cx="232.5" cy="547.1" r="2.1"/><circle cx="219.7" cy="446.1" r="2.1"/><circle cx="493.5" cy="158.3" r="2.1"/><circle cx="289.7" cy="463.9" r="2.1"/><circle cx="228.4" cy="434.1" r="2.1"/><circle cx="192.9" cy="472.7" r="2.1"/><circle cx="567.6" cy="152.5" r="2.1"/><circle cx="192.8" cy="468.5" r="2.1"/><circle cx="276.9" cy="473.9" r="2.1"/><circle cx="240.6" cy="452.1" r="2.1"/><circle cx="396.4" cy="307.7" r="2.1"/><circle cx="407.1" cy="258.0" r="2.1"/><circle cx="291.6" cy="385.3" r="2.1"/><circle cx="112.2" cy="603.4" r="2.1"/><circle cx="174.1" cy="546.5" r="2.1"/><circle cx="335.5" cy="299.7" r="2.1"/><circle cx="351.2" cy="335.4" r="2.1"/><circle cx="326.8" cy="335.2" r="2.1"/><circle cx="223.7" cy="565.3" r="2.1"/><circle cx="430.5" cy="358.1" r="2.1"/><circle cx="299.7" cy="401.8" r="2.1"/><circle cx="233.8" cy="470.8" r="2.1"/><circle cx="281.8" cy="477.4" r="2.1"/><circle cx="193.4" cy="561.2" r="2.1"/><circle cx="309.1" cy="365.4" r="2.1"/><circle cx="286.5" cy="376.8" r="2.1"/><circle cx="121.0" cy="582.9" r="2.1"/><circle cx="332.0" cy="329.7" r="2.1"/><circle cx="591.0" cy="143.1" r="2.1"/><circle cx="526.2" cy="133.1" r="2.1"/><circle cx="394.6" cy="310.7" r="2.1"/><circle cx="268.0" cy="382.3" r="2.1"/><circle cx="295.0" cy="385.6" r="2.1"/><circle cx="327.1" cy="436.7" r="2.1"/><circle cx="300.6" cy="406.8" r="2.1"/><circle cx="114.5" cy="562.4" r="2.1"/><circle cx="220.9" cy="526.2" r="2.1"/><circle cx="418.7" cy="258.0" r="2.1"/><circle cx="207.3" cy="509.3" r="2.1"/><circle cx="237.9" cy="526.5" r="2.1"/><circle cx="283.5" cy="411.6" r="2.1"/><circle cx="163.0" cy="520.1" r="2.1"/><circle cx="299.0" cy="421.3" r="2.1"/><circle cx="278.7" cy="450.2" r="2.1"/><circle cx="311.5" cy="350.8" r="2.1"/><circle cx="209.6" cy="456.0" r="2.1"/><circle cx="271.5" cy="408.5" r="2.1"/><circle cx="492.3" cy="184.7" r="2.1"/><circle cx="428.4" cy="279.8" r="2.1"/><circle cx="206.3" cy="469.1" r="2.1"/><circle cx="336.6" cy="387.9" r="2.1"/><circle cx="188.4" cy="472.2" r="2.1"/><circle cx="325.2" cy="365.0" r="2.1"/><circle cx="249.3" cy="413.9" r="2.1"/><circle cx="112.2" cy="576.4" r="2.1"/><circle cx="317.3" cy="379.2" r="2.1"/><circle cx="248.7" cy="438.5" r="2.1"/><circle cx="217.8" cy="520.4" r="2.1"/><circle cx="197.5" cy="502.0" r="2.1"/><circle cx="343.2" cy="355.9" r="2.1"/><circle cx="189.3" cy="507.0" r="2.1"/><circle cx="560.0" cy="164.2" r="2.1"/><circle cx="545.4" cy="161.8" r="2.1"/><circle cx="202.9" cy="519.1" r="2.1"/><circle cx="386.3" cy="342.8" r="2.1"/><circle cx="341.2" cy="367.9" r="2.1"/><circle cx="226.9" cy="473.3" r="2.1"/><circle cx="321.2" cy="356.7" r="2.1"/><circle cx="288.4" cy="379.0" r="2.1"/><circle cx="310.8" cy="399.3" r="2.1"/><circle cx="418.2" cy="353.6" r="2.1"/><circle cx="219.4" cy="490.5" r="2.1"/><circle cx="307.9" cy="388.0" r="2.1"/><circle cx="386.3" cy="327.6" r="2.1"/><circle cx="371.6" cy="380.7" r="2.1"/><circle cx="329.9" cy="342.2" r="2.1"/><circle cx="279.5" cy="421.9" r="2.1"/><circle cx="279.8" cy="452.8" r="2.1"/><circle cx="319.0" cy="331.0" r="2.1"/><circle cx="248.6" cy="504.2" r="2.1"/><circle cx="320.6" cy="331.8" r="2.1"/><circle cx="400.3" cy="281.6" r="2.1"/><circle cx="192.9" cy="500.3" r="2.1"/><circle cx="189.3" cy="455.6" r="2.1"/><circle cx="261.8" cy="475.7" r="2.1"/><circle cx="362.7" cy="237.5" r="2.1"/><circle cx="222.2" cy="458.2" r="2.1"/><circle cx="188.1" cy="453.9" r="2.1"/><circle cx="457.9" cy="162.4" r="2.1"/><circle cx="355.6" cy="356.1" r="2.1"/><circle cx="262.5" cy="378.3" r="2.1"/><circle cx="360.4" cy="419.3" r="2.1"/><circle cx="407.9" cy="363.5" r="2.1"/><circle cx="220.1" cy="480.9" r="2.1"/><circle cx="333.5" cy="333.6" r="2.1"/><circle cx="211.7" cy="418.4" r="2.1"/><circle cx="249.2" cy="426.4" r="2.1"/><circle cx="213.4" cy="430.8" r="2.1"/><circle cx="281.2" cy="445.2" r="2.1"/><circle cx="262.9" cy="427.8" r="2.1"/><circle cx="248.3" cy="412.4" r="2.1"/><circle cx="415.8" cy="412.8" r="2.1"/><circle cx="403.0" cy="335.7" r="2.1"/><circle cx="557.7" cy="118.5" r="2.1"/><circle cx="307.0" cy="354.5" r="2.1"/><circle cx="182.4" cy="509.9" r="2.1"/><circle cx="341.1" cy="344.4" r="2.1"/><circle cx="129.1" cy="560.6" r="2.1"/><circle cx="275.1" cy="456.8" r="2.1"/><circle cx="322.5" cy="408.8" r="2.1"/><circle cx="206.3" cy="509.0" r="2.1"/><circle cx="302.1" cy="394.8" r="2.1"/><circle cx="337.7" cy="331.7" r="2.1"/><circle cx="360.9" cy="259.8" r="2.1"/><circle cx="477.7" cy="171.2" r="2.1"/><circle cx="556.0" cy="238.7" r="2.1"/><circle cx="315.4" cy="444.3" r="2.1"/><circle cx="243.9" cy="477.6" r="2.1"/><circle cx="245.3" cy="558.8" r="2.1"/><circle cx="288.1" cy="365.0" r="2.1"/><circle cx="314.4" cy="397.1" r="2.1"/><circle cx="272.8" cy="408.1" r="2.1"/><circle cx="311.9" cy="363.0" r="2.1"/><circle cx="347.8" cy="360.6" r="2.1"/><circle cx="207.0" cy="521.3" r="2.1"/><circle cx="292.4" cy="428.9" r="2.1"/><circle cx="205.4" cy="509.2" r="2.1"/><circle cx="276.5" cy="373.7" r="2.1"/><circle cx="282.8" cy="382.3" r="2.1"/><circle cx="331.6" cy="369.8" r="2.1"/><circle cx="317.1" cy="347.2" r="2.1"/><circle cx="299.8" cy="424.9" r="2.1"/><circle cx="210.8" cy="508.4" r="2.1"/><circle cx="375.7" cy="358.9" r="2.1"/><circle cx="220.5" cy="527.8" r="2.1"/><circle cx="292.4" cy="357.4" r="2.1"/><circle cx="324.4" cy="325.9" r="2.1"/><circle cx="334.8" cy="374.8" r="2.1"/><circle cx="297.1" cy="456.1" r="2.1"/><circle cx="183.3" cy="498.3" r="2.1"/><circle cx="563.5" cy="268.0" r="2.1"/><circle cx="124.5" cy="552.4" r="2.1"/><circle cx="184.2" cy="542.8" r="2.1"/><circle cx="317.2" cy="421.9" r="2.1"/><circle cx="350.4" cy="363.2" r="2.1"/><circle cx="200.5" cy="477.6" r="2.1"/><circle cx="202.3" cy="452.2" r="2.1"/><circle cx="253.7" cy="489.4" r="2.1"/><circle cx="302.8" cy="377.9" r="2.1"/><circle cx="249.9" cy="491.6" r="2.1"/><circle cx="320.5" cy="371.1" r="2.1"/><circle cx="211.5" cy="569.4" r="2.1"/><circle cx="247.8" cy="446.6" r="2.1"/><circle cx="264.5" cy="460.7" r="2.1"/><circle cx="202.5" cy="487.7" r="2.1"/><circle cx="203.5" cy="422.9" r="2.1"/><circle cx="266.5" cy="406.4" r="2.1"/><circle cx="320.6" cy="381.0" r="2.1"/><circle cx="160.1" cy="500.8" r="2.1"/><circle cx="511.6" cy="218.7" r="2.1"/><circle cx="339.3" cy="328.1" r="2.1"/><circle cx="348.0" cy="353.7" r="2.1"/><circle cx="413.8" cy="328.2" r="2.1"/><circle cx="312.6" cy="473.7" r="2.1"/><circle cx="344.4" cy="342.7" r="2.1"/><circle cx="379.4" cy="330.0" r="2.1"/><circle cx="188.1" cy="588.2" r="2.1"/><circle cx="447.9" cy="139.0" r="2.1"/><circle cx="297.7" cy="384.9" r="2.1"/><circle cx="243.1" cy="392.2" r="2.1"/><circle cx="290.4" cy="433.8" r="2.1"/><circle cx="253.1" cy="434.9" r="2.1"/><circle cx="291.0" cy="365.6" r="2.1"/><circle cx="299.2" cy="483.1" r="2.1"/><circle cx="302.5" cy="389.0" r="2.1"/><circle cx="355.7" cy="442.1" r="2.1"/><circle cx="527.3" cy="286.8" r="2.1"/><circle cx="205.0" cy="515.4" r="2.1"/><circle cx="223.7" cy="470.6" r="2.1"/><circle cx="483.0" cy="222.8" r="2.1"/><circle cx="288.8" cy="443.1" r="2.1"/><circle cx="201.2" cy="487.7" r="2.1"/><circle cx="402.4" cy="265.1" r="2.1"/><circle cx="233.4" cy="488.2" r="2.1"/><circle cx="341.6" cy="347.4" r="2.1"/><circle cx="350.8" cy="340.3" r="2.1"/><circle cx="346.1" cy="331.3" r="2.1"/><circle cx="205.9" cy="482.0" r="2.1"/><circle cx="387.2" cy="288.7" r="2.1"/><circle cx="324.3" cy="376.0" r="2.1"/><circle cx="227.5" cy="482.8" r="2.1"/><circle cx="195.8" cy="544.7" r="2.1"/><circle cx="297.9" cy="419.2" r="2.1"/><circle cx="365.8" cy="293.1" r="2.1"/><circle cx="210.6" cy="474.4" r="2.1"/><circle cx="294.1" cy="428.7" r="2.1"/><circle cx="326.2" cy="381.0" r="2.1"/><circle cx="293.8" cy="324.9" r="2.1"/><circle cx="290.6" cy="469.6" r="2.1"/><circle cx="189.6" cy="503.5" r="2.1"/><circle cx="242.5" cy="441.3" r="2.1"/><circle cx="219.6" cy="567.1" r="2.1"/><circle cx="243.7" cy="495.4" r="2.1"/><circle cx="242.2" cy="497.8" r="2.1"/><circle cx="348.1" cy="328.2" r="2.1"/><circle cx="287.5" cy="386.0" r="2.1"/><circle cx="329.8" cy="353.2" r="2.1"/><circle cx="307.2" cy="476.5" r="2.1"/><circle cx="415.8" cy="236.9" r="2.1"/><circle cx="339.7" cy="355.5" r="2.1"/><circle cx="356.9" cy="341.2" r="2.1"/><circle cx="290.3" cy="388.1" r="2.1"/><circle cx="303.3" cy="393.7" r="2.1"/><circle cx="323.5" cy="354.0" r="2.1"/><circle cx="270.2" cy="464.0" r="2.1"/><circle cx="322.8" cy="393.2" r="2.1"/><circle cx="450.3" cy="305.5" r="2.1"/><circle cx="150.7" cy="524.2" r="2.1"/><circle cx="179.3" cy="520.1" r="2.1"/><circle cx="233.0" cy="486.0" r="2.1"/><circle cx="327.7" cy="384.2" r="2.1"/><circle cx="222.6" cy="545.9" r="2.1"/><circle cx="405.5" cy="310.0" r="2.1"/><circle cx="260.0" cy="454.1" r="2.1"/><circle cx="353.8" cy="357.6" r="2.1"/><circle cx="184.9" cy="502.4" r="2.1"/><circle cx="201.6" cy="503.0" r="2.1"/><circle cx="278.5" cy="348.5" r="2.1"/><circle cx="233.1" cy="429.4" r="2.1"/><circle cx="172.9" cy="557.1" r="2.1"/><circle cx="226.5" cy="481.6" r="2.1"/><circle cx="382.9" cy="333.1" r="2.1"/><circle cx="414.2" cy="345.5" r="2.1"/><circle cx="573.5" cy="117.3" r="2.1"/><circle cx="394.5" cy="321.2" r="2.1"/><circle cx="431.4" cy="292.6" r="2.1"/><circle cx="293.6" cy="394.2" r="2.1"/><circle cx="343.3" cy="344.6" r="2.1"/><circle cx="238.6" cy="469.4" r="2.1"/><circle cx="198.1" cy="513.6" r="2.1"/><circle cx="277.9" cy="498.1" r="2.1"/><circle cx="352.1" cy="336.9" r="2.1"/><circle cx="303.0" cy="400.7" r="2.1"/><circle cx="368.1" cy="330.9" r="2.1"/><circle cx="299.0" cy="401.5" r="2.1"/><circle cx="296.5" cy="374.3" r="2.1"/><circle cx="347.0" cy="348.8" r="2.1"/><circle cx="279.2" cy="417.6" r="2.1"/><circle cx="362.9" cy="318.7" r="2.1"/><circle cx="301.7" cy="386.5" r="2.1"/><circle cx="204.3" cy="460.8" r="2.1"/><circle cx="245.9" cy="549.5" r="2.1"/><circle cx="403.3" cy="278.8" r="2.1"/><circle cx="207.8" cy="440.0" r="2.1"/><circle cx="297.0" cy="449.4" r="2.1"/><circle cx="227.0" cy="470.6" r="2.1"/><circle cx="380.2" cy="217.6" r="2.1"/><circle cx="249.4" cy="407.3" r="2.1"/><circle cx="327.1" cy="338.9" r="2.1"/><circle cx="294.0" cy="391.9" r="2.1"/><circle cx="294.9" cy="479.6" r="2.1"/><circle cx="429.8" cy="236.9" r="2.1"/><circle cx="321.9" cy="355.9" r="2.1"/><circle cx="213.8" cy="562.4" r="2.1"/><circle cx="268.6" cy="352.7" r="2.1"/><circle cx="288.2" cy="440.4" r="2.1"/><circle cx="292.7" cy="366.0" r="2.1"/><circle cx="346.2" cy="380.2" r="2.1"/><circle cx="471.9" cy="305.5" r="2.1"/><circle cx="303.6" cy="411.7" r="2.1"/><circle cx="223.7" cy="564.7" r="2.1"/><circle cx="357.8" cy="330.7" r="2.1"/><circle cx="301.0" cy="375.4" r="2.1"/><circle cx="282.8" cy="462.8" r="2.1"/><circle cx="245.3" cy="536.0" r="2.1"/><circle cx="230.8" cy="485.3" r="2.1"/><circle cx="289.0" cy="384.2" r="2.1"/><circle cx="265.6" cy="425.5" r="2.1"/><circle cx="289.5" cy="360.8" r="2.1"/><circle cx="236.4" cy="452.2" r="2.1"/><circle cx="306.9" cy="486.7" r="2.1"/><circle cx="322.5" cy="320.5" r="2.1"/><circle cx="488.8" cy="215.8" r="2.1"/><circle cx="119.8" cy="590.5" r="2.1"/><circle cx="588.1" cy="122.6" r="2.1"/><circle cx="388.6" cy="326.6" r="2.1"/><circle cx="379.2" cy="356.5" r="2.1"/><circle cx="302.0" cy="363.0" r="2.1"/><circle cx="231.6" cy="452.5" r="2.1"/><circle cx="197.9" cy="523.8" r="2.1"/><circle cx="225.6" cy="453.3" r="2.1"/><circle cx="329.8" cy="389.3" r="2.1"/><circle cx="202.9" cy="522.8" r="2.1"/><circle cx="232.5" cy="498.8" r="2.1"/><circle cx="318.7" cy="392.6" r="2.1"/><circle cx="338.7" cy="328.2" r="2.1"/><circle cx="221.2" cy="451.8" r="2.1"/><circle cx="271.7" cy="463.7" r="2.1"/><circle cx="366.4" cy="347.7" r="2.1"/><circle cx="217.9" cy="580.5" r="2.1"/><circle cx="523.3" cy="205.8" r="2.1"/><circle cx="327.7" cy="493.8" r="2.1"/><circle cx="517.4" cy="113.2" r="2.1"/><circle cx="341.2" cy="330.9" r="2.1"/><circle cx="230.8" cy="498.9" r="2.1"/><circle cx="203.2" cy="530.9" r="2.1"/><circle cx="240.7" cy="516.7" r="2.1"/><circle cx="202.7" cy="486.4" r="2.1"/><circle cx="315.0" cy="392.1" r="2.1"/><circle cx="327.1" cy="383.6" r="2.1"/><circle cx="291.2" cy="401.9" r="2.1"/><circle cx="246.7" cy="461.0" r="2.1"/><circle cx="293.0" cy="446.3" r="2.1"/><circle cx="314.8" cy="414.7" r="2.1"/><circle cx="188.2" cy="495.1" r="2.1"/><circle cx="269.8" cy="444.1" r="2.1"/><circle cx="428.1" cy="219.9" r="2.1"/><circle cx="331.0" cy="348.8" r="2.1"/><circle cx="425.6" cy="352.7" r="2.1"/><circle cx="345.8" cy="355.5" r="2.1"/><circle cx="192.4" cy="534.4" r="2.1"/><circle cx="289.9" cy="476.9" r="2.1"/><circle cx="286.2" cy="349.6" r="2.1"/><circle cx="464.9" cy="302.6" r="2.1"/><circle cx="346.1" cy="343.0" r="2.1"/><circle cx="314.7" cy="392.4" r="2.1"/><circle cx="412.9" cy="222.2" r="2.1"/><circle cx="238.5" cy="463.8" r="2.1"/><circle cx="238.9" cy="527.8" r="2.1"/><circle cx="207.8" cy="502.5" r="2.1"/><circle cx="197.9" cy="493.2" r="2.1"/><circle cx="206.0" cy="458.4" r="2.1"/><circle cx="393.2" cy="316.5" r="2.1"/><circle cx="362.5" cy="315.0" r="2.1"/><circle cx="432.1" cy="269.9" r="2.1"/><circle cx="291.0" cy="447.5" r="2.1"/><circle cx="291.2" cy="445.9" r="2.1"/><circle cx="162.4" cy="533.6" r="2.1"/><circle cx="261.3" cy="455.0" r="2.1"/><circle cx="327.7" cy="480.9" r="2.1"/><circle cx="258.0" cy="470.9" r="2.1"/><circle cx="300.3" cy="491.5" r="2.1"/><circle cx="160.1" cy="499.6" r="2.1"/><circle cx="384.4" cy="375.1" r="2.1"/><circle cx="263.1" cy="377.6" r="2.1"/><circle cx="279.4" cy="485.9" r="2.1"/><circle cx="214.3" cy="481.1" r="2.1"/><circle cx="109.9" cy="576.4" r="2.1"/><circle cx="301.7" cy="446.1" r="2.1"/><circle cx="368.8" cy="314.4" r="2.1"/><circle cx="154.2" cy="529.5" r="2.1"/><circle cx="205.8" cy="497.2" r="2.1"/><circle cx="296.2" cy="419.4" r="2.1"/><circle cx="351.4" cy="361.3" r="2.1"/><circle cx="304.1" cy="413.6" r="2.1"/><circle cx="248.8" cy="494.3" r="2.1"/><circle cx="109.3" cy="566.5" r="2.1"/><circle cx="376.0" cy="346.5" r="2.1"/><circle cx="198.1" cy="507.7" r="2.1"/><circle cx="207.5" cy="519.0" r="2.1"/><circle cx="356.6" cy="313.8" r="2.1"/><circle cx="347.6" cy="321.8" r="2.1"/><circle cx="513.3" cy="243.4" r="2.1"/><circle cx="198.7" cy="466.5" r="2.1"/><circle cx="269.3" cy="381.3" r="2.1"/><circle cx="295.7" cy="422.5" r="2.1"/><circle cx="191.9" cy="515.8" r="2.1"/><circle cx="227.1" cy="485.2" r="2.1"/><circle cx="404.2" cy="315.7" r="2.1"/><circle cx="404.1" cy="333.8" r="2.1"/><circle cx="378.5" cy="431.6" r="2.1"/><circle cx="216.9" cy="500.9" r="2.1"/><circle cx="296.7" cy="456.2" r="2.1"/><circle cx="513.9" cy="166.0" r="2.1"/><circle cx="277.0" cy="388.2" r="2.1"/><circle cx="304.3" cy="520.7" r="2.1"/><circle cx="435.1" cy="221.1" r="2.1"/><circle cx="453.8" cy="228.7" r="2.1"/><circle cx="355.7" cy="520.7" r="2.1"/><circle cx="257.8" cy="484.4" r="2.1"/><circle cx="174.1" cy="529.5" r="2.1"/><circle cx="242.4" cy="515.4" r="2.1"/><circle cx="345.6" cy="339.8" r="2.1"/><circle cx="320.5" cy="293.0" r="2.1"/><circle cx="372.6" cy="337.0" r="2.1"/><circle cx="208.6" cy="491.5" r="2.1"/><circle cx="416.4" cy="333.4" r="2.1"/><circle cx="415.1" cy="299.8" r="2.1"/><circle cx="249.4" cy="522.5" r="2.1"/><circle cx="213.9" cy="470.8" r="2.1"/><circle cx="202.1" cy="499.1" r="2.1"/><circle cx="266.0" cy="481.7" r="2.1"/><circle cx="284.9" cy="412.6" r="2.1"/><circle cx="550.1" cy="141.3" r="2.1"/><circle cx="306.0" cy="436.9" r="2.1"/><circle cx="212.4" cy="470.7" r="2.1"/><circle cx="286.4" cy="412.5" r="2.1"/><circle cx="314.4" cy="396.9" r="2.1"/><circle cx="262.6" cy="442.0" r="2.1"/><circle cx="388.2" cy="285.8" r="2.1"/><circle cx="289.6" cy="456.5" r="2.1"/><circle cx="418.7" cy="242.8" r="2.1"/><circle cx="416.3" cy="295.8" r="2.1"/><circle cx="352.8" cy="515.6" r="2.1"/><circle cx="274.8" cy="415.1" r="2.1"/><circle cx="292.2" cy="384.5" r="2.1"/><circle cx="383.1" cy="399.9" r="2.1"/><circle cx="288.9" cy="387.4" r="2.1"/><circle cx="235.4" cy="508.6" r="2.1"/><circle cx="322.4" cy="460.9" r="2.1"/><circle cx="262.6" cy="438.5" r="2.1"/><circle cx="413.6" cy="343.6" r="2.1"/><circle cx="169.4" cy="543.0" r="2.1"/><circle cx="313.9" cy="349.8" r="2.1"/><circle cx="297.1" cy="416.9" r="2.1"/><circle cx="391.9" cy="393.5" r="2.1"/><circle cx="244.6" cy="468.4" r="2.1"/><circle cx="381.4" cy="276.4" r="2.1"/><circle cx="203.0" cy="504.5" r="2.1"/><circle cx="359.5" cy="284.2" r="2.1"/><circle cx="336.5" cy="351.1" r="2.1"/><circle cx="224.1" cy="474.5" r="2.1"/><circle cx="322.5" cy="322.0" r="2.1"/><circle cx="312.6" cy="397.8" r="2.1"/><circle cx="236.0" cy="441.7" r="2.1"/><circle cx="177.6" cy="537.7" r="2.1"/><circle cx="339.6" cy="387.5" r="2.1"/><circle cx="295.1" cy="413.8" r="2.1"/><circle cx="201.7" cy="476.6" r="2.1"/><circle cx="254.5" cy="426.4" r="2.1"/><circle cx="373.8" cy="266.8" r="2.1"/></g><line x1="85.64" y1="619.06" x2="649.66" y2="52.14" stroke="#000" stroke-width="3" stroke-dasharray="3 5.047"/><rect x="83.00" y="31.10" width="587.40" height="589.90" fill="none" stroke="#000" stroke-width="1.6"/><g stroke="#000" stroke-width="1.6"><line x1="83.00" y1="621.00" x2="83.00" y2="628.00"/><line x1="83.00" y1="621.00" x2="76.00" y2="621.00"/><line x1="199.78" y1="621.00" x2="199.78" y2="628.00"/><line x1="83.00" y1="503.72" x2="76.00" y2="503.72"/><line x1="316.56" y1="621.00" x2="316.56" y2="628.00"/><line x1="83.00" y1="386.44" x2="76.00" y2="386.44"/><line x1="433.34" y1="621.00" x2="433.34" y2="628.00"/><line x1="83.00" y1="269.16" x2="76.00" y2="269.16"/><line x1="550.12" y1="621.00" x2="550.12" y2="628.00"/><line x1="83.00" y1="151.88" x2="76.00" y2="151.88"/><line x1="666.90" y1="621.00" x2="666.90" y2="628.00"/><line x1="83.00" y1="34.60" x2="76.00" y2="34.60"/></g><g font-family='"Liberation Sans", sans-serif' fill="#000"><text x="83.50" y="651.3" font-size="21.5" text-anchor="middle">0</text><text x="68.6" y="628.90" font-size="21.5" text-anchor="end">0</text><text x="200.28" y="651.3" font-size="21.5" text-anchor="middle" textLength="25.58" lengthAdjust="spacingAndGlyphs">20</text><text x="68.6" y="511.62" font-size="21.5" text-anchor="end" textLength="25.58" lengthAdjust="spacingAndGlyphs">20</text><text x="317.06" y="651.3" font-size="21.5" text-anchor="middle" textLength="25.58" lengthAdjust="spacingAndGlyphs">40</text><text x="68.6" y="394.34" font-size="21.5" text-anchor="end" textLength="25.58" lengthAdjust="spacingAndGlyphs">40</text><text x="433.84" y="651.3" font-size="21.5" text-anchor="middle" textLength="25.58" lengthAdjust="spacingAndGlyphs">60</text><text x="68.6" y="277.06" font-size="21.5" text-anchor="end" textLength="25.58" lengthAdjust="spacingAndGlyphs">60</text><text x="550.62" y="651.3" font-size="21.5" text-anchor="middle" textLength="25.58" lengthAdjust="spacingAndGlyphs">80</text><text x="68.6" y="159.78" font-size="21.5" text-anchor="end" textLength="25.58" lengthAdjust="spacingAndGlyphs">80</text><text x="666.10" y="651.3" font-size="21.5" text-anchor="middle" textLength="37.66" lengthAdjust="spacingAndGlyphs">100</text><text x="68.6" y="42.50" font-size="21.5" text-anchor="end" textLength="37.66" lengthAdjust="spacingAndGlyphs">100</text><text x="230.08" y="18.6" font-size="25.4" text-anchor="start" textLength="293.73" lengthAdjust="spacingAndGlyphs">Intrathoracic Deposition</text><text x="351.76" y="681.9" font-size="25.4" text-anchor="start" textLength="51.16" lengthAdjust="spacingAndGlyphs">RDA</text><text x="0" y="0" font-size="25.4" textLength="48.96" lengthAdjust="spacingAndGlyphs" transform="translate(17.9 352.39) rotate(-90)">CFD</text><text x="435.06" y="503.0" font-size="21.2" text-anchor="start" textLength="227.01" lengthAdjust="spacingAndGlyphs">Correlation ICC = 0.92</text></g><rect x="92.7" y="39.9" width="296.4" height="78.2" rx="3.5" fill="#fff" fill-opacity="0.8" stroke="#d2d2d2" stroke-width="1.6"/><circle cx="114.8" cy="53.5" r="1.8" fill="#000" fill-opacity="0.42"/><line x1="97.6" y1="78.05" x2="130.6" y2="78.05" stroke="#000" stroke-width="2.8" stroke-dasharray="2.8 5.3"/><path d="M114.4 101.45L117.1 106.95L111.7 106.95Z" fill="none" stroke="#ff0000" stroke-opacity="0.8" stroke-width="1.05"/><g font-family='"Liberation Sans", sans-serif' font-size="18.0" fill="#000"><text x="143.83" y="58.9" textLength="239.24" lengthAdjust="spacingAndGlyphs">Training Data: N=2747 (80%)</text><text x="143.49" y="83.5" textLength="88.92" lengthAdjust="spacingAndGlyphs">Correlation</text><text x="143.83" y="108.3" textLength="196.77" lengthAdjust="spacingAndGlyphs">Test Data: N=687 (20%)</text></g>
</svg>
</body></html>
